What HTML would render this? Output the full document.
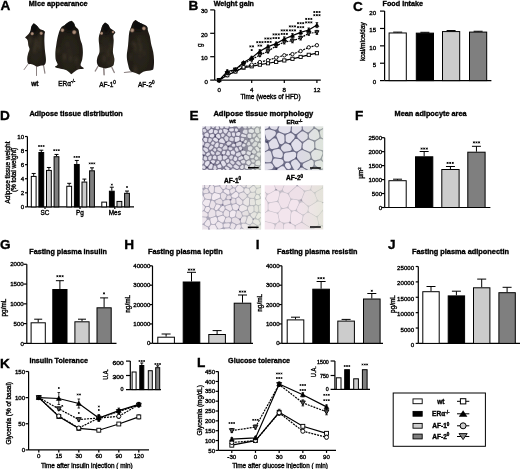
<!DOCTYPE html>
<html><head><meta charset="utf-8"><style>
html,body{margin:0;padding:0;background:#fff;width:520px;height:469px;overflow:hidden}
svg{display:block;font-family:"Liberation Sans",sans-serif;filter:blur(0.3px)}
</style></head><body>
<svg width="520" height="469" viewBox="0 0 520 469">
<defs>
<radialGradient id="mg" cx="50%" cy="60%" r="60%"><stop offset="0" stop-color="#2b261d"/><stop offset="0.7" stop-color="#221e17"/><stop offset="1" stop-color="#16130f"/></radialGradient>
<radialGradient id="eg"><stop offset="0" stop-color="#bca08c"/><stop offset="0.5" stop-color="#8e7260"/><stop offset="1" stop-color="#2a2119" stop-opacity="0"/></radialGradient>
<filter id="hb"><feGaussianBlur stdDeviation="0.3"/></filter>
<filter id="mb" x="-20%" y="-20%" width="140%" height="140%"><feGaussianBlur stdDeviation="0.35"/></filter>
<filter id="mb2" x="-50%" y="-50%" width="200%" height="200%"><feGaussianBlur stdDeviation="1.5"/></filter>
</defs>
<rect width="520" height="469" fill="#fff"/>
<g font-family="Liberation Sans, sans-serif">
<style>text{stroke:#000;stroke-width:0.35px}</style>
<text x="0.60" y="9.70" font-size="13.6" text-anchor="start" font-weight="bold" fill="#000">A</text>
<text x="28.80" y="5.60" font-size="7.3" text-anchor="start" font-weight="bold" fill="#000" textLength="58.7" lengthAdjust="spacingAndGlyphs">Mice appearance</text>
<clipPath id="mc1"><path d="M33.80 23.20C33.80 23.20 35.68 24.55 36.70 25.50C37.72 26.45 38.83 28.12 39.90 28.90C40.97 29.68 42.27 29.72 43.10 30.20C43.93 30.68 44.67 31.00 44.90 31.80C45.13 32.60 44.58 33.30 44.50 35.00C44.42 36.70 44.33 39.50 44.40 42.00C44.47 44.50 44.70 47.73 44.90 50.00C45.10 52.27 45.43 53.77 45.60 55.60C45.77 57.43 46.07 59.47 45.90 61.00C45.73 62.53 45.53 64.00 44.60 64.80C43.67 65.60 41.60 65.50 40.30 65.80C39.00 66.10 38.08 66.80 36.80 66.60C35.52 66.40 34.02 65.07 32.60 64.60C31.18 64.13 29.20 64.73 28.30 63.80C27.40 62.87 27.25 60.63 27.20 59.00C27.15 57.37 27.62 55.63 28.00 54.00C28.38 52.37 29.43 50.62 29.50 49.20C29.57 47.78 28.72 47.00 28.40 45.50C28.08 44.00 28.13 41.52 27.60 40.20C27.07 38.88 25.42 38.27 25.20 37.60C24.98 36.93 25.67 36.90 26.30 36.20C26.93 35.50 28.30 34.30 29.00 33.40C29.70 32.50 30.08 31.98 30.50 30.80C30.92 29.62 30.95 27.57 31.50 26.30C32.05 25.03 33.80 23.20 33.80 23.20Z"/></clipPath>
<line x1="27.8" y1="64.5" x2="24.1" y2="69.6" stroke="#8c8282" stroke-width="1.0" stroke-linecap="round" filter="url(#mb)"/>
<line x1="36.2" y1="66.5" x2="36.5" y2="75.2" stroke="#8c8282" stroke-width="1.5" stroke-linecap="round" filter="url(#mb)"/>
<line x1="43.5" y1="65.0" x2="44.9" y2="73.1" stroke="#8c8282" stroke-width="1.2" stroke-linecap="round" filter="url(#mb)"/>
<g filter="url(#mb)"><path d="M33.80 23.20C33.80 23.20 35.68 24.55 36.70 25.50C37.72 26.45 38.83 28.12 39.90 28.90C40.97 29.68 42.27 29.72 43.10 30.20C43.93 30.68 44.67 31.00 44.90 31.80C45.13 32.60 44.58 33.30 44.50 35.00C44.42 36.70 44.33 39.50 44.40 42.00C44.47 44.50 44.70 47.73 44.90 50.00C45.10 52.27 45.43 53.77 45.60 55.60C45.77 57.43 46.07 59.47 45.90 61.00C45.73 62.53 45.53 64.00 44.60 64.80C43.67 65.60 41.60 65.50 40.30 65.80C39.00 66.10 38.08 66.80 36.80 66.60C35.52 66.40 34.02 65.07 32.60 64.60C31.18 64.13 29.20 64.73 28.30 63.80C27.40 62.87 27.25 60.63 27.20 59.00C27.15 57.37 27.62 55.63 28.00 54.00C28.38 52.37 29.43 50.62 29.50 49.20C29.57 47.78 28.72 47.00 28.40 45.50C28.08 44.00 28.13 41.52 27.60 40.20C27.07 38.88 25.42 38.27 25.20 37.60C24.98 36.93 25.67 36.90 26.30 36.20C26.93 35.50 28.30 34.30 29.00 33.40C29.70 32.50 30.08 31.98 30.50 30.80C30.92 29.62 30.95 27.57 31.50 26.30C32.05 25.03 33.80 23.20 33.80 23.20Z" fill="url(#mg)"/>
<g clip-path="url(#mc1)"><ellipse cx="34.5" cy="28.5" rx="4.5" ry="6.5" fill="#0e0b09" opacity="0.8" filter="url(#mb2)"/>
<ellipse cx="40.1" cy="38.9" rx="1.4" ry="4.4" fill="#4e4536" opacity="0.45" filter="url(#mb2)"/>
<ellipse cx="35.5" cy="44.1" rx="1.0" ry="4.4" fill="#4e4536" opacity="0.45" filter="url(#mb2)"/>
<ellipse cx="30.0" cy="40.6" rx="1.5" ry="4.9" fill="#4e4536" opacity="0.45" filter="url(#mb2)"/>
<ellipse cx="27.3" cy="51.3" rx="1.6" ry="4.0" fill="#4e4536" opacity="0.45" filter="url(#mb2)"/>
<ellipse cx="39.3" cy="45.7" rx="1.7" ry="4.3" fill="#4e4536" opacity="0.45" filter="url(#mb2)"/>
<ellipse cx="36.3" cy="42.0" rx="1.2" ry="4.2" fill="#4e4536" opacity="0.45" filter="url(#mb2)"/>
<ellipse cx="34.6" cy="49.3" rx="1.4" ry="3.8" fill="#4e4536" opacity="0.45" filter="url(#mb2)"/>
<circle cx="32.2" cy="33.7" r="2.4000000000000004" fill="url(#eg)"/>
<circle cx="41.2" cy="33.3" r="2.4000000000000004" fill="url(#eg)"/>
</g></g>
<clipPath id="mc2"><path d="M71.70 20.80C71.70 20.80 73.57 22.42 74.20 23.40C74.83 24.38 74.82 25.70 75.50 26.70C76.18 27.70 77.68 28.27 78.30 29.40C78.92 30.53 78.83 31.73 79.20 33.50C79.57 35.27 80.00 38.08 80.50 40.00C81.00 41.92 81.80 42.95 82.20 45.00C82.60 47.05 82.90 49.87 82.90 52.30C82.90 54.73 82.58 57.43 82.20 59.60C81.82 61.77 80.33 63.83 80.60 65.30C80.87 66.77 84.15 67.75 83.80 68.40C83.45 69.05 79.98 68.70 78.50 69.20C77.02 69.70 76.12 70.57 74.90 71.40C73.68 72.23 71.20 74.20 71.20 74.20C71.20 74.20 68.28 71.12 66.50 70.20C64.72 69.28 62.42 69.23 60.50 68.70C58.58 68.17 55.48 67.70 55.00 67.00C54.52 66.30 57.48 65.73 57.60 64.50C57.72 63.27 56.07 61.63 55.70 59.60C55.33 57.57 55.32 54.65 55.40 52.30C55.48 49.95 55.88 47.75 56.20 45.50C56.52 43.25 56.88 40.85 57.30 38.80C57.72 36.75 58.08 35.05 58.70 33.20C59.32 31.35 60.03 29.02 61.00 27.70C61.97 26.38 63.35 26.17 64.50 25.30C65.65 24.43 66.70 23.25 67.90 22.50C69.10 21.75 71.70 20.80 71.70 20.80Z"/></clipPath>
<g filter="url(#mb)"><path d="M71.70 20.80C71.70 20.80 73.57 22.42 74.20 23.40C74.83 24.38 74.82 25.70 75.50 26.70C76.18 27.70 77.68 28.27 78.30 29.40C78.92 30.53 78.83 31.73 79.20 33.50C79.57 35.27 80.00 38.08 80.50 40.00C81.00 41.92 81.80 42.95 82.20 45.00C82.60 47.05 82.90 49.87 82.90 52.30C82.90 54.73 82.58 57.43 82.20 59.60C81.82 61.77 80.33 63.83 80.60 65.30C80.87 66.77 84.15 67.75 83.80 68.40C83.45 69.05 79.98 68.70 78.50 69.20C77.02 69.70 76.12 70.57 74.90 71.40C73.68 72.23 71.20 74.20 71.20 74.20C71.20 74.20 68.28 71.12 66.50 70.20C64.72 69.28 62.42 69.23 60.50 68.70C58.58 68.17 55.48 67.70 55.00 67.00C54.52 66.30 57.48 65.73 57.60 64.50C57.72 63.27 56.07 61.63 55.70 59.60C55.33 57.57 55.32 54.65 55.40 52.30C55.48 49.95 55.88 47.75 56.20 45.50C56.52 43.25 56.88 40.85 57.30 38.80C57.72 36.75 58.08 35.05 58.70 33.20C59.32 31.35 60.03 29.02 61.00 27.70C61.97 26.38 63.35 26.17 64.50 25.30C65.65 24.43 66.70 23.25 67.90 22.50C69.10 21.75 71.70 20.80 71.70 20.80Z" fill="url(#mg)"/>
<g clip-path="url(#mc2)"><ellipse cx="69.5" cy="26.5" rx="6.0" ry="6.0" fill="#0e0b09" opacity="0.8" filter="url(#mb2)"/>
<ellipse cx="64.3" cy="56.3" rx="1.0" ry="2.7" fill="#4e4536" opacity="0.45" filter="url(#mb2)"/>
<ellipse cx="76.5" cy="60.3" rx="1.4" ry="3.9" fill="#4e4536" opacity="0.45" filter="url(#mb2)"/>
<ellipse cx="58.0" cy="50.8" rx="1.7" ry="2.7" fill="#4e4536" opacity="0.45" filter="url(#mb2)"/>
<ellipse cx="78.4" cy="67.3" rx="0.9" ry="4.1" fill="#4e4536" opacity="0.45" filter="url(#mb2)"/>
<ellipse cx="70.7" cy="58.4" rx="1.3" ry="3.2" fill="#4e4536" opacity="0.45" filter="url(#mb2)"/>
<ellipse cx="64.4" cy="57.3" rx="1.2" ry="4.5" fill="#4e4536" opacity="0.45" filter="url(#mb2)"/>
<ellipse cx="67.4" cy="44.1" rx="1.0" ry="2.6" fill="#4e4536" opacity="0.45" filter="url(#mb2)"/>
<circle cx="62.4" cy="30.2" r="2.7" fill="url(#eg)"/>
<circle cx="74.2" cy="32.2" r="3.0" fill="url(#eg)"/>
</g></g>
<clipPath id="mc3"><path d="M105.10 22.40C105.10 22.40 107.40 23.68 108.30 24.70C109.20 25.72 109.63 27.55 110.50 28.50C111.37 29.45 112.70 29.73 113.50 30.40C114.30 31.07 115.32 31.68 115.30 32.50C115.28 33.32 113.67 33.98 113.40 35.30C113.13 36.62 113.72 38.62 113.70 40.40C113.68 42.18 113.43 44.07 113.30 46.00C113.17 47.93 112.73 49.92 112.90 52.00C113.07 54.08 114.12 56.67 114.30 58.50C114.48 60.33 114.22 61.78 114.00 63.00C113.78 64.22 113.75 65.03 113.00 65.80C112.25 66.57 110.75 67.15 109.50 67.60C108.25 68.05 106.83 68.50 105.50 68.50C104.17 68.50 102.67 67.97 101.50 67.60C100.33 67.23 99.27 67.15 98.50 66.30C97.73 65.45 97.10 63.93 96.90 62.50C96.70 61.07 96.87 59.45 97.30 57.70C97.73 55.95 99.18 54.12 99.50 52.00C99.82 49.88 99.33 47.00 99.20 45.00C99.07 43.00 98.72 41.58 98.70 40.00C98.68 38.42 98.77 37.03 99.10 35.50C99.43 33.97 100.15 32.47 100.70 30.80C101.25 29.13 101.67 26.90 102.40 25.50C103.13 24.10 105.10 22.40 105.10 22.40Z"/></clipPath>
<line x1="97.9" y1="66.5" x2="95.2" y2="71.1" stroke="#8c8282" stroke-width="1.2" stroke-linecap="round" filter="url(#mb)"/>
<line x1="103.8" y1="68.0" x2="104.1" y2="74.7" stroke="#8c8282" stroke-width="1.5" stroke-linecap="round" filter="url(#mb)"/>
<line x1="111.9" y1="67.5" x2="114.3" y2="72.5" stroke="#8c8282" stroke-width="1.3" stroke-linecap="round" filter="url(#mb)"/>
<g filter="url(#mb)"><path d="M105.10 22.40C105.10 22.40 107.40 23.68 108.30 24.70C109.20 25.72 109.63 27.55 110.50 28.50C111.37 29.45 112.70 29.73 113.50 30.40C114.30 31.07 115.32 31.68 115.30 32.50C115.28 33.32 113.67 33.98 113.40 35.30C113.13 36.62 113.72 38.62 113.70 40.40C113.68 42.18 113.43 44.07 113.30 46.00C113.17 47.93 112.73 49.92 112.90 52.00C113.07 54.08 114.12 56.67 114.30 58.50C114.48 60.33 114.22 61.78 114.00 63.00C113.78 64.22 113.75 65.03 113.00 65.80C112.25 66.57 110.75 67.15 109.50 67.60C108.25 68.05 106.83 68.50 105.50 68.50C104.17 68.50 102.67 67.97 101.50 67.60C100.33 67.23 99.27 67.15 98.50 66.30C97.73 65.45 97.10 63.93 96.90 62.50C96.70 61.07 96.87 59.45 97.30 57.70C97.73 55.95 99.18 54.12 99.50 52.00C99.82 49.88 99.33 47.00 99.20 45.00C99.07 43.00 98.72 41.58 98.70 40.00C98.68 38.42 98.77 37.03 99.10 35.50C99.43 33.97 100.15 32.47 100.70 30.80C101.25 29.13 101.67 26.90 102.40 25.50C103.13 24.10 105.10 22.40 105.10 22.40Z" fill="url(#mg)"/>
<g clip-path="url(#mc3)"><ellipse cx="106.0" cy="28.0" rx="4.5" ry="6.5" fill="#0e0b09" opacity="0.8" filter="url(#mb2)"/>
<ellipse cx="112.7" cy="57.4" rx="1.8" ry="3.1" fill="#4e4536" opacity="0.45" filter="url(#mb2)"/>
<ellipse cx="104.1" cy="58.5" rx="1.8" ry="3.3" fill="#4e4536" opacity="0.45" filter="url(#mb2)"/>
<ellipse cx="100.9" cy="48.9" rx="1.1" ry="3.4" fill="#4e4536" opacity="0.45" filter="url(#mb2)"/>
<ellipse cx="109.1" cy="62.8" rx="1.3" ry="3.1" fill="#4e4536" opacity="0.45" filter="url(#mb2)"/>
<ellipse cx="108.6" cy="53.7" rx="1.3" ry="4.7" fill="#4e4536" opacity="0.45" filter="url(#mb2)"/>
<ellipse cx="111.0" cy="46.8" rx="1.4" ry="4.2" fill="#4e4536" opacity="0.45" filter="url(#mb2)"/>
<ellipse cx="112.9" cy="62.6" rx="1.7" ry="4.1" fill="#4e4536" opacity="0.45" filter="url(#mb2)"/>
<circle cx="101.6" cy="33.3" r="2.25" fill="url(#eg)"/>
<circle cx="113.0" cy="32.0" r="1.9500000000000002" fill="url(#eg)"/>
</g></g>
<clipPath id="mc4"><path d="M135.50 20.00C135.50 20.00 138.65 22.13 140.30 23.00C141.95 23.87 144.18 24.45 145.40 25.20C146.62 25.95 147.18 26.60 147.60 27.50C148.02 28.40 147.52 29.10 147.90 30.60C148.28 32.10 149.37 34.30 149.90 36.50C150.43 38.70 150.55 41.20 151.10 43.80C151.65 46.40 152.72 49.37 153.20 52.10C153.68 54.83 153.93 57.65 154.00 60.20C154.07 62.75 153.93 65.77 153.60 67.40C153.27 69.03 153.57 69.30 152.00 70.00C150.43 70.70 146.30 70.82 144.20 71.60C142.10 72.38 139.40 74.70 139.40 74.70C139.40 74.70 137.70 73.85 136.20 73.20C134.70 72.55 131.77 72.30 130.40 70.80C129.03 69.30 128.60 66.65 128.00 64.20C127.40 61.75 126.80 59.13 126.80 56.10C126.80 53.07 127.72 48.67 128.00 46.00C128.28 43.33 128.30 42.30 128.50 40.10C128.70 37.90 128.83 34.80 129.20 32.80C129.57 30.80 130.08 29.82 130.70 28.10C131.32 26.38 132.10 23.85 132.90 22.50C133.70 21.15 135.50 20.00 135.50 20.00Z"/></clipPath>
<line x1="124.4" y1="72.5" x2="132.0" y2="71.7" stroke="#8c8282" stroke-width="1.2" stroke-linecap="round" filter="url(#mb)"/>
<line x1="152.3" y1="70.6" x2="158.8" y2="70.6" stroke="#8c8282" stroke-width="1.2" stroke-linecap="round" filter="url(#mb)"/>
<g filter="url(#mb)"><path d="M135.50 20.00C135.50 20.00 138.65 22.13 140.30 23.00C141.95 23.87 144.18 24.45 145.40 25.20C146.62 25.95 147.18 26.60 147.60 27.50C148.02 28.40 147.52 29.10 147.90 30.60C148.28 32.10 149.37 34.30 149.90 36.50C150.43 38.70 150.55 41.20 151.10 43.80C151.65 46.40 152.72 49.37 153.20 52.10C153.68 54.83 153.93 57.65 154.00 60.20C154.07 62.75 153.93 65.77 153.60 67.40C153.27 69.03 153.57 69.30 152.00 70.00C150.43 70.70 146.30 70.82 144.20 71.60C142.10 72.38 139.40 74.70 139.40 74.70C139.40 74.70 137.70 73.85 136.20 73.20C134.70 72.55 131.77 72.30 130.40 70.80C129.03 69.30 128.60 66.65 128.00 64.20C127.40 61.75 126.80 59.13 126.80 56.10C126.80 53.07 127.72 48.67 128.00 46.00C128.28 43.33 128.30 42.30 128.50 40.10C128.70 37.90 128.83 34.80 129.20 32.80C129.57 30.80 130.08 29.82 130.70 28.10C131.32 26.38 132.10 23.85 132.90 22.50C133.70 21.15 135.50 20.00 135.50 20.00Z" fill="url(#mg)"/>
<g clip-path="url(#mc4)"><ellipse cx="138.5" cy="25.5" rx="6.0" ry="6.0" fill="#0e0b09" opacity="0.8" filter="url(#mb2)"/>
<ellipse cx="135.4" cy="70.3" rx="1.6" ry="5.0" fill="#4e4536" opacity="0.45" filter="url(#mb2)"/>
<ellipse cx="133.6" cy="43.6" rx="1.7" ry="2.7" fill="#4e4536" opacity="0.45" filter="url(#mb2)"/>
<ellipse cx="130.5" cy="56.8" rx="0.9" ry="3.5" fill="#4e4536" opacity="0.45" filter="url(#mb2)"/>
<ellipse cx="144.3" cy="53.1" rx="0.8" ry="3.0" fill="#4e4536" opacity="0.45" filter="url(#mb2)"/>
<ellipse cx="139.2" cy="41.2" rx="1.1" ry="4.9" fill="#4e4536" opacity="0.45" filter="url(#mb2)"/>
<ellipse cx="135.4" cy="47.9" rx="1.2" ry="4.6" fill="#4e4536" opacity="0.45" filter="url(#mb2)"/>
<ellipse cx="140.6" cy="47.9" rx="1.1" ry="4.9" fill="#4e4536" opacity="0.45" filter="url(#mb2)"/>
<circle cx="132.2" cy="30.3" r="3.0" fill="url(#eg)"/>
<circle cx="143.9" cy="28.4" r="2.7" fill="url(#eg)"/>
</g></g>
<text x="34.90" y="83.50" font-size="6.5" text-anchor="middle" font-weight="bold" dominant-baseline="central" fill="#000">wt</text>
<text x="66.8" y="83.6" font-size="6.5" text-anchor="middle" dominant-baseline="central">ER&#945;<tspan font-size="4.5" dy="-2.2">-/-</tspan></text>
<text x="107.5" y="84.6" font-size="6.5" text-anchor="middle" dominant-baseline="central">AF-1<tspan font-size="4.5" dy="-2.2">0</tspan></text>
<text x="146.3" y="84.6" font-size="6.5" text-anchor="middle" dominant-baseline="central">AF-2<tspan font-size="4.5" dy="-2.2">0</tspan></text>
<text x="188.60" y="10.10" font-size="13.6" text-anchor="start" font-weight="bold" fill="#000">B</text>
<text x="213.70" y="5.80" font-size="7.3" text-anchor="start" font-weight="bold" fill="#000" textLength="40.3" lengthAdjust="spacingAndGlyphs">Weight gain</text>
<line x1="214.70" y1="9.90" x2="214.70" y2="80.10" stroke="#000" stroke-width="1.2"/>
<line x1="210.20" y1="80.10" x2="214.70" y2="80.10" stroke="#000" stroke-width="1.2"/>
<text x="207.80" y="81.10" font-size="6.15" text-anchor="end" dominant-baseline="central" fill="#000">0</text>
<line x1="210.20" y1="56.70" x2="214.70" y2="56.70" stroke="#000" stroke-width="1.2"/>
<text x="207.80" y="57.70" font-size="6.15" text-anchor="end" dominant-baseline="central" fill="#000">10</text>
<line x1="210.20" y1="33.30" x2="214.70" y2="33.30" stroke="#000" stroke-width="1.2"/>
<text x="207.80" y="34.30" font-size="6.15" text-anchor="end" dominant-baseline="central" fill="#000">20</text>
<line x1="210.20" y1="9.90" x2="214.70" y2="9.90" stroke="#000" stroke-width="1.2"/>
<text x="207.80" y="10.90" font-size="6.15" text-anchor="end" dominant-baseline="central" fill="#000">30</text>
<line x1="214.70" y1="80.10" x2="320.80" y2="80.10" stroke="#000" stroke-width="1.2"/>
<line x1="219.10" y1="80.10" x2="219.10" y2="83.10" stroke="#000" stroke-width="1.2"/>
<text x="219.10" y="89.60" font-size="6.15" text-anchor="middle" dominant-baseline="central" fill="#000">0</text>
<line x1="251.70" y1="80.10" x2="251.70" y2="83.10" stroke="#000" stroke-width="1.2"/>
<text x="251.70" y="89.60" font-size="6.15" text-anchor="middle" dominant-baseline="central" fill="#000">4</text>
<line x1="284.30" y1="80.10" x2="284.30" y2="83.10" stroke="#000" stroke-width="1.2"/>
<text x="284.30" y="89.60" font-size="6.15" text-anchor="middle" dominant-baseline="central" fill="#000">8</text>
<line x1="316.90" y1="80.10" x2="316.90" y2="83.10" stroke="#000" stroke-width="1.2"/>
<text x="316.90" y="89.60" font-size="6.15" text-anchor="middle" dominant-baseline="central" fill="#000">12</text>
<text x="270.50" y="96.20" font-size="6.4" text-anchor="middle" dominant-baseline="central" fill="#000">Time (weeks of HFD)</text>
<text x="199.40" y="45.30" font-size="6.4" text-anchor="middle" dominant-baseline="central" transform="rotate(-90 199.40 45.30)" fill="#000">g</text>
<polyline points="219.10,80.10 227.25,75.19 235.40,71.44 243.55,67.70 251.70,66.29 259.85,64.66 268.00,63.25 276.15,61.85 284.30,60.44 292.45,58.81 300.60,56.93 308.75,54.83 316.90,53.19" fill="none" stroke="#000" stroke-width="1.2"/>
<polyline points="219.10,80.10 227.25,75.19 235.40,71.44 243.55,67.00 251.70,64.66 259.85,62.08 268.00,60.21 276.15,57.64 284.30,55.30 292.45,54.13 300.60,51.08 308.75,47.34 316.90,45.23" fill="none" stroke="#000" stroke-width="1.2" stroke-dasharray="2,1"/>
<polyline points="219.10,80.10 227.25,71.44 235.40,69.57 243.55,62.55 251.70,57.87 259.85,51.32 268.00,46.64 276.15,43.60 284.30,38.92 292.45,35.64 300.60,32.36 308.75,30.02 316.90,25.11" fill="none" stroke="#000" stroke-width="1.2"/>
<polyline points="219.10,80.10 227.25,73.08 235.40,69.57 243.55,63.72 251.70,59.51 259.85,55.06 268.00,51.32 276.15,45.94 284.30,41.96 292.45,40.79 300.60,37.98 308.75,33.30 316.90,32.36" fill="none" stroke="#000" stroke-width="1.2" stroke-dasharray="2,1"/>
<rect x="217.50" y="78.50" width="3.20" height="3.20" fill="#fff" stroke="#000" stroke-width="0.9"/>
<rect x="225.65" y="73.59" width="3.20" height="3.20" fill="#fff" stroke="#000" stroke-width="0.9"/>
<rect x="233.80" y="69.84" width="3.20" height="3.20" fill="#fff" stroke="#000" stroke-width="0.9"/>
<rect x="241.95" y="66.10" width="3.20" height="3.20" fill="#fff" stroke="#000" stroke-width="0.9"/>
<rect x="250.10" y="64.69" width="3.20" height="3.20" fill="#fff" stroke="#000" stroke-width="0.9"/>
<rect x="258.25" y="63.06" width="3.20" height="3.20" fill="#fff" stroke="#000" stroke-width="0.9"/>
<rect x="266.40" y="61.65" width="3.20" height="3.20" fill="#fff" stroke="#000" stroke-width="0.9"/>
<rect x="274.55" y="60.25" width="3.20" height="3.20" fill="#fff" stroke="#000" stroke-width="0.9"/>
<rect x="282.70" y="58.84" width="3.20" height="3.20" fill="#fff" stroke="#000" stroke-width="0.9"/>
<rect x="290.85" y="57.21" width="3.20" height="3.20" fill="#fff" stroke="#000" stroke-width="0.9"/>
<rect x="299.00" y="55.33" width="3.20" height="3.20" fill="#fff" stroke="#000" stroke-width="0.9"/>
<rect x="307.15" y="53.23" width="3.20" height="3.20" fill="#fff" stroke="#000" stroke-width="0.9"/>
<rect x="315.30" y="51.59" width="3.20" height="3.20" fill="#fff" stroke="#000" stroke-width="0.9"/>
<circle cx="219.10" cy="80.10" r="1.70" fill="#fff" stroke="#000" stroke-width="0.9"/>
<circle cx="227.25" cy="75.19" r="1.70" fill="#fff" stroke="#000" stroke-width="0.9"/>
<circle cx="235.40" cy="71.44" r="1.70" fill="#fff" stroke="#000" stroke-width="0.9"/>
<circle cx="243.55" cy="67.00" r="1.70" fill="#fff" stroke="#000" stroke-width="0.9"/>
<circle cx="251.70" cy="64.66" r="1.70" fill="#fff" stroke="#000" stroke-width="0.9"/>
<circle cx="259.85" cy="62.08" r="1.70" fill="#fff" stroke="#000" stroke-width="0.9"/>
<circle cx="268.00" cy="60.21" r="1.70" fill="#fff" stroke="#000" stroke-width="0.9"/>
<circle cx="276.15" cy="57.64" r="1.70" fill="#fff" stroke="#000" stroke-width="0.9"/>
<circle cx="284.30" cy="55.30" r="1.70" fill="#fff" stroke="#000" stroke-width="0.9"/>
<circle cx="292.45" cy="54.13" r="1.70" fill="#fff" stroke="#000" stroke-width="0.9"/>
<circle cx="300.60" cy="51.08" r="1.70" fill="#fff" stroke="#000" stroke-width="0.9"/>
<circle cx="308.75" cy="47.34" r="1.70" fill="#fff" stroke="#000" stroke-width="0.9"/>
<circle cx="316.90" cy="45.23" r="1.70" fill="#fff" stroke="#000" stroke-width="0.9"/>
<path d="M219.10 82.20L221.20 78.50L217.00 78.50Z" fill="#555" stroke="#000" stroke-width="0.9"/>
<line x1="227.25" y1="71.58" x2="227.25" y2="74.58" stroke="#000" stroke-width="0.8"/>
<line x1="225.95" y1="71.58" x2="228.55" y2="71.58" stroke="#000" stroke-width="0.8"/>
<line x1="225.95" y1="74.58" x2="228.55" y2="74.58" stroke="#000" stroke-width="0.8"/>
<path d="M227.25 75.18L229.35 71.48L225.15 71.48Z" fill="#555" stroke="#000" stroke-width="0.9"/>
<line x1="235.40" y1="68.57" x2="235.40" y2="70.57" stroke="#000" stroke-width="0.8"/>
<line x1="234.10" y1="68.57" x2="236.70" y2="68.57" stroke="#000" stroke-width="0.8"/>
<line x1="234.10" y1="70.57" x2="236.70" y2="70.57" stroke="#000" stroke-width="0.8"/>
<path d="M235.40 71.67L237.50 67.97L233.30 67.97Z" fill="#555" stroke="#000" stroke-width="0.9"/>
<line x1="243.55" y1="62.72" x2="243.55" y2="64.72" stroke="#000" stroke-width="0.8"/>
<line x1="242.25" y1="62.72" x2="244.85" y2="62.72" stroke="#000" stroke-width="0.8"/>
<line x1="242.25" y1="64.72" x2="244.85" y2="64.72" stroke="#000" stroke-width="0.8"/>
<path d="M243.55 65.82L245.65 62.12L241.45 62.12Z" fill="#555" stroke="#000" stroke-width="0.9"/>
<line x1="251.70" y1="58.01" x2="251.70" y2="61.01" stroke="#000" stroke-width="0.8"/>
<line x1="250.40" y1="58.01" x2="253.00" y2="58.01" stroke="#000" stroke-width="0.8"/>
<line x1="250.40" y1="61.01" x2="253.00" y2="61.01" stroke="#000" stroke-width="0.8"/>
<path d="M251.70 61.61L253.80 57.91L249.60 57.91Z" fill="#555" stroke="#000" stroke-width="0.9"/>
<line x1="259.85" y1="53.56" x2="259.85" y2="56.56" stroke="#000" stroke-width="0.8"/>
<line x1="258.55" y1="53.56" x2="261.15" y2="53.56" stroke="#000" stroke-width="0.8"/>
<line x1="258.55" y1="56.56" x2="261.15" y2="56.56" stroke="#000" stroke-width="0.8"/>
<path d="M259.85 57.16L261.95 53.46L257.75 53.46Z" fill="#555" stroke="#000" stroke-width="0.9"/>
<line x1="268.00" y1="49.82" x2="268.00" y2="52.82" stroke="#000" stroke-width="0.8"/>
<line x1="266.70" y1="49.82" x2="269.30" y2="49.82" stroke="#000" stroke-width="0.8"/>
<line x1="266.70" y1="52.82" x2="269.30" y2="52.82" stroke="#000" stroke-width="0.8"/>
<path d="M268.00 53.42L270.10 49.72L265.90 49.72Z" fill="#555" stroke="#000" stroke-width="0.9"/>
<line x1="276.15" y1="44.44" x2="276.15" y2="47.44" stroke="#000" stroke-width="0.8"/>
<line x1="274.85" y1="44.44" x2="277.45" y2="44.44" stroke="#000" stroke-width="0.8"/>
<line x1="274.85" y1="47.44" x2="277.45" y2="47.44" stroke="#000" stroke-width="0.8"/>
<path d="M276.15 48.04L278.25 44.34L274.05 44.34Z" fill="#555" stroke="#000" stroke-width="0.9"/>
<line x1="284.30" y1="39.96" x2="284.30" y2="43.96" stroke="#000" stroke-width="0.8"/>
<line x1="283.00" y1="39.96" x2="285.60" y2="39.96" stroke="#000" stroke-width="0.8"/>
<line x1="283.00" y1="43.96" x2="285.60" y2="43.96" stroke="#000" stroke-width="0.8"/>
<path d="M284.30 44.06L286.40 40.36L282.20 40.36Z" fill="#555" stroke="#000" stroke-width="0.9"/>
<line x1="292.45" y1="38.79" x2="292.45" y2="42.79" stroke="#000" stroke-width="0.8"/>
<line x1="291.15" y1="38.79" x2="293.75" y2="38.79" stroke="#000" stroke-width="0.8"/>
<line x1="291.15" y1="42.79" x2="293.75" y2="42.79" stroke="#000" stroke-width="0.8"/>
<path d="M292.45 42.89L294.55 39.19L290.35 39.19Z" fill="#555" stroke="#000" stroke-width="0.9"/>
<line x1="300.60" y1="35.98" x2="300.60" y2="39.98" stroke="#000" stroke-width="0.8"/>
<line x1="299.30" y1="35.98" x2="301.90" y2="35.98" stroke="#000" stroke-width="0.8"/>
<line x1="299.30" y1="39.98" x2="301.90" y2="39.98" stroke="#000" stroke-width="0.8"/>
<path d="M300.60 40.08L302.70 36.38L298.50 36.38Z" fill="#555" stroke="#000" stroke-width="0.9"/>
<line x1="308.75" y1="31.30" x2="308.75" y2="35.30" stroke="#000" stroke-width="0.8"/>
<line x1="307.45" y1="31.30" x2="310.05" y2="31.30" stroke="#000" stroke-width="0.8"/>
<line x1="307.45" y1="35.30" x2="310.05" y2="35.30" stroke="#000" stroke-width="0.8"/>
<path d="M308.75 35.40L310.85 31.70L306.65 31.70Z" fill="#555" stroke="#000" stroke-width="0.9"/>
<line x1="316.90" y1="30.36" x2="316.90" y2="34.36" stroke="#000" stroke-width="0.8"/>
<line x1="315.60" y1="30.36" x2="318.20" y2="30.36" stroke="#000" stroke-width="0.8"/>
<line x1="315.60" y1="34.36" x2="318.20" y2="34.36" stroke="#000" stroke-width="0.8"/>
<path d="M316.90 34.46L319.00 30.76L314.80 30.76Z" fill="#555" stroke="#000" stroke-width="0.9"/>
<path d="M219.10 78.00L221.20 81.70L217.00 81.70Z" fill="#000" stroke="#000" stroke-width="0.54"/>
<line x1="227.25" y1="69.94" x2="227.25" y2="72.94" stroke="#000" stroke-width="0.8"/>
<line x1="225.95" y1="69.94" x2="228.55" y2="69.94" stroke="#000" stroke-width="0.8"/>
<line x1="225.95" y1="72.94" x2="228.55" y2="72.94" stroke="#000" stroke-width="0.8"/>
<path d="M227.25 69.34L229.35 73.04L225.15 73.04Z" fill="#000" stroke="#000" stroke-width="0.54"/>
<line x1="235.40" y1="68.57" x2="235.40" y2="70.57" stroke="#000" stroke-width="0.8"/>
<line x1="234.10" y1="68.57" x2="236.70" y2="68.57" stroke="#000" stroke-width="0.8"/>
<line x1="234.10" y1="70.57" x2="236.70" y2="70.57" stroke="#000" stroke-width="0.8"/>
<path d="M235.40 67.47L237.50 71.17L233.30 71.17Z" fill="#000" stroke="#000" stroke-width="0.54"/>
<line x1="243.55" y1="61.55" x2="243.55" y2="63.55" stroke="#000" stroke-width="0.8"/>
<line x1="242.25" y1="61.55" x2="244.85" y2="61.55" stroke="#000" stroke-width="0.8"/>
<line x1="242.25" y1="63.55" x2="244.85" y2="63.55" stroke="#000" stroke-width="0.8"/>
<path d="M243.55 60.45L245.65 64.15L241.45 64.15Z" fill="#000" stroke="#000" stroke-width="0.54"/>
<line x1="251.70" y1="56.37" x2="251.70" y2="59.37" stroke="#000" stroke-width="0.8"/>
<line x1="250.40" y1="56.37" x2="253.00" y2="56.37" stroke="#000" stroke-width="0.8"/>
<line x1="250.40" y1="59.37" x2="253.00" y2="59.37" stroke="#000" stroke-width="0.8"/>
<path d="M251.70 55.77L253.80 59.47L249.60 59.47Z" fill="#000" stroke="#000" stroke-width="0.54"/>
<line x1="259.85" y1="49.82" x2="259.85" y2="52.82" stroke="#000" stroke-width="0.8"/>
<line x1="258.55" y1="49.82" x2="261.15" y2="49.82" stroke="#000" stroke-width="0.8"/>
<line x1="258.55" y1="52.82" x2="261.15" y2="52.82" stroke="#000" stroke-width="0.8"/>
<path d="M259.85 49.22L261.95 52.92L257.75 52.92Z" fill="#000" stroke="#000" stroke-width="0.54"/>
<line x1="268.00" y1="45.14" x2="268.00" y2="48.14" stroke="#000" stroke-width="0.8"/>
<line x1="266.70" y1="45.14" x2="269.30" y2="45.14" stroke="#000" stroke-width="0.8"/>
<line x1="266.70" y1="48.14" x2="269.30" y2="48.14" stroke="#000" stroke-width="0.8"/>
<path d="M268.00 44.54L270.10 48.24L265.90 48.24Z" fill="#000" stroke="#000" stroke-width="0.54"/>
<line x1="276.15" y1="42.10" x2="276.15" y2="45.10" stroke="#000" stroke-width="0.8"/>
<line x1="274.85" y1="42.10" x2="277.45" y2="42.10" stroke="#000" stroke-width="0.8"/>
<line x1="274.85" y1="45.10" x2="277.45" y2="45.10" stroke="#000" stroke-width="0.8"/>
<path d="M276.15 41.50L278.25 45.20L274.05 45.20Z" fill="#000" stroke="#000" stroke-width="0.54"/>
<line x1="284.30" y1="36.92" x2="284.30" y2="40.92" stroke="#000" stroke-width="0.8"/>
<line x1="283.00" y1="36.92" x2="285.60" y2="36.92" stroke="#000" stroke-width="0.8"/>
<line x1="283.00" y1="40.92" x2="285.60" y2="40.92" stroke="#000" stroke-width="0.8"/>
<path d="M284.30 36.82L286.40 40.52L282.20 40.52Z" fill="#000" stroke="#000" stroke-width="0.54"/>
<line x1="292.45" y1="33.64" x2="292.45" y2="37.64" stroke="#000" stroke-width="0.8"/>
<line x1="291.15" y1="33.64" x2="293.75" y2="33.64" stroke="#000" stroke-width="0.8"/>
<line x1="291.15" y1="37.64" x2="293.75" y2="37.64" stroke="#000" stroke-width="0.8"/>
<path d="M292.45 33.54L294.55 37.24L290.35 37.24Z" fill="#000" stroke="#000" stroke-width="0.54"/>
<line x1="300.60" y1="30.36" x2="300.60" y2="34.36" stroke="#000" stroke-width="0.8"/>
<line x1="299.30" y1="30.36" x2="301.90" y2="30.36" stroke="#000" stroke-width="0.8"/>
<line x1="299.30" y1="34.36" x2="301.90" y2="34.36" stroke="#000" stroke-width="0.8"/>
<path d="M300.60 30.26L302.70 33.96L298.50 33.96Z" fill="#000" stroke="#000" stroke-width="0.54"/>
<line x1="308.75" y1="28.02" x2="308.75" y2="32.02" stroke="#000" stroke-width="0.8"/>
<line x1="307.45" y1="28.02" x2="310.05" y2="28.02" stroke="#000" stroke-width="0.8"/>
<line x1="307.45" y1="32.02" x2="310.05" y2="32.02" stroke="#000" stroke-width="0.8"/>
<path d="M308.75 27.92L310.85 31.62L306.65 31.62Z" fill="#000" stroke="#000" stroke-width="0.54"/>
<line x1="316.90" y1="22.61" x2="316.90" y2="27.61" stroke="#000" stroke-width="0.8"/>
<line x1="315.60" y1="22.61" x2="318.20" y2="22.61" stroke="#000" stroke-width="0.8"/>
<line x1="315.60" y1="27.61" x2="318.20" y2="27.61" stroke="#000" stroke-width="0.8"/>
<path d="M316.90 23.01L319.00 26.71L314.80 26.71Z" fill="#000" stroke="#000" stroke-width="0.54"/>
<path d="M249.47 46.40h1.87M249.84 45.46l1.12 1.87M250.97 45.46l-1.12 1.87" stroke="#000" stroke-width="0.84" fill="none"/>
<path d="M252.06 46.40h1.87M252.43 45.46l1.12 1.87M253.56 45.46l-1.12 1.87" stroke="#000" stroke-width="0.84" fill="none"/>
<path d="M250.76 50.10h1.87M251.14 49.16l1.12 1.87M252.26 49.16l-1.12 1.87" stroke="#000" stroke-width="0.84" fill="none"/>
<path d="M256.32 42.20h1.87M256.70 41.26l1.12 1.87M257.82 41.26l-1.12 1.87" stroke="#000" stroke-width="0.84" fill="none"/>
<path d="M258.91 42.20h1.87M259.29 41.26l1.12 1.87M260.41 41.26l-1.12 1.87" stroke="#000" stroke-width="0.84" fill="none"/>
<path d="M261.51 42.20h1.87M261.88 41.26l1.12 1.87M263.00 41.26l-1.12 1.87" stroke="#000" stroke-width="0.84" fill="none"/>
<path d="M257.62 45.60h1.87M257.99 44.66l1.12 1.87M259.12 44.66l-1.12 1.87" stroke="#000" stroke-width="0.84" fill="none"/>
<path d="M260.21 45.60h1.87M260.58 44.66l1.12 1.87M261.71 44.66l-1.12 1.87" stroke="#000" stroke-width="0.84" fill="none"/>
<path d="M264.47 38.50h1.87M264.85 37.56l1.12 1.87M265.97 37.56l-1.12 1.87" stroke="#000" stroke-width="0.84" fill="none"/>
<path d="M267.06 38.50h1.87M267.44 37.56l1.12 1.87M268.56 37.56l-1.12 1.87" stroke="#000" stroke-width="0.84" fill="none"/>
<path d="M269.66 38.50h1.87M270.03 37.56l1.12 1.87M271.15 37.56l-1.12 1.87" stroke="#000" stroke-width="0.84" fill="none"/>
<path d="M264.47 41.90h1.87M264.85 40.96l1.12 1.87M265.97 40.96l-1.12 1.87" stroke="#000" stroke-width="0.84" fill="none"/>
<path d="M267.06 41.90h1.87M267.44 40.96l1.12 1.87M268.56 40.96l-1.12 1.87" stroke="#000" stroke-width="0.84" fill="none"/>
<path d="M269.66 41.90h1.87M270.03 40.96l1.12 1.87M271.15 40.96l-1.12 1.87" stroke="#000" stroke-width="0.84" fill="none"/>
<path d="M272.62 34.40h1.87M273.00 33.46l1.12 1.87M274.12 33.46l-1.12 1.87" stroke="#000" stroke-width="0.84" fill="none"/>
<path d="M275.21 34.40h1.87M275.59 33.46l1.12 1.87M276.71 33.46l-1.12 1.87" stroke="#000" stroke-width="0.84" fill="none"/>
<path d="M277.81 34.40h1.87M278.18 33.46l1.12 1.87M279.30 33.46l-1.12 1.87" stroke="#000" stroke-width="0.84" fill="none"/>
<path d="M272.62 38.10h1.87M273.00 37.16l1.12 1.87M274.12 37.16l-1.12 1.87" stroke="#000" stroke-width="0.84" fill="none"/>
<path d="M275.21 38.10h1.87M275.59 37.16l1.12 1.87M276.71 37.16l-1.12 1.87" stroke="#000" stroke-width="0.84" fill="none"/>
<path d="M277.81 38.10h1.87M278.18 37.16l1.12 1.87M279.30 37.16l-1.12 1.87" stroke="#000" stroke-width="0.84" fill="none"/>
<path d="M280.77 30.40h1.87M281.15 29.46l1.12 1.87M282.27 29.46l-1.12 1.87" stroke="#000" stroke-width="0.84" fill="none"/>
<path d="M283.36 30.40h1.87M283.74 29.46l1.12 1.87M284.86 29.46l-1.12 1.87" stroke="#000" stroke-width="0.84" fill="none"/>
<path d="M285.96 30.40h1.87M286.33 29.46l1.12 1.87M287.45 29.46l-1.12 1.87" stroke="#000" stroke-width="0.84" fill="none"/>
<path d="M280.77 33.90h1.87M281.15 32.96l1.12 1.87M282.27 32.96l-1.12 1.87" stroke="#000" stroke-width="0.84" fill="none"/>
<path d="M283.36 33.90h1.87M283.74 32.96l1.12 1.87M284.86 32.96l-1.12 1.87" stroke="#000" stroke-width="0.84" fill="none"/>
<path d="M285.96 33.90h1.87M286.33 32.96l1.12 1.87M287.45 32.96l-1.12 1.87" stroke="#000" stroke-width="0.84" fill="none"/>
<path d="M288.92 26.40h1.87M289.30 25.46l1.12 1.87M290.42 25.46l-1.12 1.87" stroke="#000" stroke-width="0.84" fill="none"/>
<path d="M291.51 26.40h1.87M291.89 25.46l1.12 1.87M293.01 25.46l-1.12 1.87" stroke="#000" stroke-width="0.84" fill="none"/>
<path d="M294.11 26.40h1.87M294.48 25.46l1.12 1.87M295.60 25.46l-1.12 1.87" stroke="#000" stroke-width="0.84" fill="none"/>
<path d="M288.92 30.40h1.87M289.30 29.46l1.12 1.87M290.42 29.46l-1.12 1.87" stroke="#000" stroke-width="0.84" fill="none"/>
<path d="M291.51 30.40h1.87M291.89 29.46l1.12 1.87M293.01 29.46l-1.12 1.87" stroke="#000" stroke-width="0.84" fill="none"/>
<path d="M294.11 30.40h1.87M294.48 29.46l1.12 1.87M295.60 29.46l-1.12 1.87" stroke="#000" stroke-width="0.84" fill="none"/>
<path d="M297.07 23.20h1.87M297.45 22.26l1.12 1.87M298.57 22.26l-1.12 1.87" stroke="#000" stroke-width="0.84" fill="none"/>
<path d="M299.66 23.20h1.87M300.04 22.26l1.12 1.87M301.16 22.26l-1.12 1.87" stroke="#000" stroke-width="0.84" fill="none"/>
<path d="M302.26 23.20h1.87M302.63 22.26l1.12 1.87M303.75 22.26l-1.12 1.87" stroke="#000" stroke-width="0.84" fill="none"/>
<path d="M297.07 27.20h1.87M297.45 26.26l1.12 1.87M298.57 26.26l-1.12 1.87" stroke="#000" stroke-width="0.84" fill="none"/>
<path d="M299.66 27.20h1.87M300.04 26.26l1.12 1.87M301.16 26.26l-1.12 1.87" stroke="#000" stroke-width="0.84" fill="none"/>
<path d="M302.26 27.20h1.87M302.63 26.26l1.12 1.87M303.75 26.26l-1.12 1.87" stroke="#000" stroke-width="0.84" fill="none"/>
<path d="M305.22 18.90h1.87M305.60 17.96l1.12 1.87M306.72 17.96l-1.12 1.87" stroke="#000" stroke-width="0.84" fill="none"/>
<path d="M307.81 18.90h1.87M308.19 17.96l1.12 1.87M309.31 17.96l-1.12 1.87" stroke="#000" stroke-width="0.84" fill="none"/>
<path d="M310.41 18.90h1.87M310.78 17.96l1.12 1.87M311.90 17.96l-1.12 1.87" stroke="#000" stroke-width="0.84" fill="none"/>
<path d="M305.22 22.40h1.87M305.60 21.46l1.12 1.87M306.72 21.46l-1.12 1.87" stroke="#000" stroke-width="0.84" fill="none"/>
<path d="M307.81 22.40h1.87M308.19 21.46l1.12 1.87M309.31 21.46l-1.12 1.87" stroke="#000" stroke-width="0.84" fill="none"/>
<path d="M310.41 22.40h1.87M310.78 21.46l1.12 1.87M311.90 21.46l-1.12 1.87" stroke="#000" stroke-width="0.84" fill="none"/>
<path d="M313.37 12.00h1.87M313.75 11.06l1.12 1.87M314.87 11.06l-1.12 1.87" stroke="#000" stroke-width="0.84" fill="none"/>
<path d="M315.96 12.00h1.87M316.34 11.06l1.12 1.87M317.46 11.06l-1.12 1.87" stroke="#000" stroke-width="0.84" fill="none"/>
<path d="M318.56 12.00h1.87M318.93 11.06l1.12 1.87M320.05 11.06l-1.12 1.87" stroke="#000" stroke-width="0.84" fill="none"/>
<path d="M313.37 15.20h1.87M313.75 14.26l1.12 1.87M314.87 14.26l-1.12 1.87" stroke="#000" stroke-width="0.84" fill="none"/>
<path d="M315.96 15.20h1.87M316.34 14.26l1.12 1.87M317.46 14.26l-1.12 1.87" stroke="#000" stroke-width="0.84" fill="none"/>
<path d="M318.56 15.20h1.87M318.93 14.26l1.12 1.87M320.05 14.26l-1.12 1.87" stroke="#000" stroke-width="0.84" fill="none"/>
<text x="352.90" y="10.60" font-size="13.6" text-anchor="start" font-weight="bold" fill="#000">C</text>
<text x="382.60" y="6.00" font-size="7.3" text-anchor="start" font-weight="bold" fill="#000" textLength="40.3" lengthAdjust="spacingAndGlyphs">Food intake</text>
<line x1="384.60" y1="11.10" x2="384.60" y2="80.60" stroke="#000" stroke-width="1.2"/>
<line x1="380.00" y1="80.60" x2="384.60" y2="80.60" stroke="#000" stroke-width="1.2"/>
<text x="376.20" y="81.80" font-size="6.15" text-anchor="end" dominant-baseline="central" fill="#000">0</text>
<line x1="380.00" y1="63.22" x2="384.60" y2="63.22" stroke="#000" stroke-width="1.2"/>
<text x="376.20" y="64.42" font-size="6.15" text-anchor="end" dominant-baseline="central" fill="#000">5</text>
<line x1="380.00" y1="45.85" x2="384.60" y2="45.85" stroke="#000" stroke-width="1.2"/>
<text x="376.20" y="47.05" font-size="6.15" text-anchor="end" dominant-baseline="central" fill="#000">10</text>
<line x1="380.00" y1="28.47" x2="384.60" y2="28.47" stroke="#000" stroke-width="1.2"/>
<text x="376.20" y="29.67" font-size="6.15" text-anchor="end" dominant-baseline="central" fill="#000">15</text>
<line x1="380.00" y1="11.10" x2="384.60" y2="11.10" stroke="#000" stroke-width="1.2"/>
<text x="376.20" y="12.30" font-size="6.15" text-anchor="end" dominant-baseline="central" fill="#000">20</text>
<line x1="384.60" y1="80.60" x2="491.40" y2="80.60" stroke="#000" stroke-width="1.2"/>
<text x="362.70" y="41.70" font-size="6.4" text-anchor="middle" dominant-baseline="central" transform="rotate(-90 362.70 41.70)" fill="#000">kcal/mice/day</text>
<line x1="397.70" y1="32.47" x2="397.70" y2="32.12" stroke="#000" stroke-width="1.0"/>
<line x1="393.20" y1="32.12" x2="402.20" y2="32.12" stroke="#000" stroke-width="1.0"/>
<rect x="389.10" y="32.97" width="17.20" height="47.63" fill="#ffffff" stroke="#000" stroke-width="1.0"/>
<line x1="424.90" y1="32.64" x2="424.90" y2="32.30" stroke="#000" stroke-width="1.0"/>
<line x1="420.40" y1="32.30" x2="429.40" y2="32.30" stroke="#000" stroke-width="1.0"/>
<rect x="416.30" y="33.14" width="17.20" height="47.46" fill="#000000" stroke="#000" stroke-width="1.0"/>
<line x1="451.10" y1="31.08" x2="451.10" y2="30.56" stroke="#000" stroke-width="1.0"/>
<line x1="446.60" y1="30.56" x2="455.60" y2="30.56" stroke="#000" stroke-width="1.0"/>
<rect x="442.50" y="31.58" width="17.20" height="49.02" fill="#cccccc" stroke="#000" stroke-width="1.0"/>
<line x1="478.10" y1="31.60" x2="478.10" y2="31.25" stroke="#000" stroke-width="1.0"/>
<line x1="473.60" y1="31.25" x2="482.60" y2="31.25" stroke="#000" stroke-width="1.0"/>
<rect x="469.50" y="32.10" width="17.20" height="48.50" fill="#7f7f7f" stroke="#000" stroke-width="1.0"/>
<text x="0.00" y="120.20" font-size="13.6" text-anchor="start" font-weight="bold" fill="#000">D</text>
<text x="29.40" y="115.60" font-size="7.3" text-anchor="start" font-weight="bold" fill="#000" textLength="93.4" lengthAdjust="spacingAndGlyphs">Adipose tissue distribution</text>
<line x1="27.40" y1="136.40" x2="27.40" y2="206.90" stroke="#000" stroke-width="1.2"/>
<line x1="25.00" y1="206.90" x2="27.40" y2="206.90" stroke="#000" stroke-width="1.2"/>
<text x="24.10" y="206.50" font-size="6.15" text-anchor="end" dominant-baseline="central" fill="#000">0</text>
<line x1="25.00" y1="192.82" x2="27.40" y2="192.82" stroke="#000" stroke-width="1.2"/>
<text x="24.10" y="192.42" font-size="6.15" text-anchor="end" dominant-baseline="central" fill="#000">2</text>
<line x1="25.00" y1="178.74" x2="27.40" y2="178.74" stroke="#000" stroke-width="1.2"/>
<text x="24.10" y="178.34" font-size="6.15" text-anchor="end" dominant-baseline="central" fill="#000">4</text>
<line x1="25.00" y1="164.66" x2="27.40" y2="164.66" stroke="#000" stroke-width="1.2"/>
<text x="24.10" y="164.26" font-size="6.15" text-anchor="end" dominant-baseline="central" fill="#000">6</text>
<line x1="25.00" y1="150.58" x2="27.40" y2="150.58" stroke="#000" stroke-width="1.2"/>
<text x="24.10" y="150.18" font-size="6.15" text-anchor="end" dominant-baseline="central" fill="#000">8</text>
<line x1="25.00" y1="136.50" x2="27.40" y2="136.50" stroke="#000" stroke-width="1.2"/>
<text x="24.10" y="136.10" font-size="6.15" text-anchor="end" dominant-baseline="central" fill="#000">10</text>
<line x1="27.60" y1="206.90" x2="134.00" y2="206.90" stroke="#000" stroke-width="1.2"/>
<text x="7.30" y="172.50" font-size="6.4" text-anchor="middle" dominant-baseline="central" transform="rotate(-90 7.30 172.50)" fill="#000">Adipose tissue weight</text>
<text x="13.20" y="170.00" font-size="6.4" text-anchor="middle" dominant-baseline="central" transform="rotate(-90 13.20 170.00)" fill="#000">(% total weight)</text>
<line x1="33.70" y1="175.92" x2="33.70" y2="173.46" stroke="#000" stroke-width="1.0"/>
<line x1="31.70" y1="173.46" x2="35.70" y2="173.46" stroke="#000" stroke-width="1.0"/>
<rect x="31.30" y="176.42" width="4.80" height="30.48" fill="#ffffff" stroke="#000" stroke-width="1.0"/>
<line x1="41.30" y1="151.99" x2="41.30" y2="150.23" stroke="#000" stroke-width="1.0"/>
<line x1="39.30" y1="150.23" x2="43.30" y2="150.23" stroke="#000" stroke-width="1.0"/>
<rect x="38.90" y="152.49" width="4.80" height="54.41" fill="#000000" stroke="#000" stroke-width="1.0"/>
<line x1="48.90" y1="169.94" x2="48.90" y2="167.48" stroke="#000" stroke-width="1.0"/>
<line x1="46.90" y1="167.48" x2="50.90" y2="167.48" stroke="#000" stroke-width="1.0"/>
<rect x="46.50" y="170.44" width="4.80" height="36.46" fill="#cccccc" stroke="#000" stroke-width="1.0"/>
<line x1="56.50" y1="156.21" x2="56.50" y2="154.45" stroke="#000" stroke-width="1.0"/>
<line x1="54.50" y1="154.45" x2="58.50" y2="154.45" stroke="#000" stroke-width="1.0"/>
<rect x="54.10" y="156.71" width="4.80" height="50.19" fill="#7f7f7f" stroke="#000" stroke-width="1.0"/>
<path d="M38.16 146.00h1.66M38.50 145.17l1.00 1.66M39.50 145.17l-1.00 1.66" stroke="#000" stroke-width="0.75" fill="none"/>
<path d="M40.47 146.00h1.66M40.80 145.17l1.00 1.66M41.80 145.17l-1.00 1.66" stroke="#000" stroke-width="0.75" fill="none"/>
<path d="M42.77 146.00h1.66M43.10 145.17l1.00 1.66M44.10 145.17l-1.00 1.66" stroke="#000" stroke-width="0.75" fill="none"/>
<path d="M53.36 150.20h1.66M53.70 149.37l1.00 1.66M54.70 149.37l-1.00 1.66" stroke="#000" stroke-width="0.75" fill="none"/>
<path d="M55.67 150.20h1.66M56.00 149.37l1.00 1.66M57.00 149.37l-1.00 1.66" stroke="#000" stroke-width="0.75" fill="none"/>
<path d="M57.97 150.20h1.66M58.30 149.37l1.00 1.66M59.30 149.37l-1.00 1.66" stroke="#000" stroke-width="0.75" fill="none"/>
<line x1="69.20" y1="185.78" x2="69.20" y2="183.32" stroke="#000" stroke-width="1.0"/>
<line x1="67.20" y1="183.32" x2="71.20" y2="183.32" stroke="#000" stroke-width="1.0"/>
<rect x="66.80" y="186.28" width="4.80" height="20.62" fill="#ffffff" stroke="#000" stroke-width="1.0"/>
<line x1="76.80" y1="163.96" x2="76.80" y2="160.44" stroke="#000" stroke-width="1.0"/>
<line x1="74.80" y1="160.44" x2="78.80" y2="160.44" stroke="#000" stroke-width="1.0"/>
<rect x="74.40" y="164.46" width="4.80" height="42.44" fill="#000000" stroke="#000" stroke-width="1.0"/>
<line x1="84.40" y1="181.56" x2="84.40" y2="179.09" stroke="#000" stroke-width="1.0"/>
<line x1="82.40" y1="179.09" x2="86.40" y2="179.09" stroke="#000" stroke-width="1.0"/>
<rect x="82.00" y="182.06" width="4.80" height="24.84" fill="#cccccc" stroke="#000" stroke-width="1.0"/>
<line x1="92.00" y1="170.29" x2="92.00" y2="167.83" stroke="#000" stroke-width="1.0"/>
<line x1="90.00" y1="167.83" x2="94.00" y2="167.83" stroke="#000" stroke-width="1.0"/>
<rect x="89.60" y="170.79" width="4.80" height="36.11" fill="#7f7f7f" stroke="#000" stroke-width="1.0"/>
<path d="M73.66 156.90h1.66M74.00 156.07l1.00 1.66M75.00 156.07l-1.00 1.66" stroke="#000" stroke-width="0.75" fill="none"/>
<path d="M75.97 156.90h1.66M76.30 156.07l1.00 1.66M77.30 156.07l-1.00 1.66" stroke="#000" stroke-width="0.75" fill="none"/>
<path d="M78.27 156.90h1.66M78.60 156.07l1.00 1.66M79.60 156.07l-1.00 1.66" stroke="#000" stroke-width="0.75" fill="none"/>
<path d="M88.86 163.40h1.66M89.20 162.57l1.00 1.66M90.20 162.57l-1.00 1.66" stroke="#000" stroke-width="0.75" fill="none"/>
<path d="M91.17 163.40h1.66M91.50 162.57l1.00 1.66M92.50 162.57l-1.00 1.66" stroke="#000" stroke-width="0.75" fill="none"/>
<path d="M93.47 163.40h1.66M93.80 162.57l1.00 1.66M94.80 162.57l-1.00 1.66" stroke="#000" stroke-width="0.75" fill="none"/>
<rect x="101.80" y="202.12" width="4.80" height="4.78" fill="#ffffff" stroke="#000" stroke-width="1.0"/>
<line x1="111.80" y1="190.71" x2="111.80" y2="187.19" stroke="#000" stroke-width="1.0"/>
<line x1="109.80" y1="187.19" x2="113.80" y2="187.19" stroke="#000" stroke-width="1.0"/>
<rect x="109.40" y="191.21" width="4.80" height="15.69" fill="#000000" stroke="#000" stroke-width="1.0"/>
<rect x="117.00" y="201.42" width="4.80" height="5.48" fill="#cccccc" stroke="#000" stroke-width="1.0"/>
<line x1="127.00" y1="192.82" x2="127.00" y2="191.06" stroke="#000" stroke-width="1.0"/>
<line x1="125.00" y1="191.06" x2="129.00" y2="191.06" stroke="#000" stroke-width="1.0"/>
<rect x="124.60" y="193.32" width="4.80" height="13.58" fill="#7f7f7f" stroke="#000" stroke-width="1.0"/>
<path d="M110.97 184.60h1.66M111.30 183.77l1.00 1.66M112.30 183.77l-1.00 1.66" stroke="#000" stroke-width="0.75" fill="none"/>
<path d="M126.17 187.00h1.66M126.50 186.17l1.00 1.66M127.50 186.17l-1.00 1.66" stroke="#000" stroke-width="0.75" fill="none"/>
<line x1="45.00" y1="206.90" x2="45.00" y2="209.10" stroke="#000" stroke-width="1.2"/>
<text x="45.00" y="212.80" font-size="6.4" text-anchor="middle" dominant-baseline="central" fill="#000">SC</text>
<line x1="80.00" y1="206.90" x2="80.00" y2="209.10" stroke="#000" stroke-width="1.2"/>
<text x="80.00" y="212.80" font-size="6.4" text-anchor="middle" dominant-baseline="central" fill="#000">Pg</text>
<line x1="114.80" y1="206.90" x2="114.80" y2="209.10" stroke="#000" stroke-width="1.2"/>
<text x="114.80" y="212.80" font-size="6.4" text-anchor="middle" dominant-baseline="central" fill="#000">Mes</text>
<text x="189.40" y="120.40" font-size="13.6" text-anchor="start" font-weight="bold" fill="#000">E</text>
<text x="213.40" y="115.60" font-size="7.3" text-anchor="start" font-weight="bold" fill="#000" textLength="99.9" lengthAdjust="spacingAndGlyphs">Adipose tissue morphology</text>
<text x="232.50" y="121.30" font-size="6.0" text-anchor="middle" font-weight="bold" dominant-baseline="central" fill="#000">wt</text>
<text x="294.5" y="121.6" font-size="6.0" text-anchor="middle" font-weight="bold" dominant-baseline="central">ER&#945;<tspan font-size="4.2" dy="-2">-/-</tspan></text>
<text x="232.5" y="180.6" font-size="6.6" text-anchor="middle" font-weight="bold" dominant-baseline="central">AF-1<tspan font-size="4.6" dy="-2.2">0</tspan></text>
<text x="294.5" y="177.9" font-size="6.6" text-anchor="middle" font-weight="bold" dominant-baseline="central">AF-2<tspan font-size="4.6" dy="-2.2">0</tspan></text>
<defs><linearGradient id="tg1" x1="0" x2="1" y1="0" y2="0"><stop offset="0.6" stop-color="#d8e8c8" stop-opacity="0"/><stop offset="1" stop-color="#d8e8c8" stop-opacity="0.45"/></linearGradient></defs>
<clipPath id="clip11"><rect x="202.2" y="126.2" width="59.0" height="43.8"/></clipPath>
<g clip-path="url(#clip11)"><g filter="url(#hb)">
<rect x="202.2" y="126.2" width="59.0" height="43.8" fill="#7e7a92"/>
<path d="M205.9 117.8L205.7 117.4L205.4 117.1L205.1 116.9L204.7 116.8L204.2 117.0L203.9 117.2L203.7 117.6L201.9 121.9L201.8 122.3L201.9 122.8L202.1 123.1L202.5 123.4L205.2 124.5L205.7 124.6L206.2 124.5L206.6 124.2L206.8 123.7L206.8 123.2L205.9 117.8Z" fill="#e3e0ec"/>
<path d="M218.4 121.9L218.4 122.3L218.5 122.7L218.9 123.0L219.2 123.2L222.7 124.0L223.2 124.0L223.6 123.8L223.9 123.5L224.1 123.1L224.1 122.7L223.9 122.2L221.1 117.5L220.8 117.2L220.3 117.0L219.9 117.0L219.4 117.2L219.1 117.5L219.0 118.0L218.4 121.9Z" fill="#dbd8e4"/>
<path d="M229.9 121.8L229.8 122.2L229.8 122.6L230.0 123.0L230.3 123.3L230.7 123.4L231.5 123.5L231.9 123.5L232.3 123.3L232.6 123.0L232.8 122.5L232.7 122.1L232.4 121.1L232.2 120.7L231.8 120.4L231.4 120.3L231.0 120.3L230.6 120.6L230.3 120.9L229.9 121.8Z" fill="#e4e1ed"/>
<path d="M252.6 119.5L252.3 119.2L251.9 118.9L251.5 118.9L251.0 119.0L250.7 119.3L250.5 119.6L249.9 121.3L249.8 121.7L249.9 122.1L250.1 122.5L251.1 123.6L251.6 123.9L252.1 123.9L253.0 123.8L253.4 123.6L253.7 123.4L253.9 123.0L254.0 122.6L253.9 122.1L252.6 119.5Z" fill="#dbd8e4"/>
<path d="M201.8 124.3L201.3 124.2L200.8 124.3L200.4 124.6L200.2 125.0L200.2 125.5L200.5 127.5L200.6 127.9L200.9 128.2L201.2 128.5L201.6 128.5L202.0 128.4L204.1 127.6L204.5 127.3L204.8 126.9L204.8 126.7L204.9 126.2L204.8 125.9L204.5 125.5L204.2 125.3L201.8 124.3Z" fill="#dcd9e5"/>
<path d="M210.3 126.4L210.0 125.9L209.5 125.6L208.1 125.2L207.6 125.1L207.2 125.2L206.7 125.5L206.4 125.8L206.2 126.2L205.9 127.2L205.9 127.7L206.1 128.2L207.0 129.4L207.4 129.7L207.8 129.9L208.3 129.8L208.7 129.6L210.2 128.2L210.4 127.9L210.5 127.5L210.5 127.0L210.3 126.4Z" fill="#dddae6"/>
<path d="M212.2 124.6L211.9 124.7L211.6 125.0L211.6 125.0L211.4 125.3L211.3 125.7L211.4 126.1L211.7 127.1L211.9 127.5L212.3 127.7L212.7 128.0L213.1 128.1L213.5 128.1L213.9 127.9L214.2 127.6L215.3 125.9L215.4 125.5L215.4 125.1L215.3 124.6L214.9 124.3L214.5 124.2L214.1 124.2L212.2 124.6Z" fill="#d9d6e2"/>
<path d="M218.5 126.5L218.3 126.1L218.0 125.8L217.6 125.7L217.2 125.7L216.8 125.9L216.5 126.2L215.8 127.3L215.6 127.7L215.6 128.1L215.7 128.5L216.0 128.8L216.4 129.0L217.6 129.3L218.1 129.3L218.6 129.1L218.9 128.8L219.0 128.3L219.0 127.8L218.5 126.5Z" fill="#e0dde9"/>
<path d="M221.9 128.5L222.2 128.5L222.6 128.4L222.9 128.1L223.2 127.9L223.4 127.5L223.5 127.1L223.5 126.2L223.3 125.7L223.0 125.3L222.6 125.1L221.0 124.8L220.5 124.8L220.1 125.0L219.7 125.3L219.6 125.8L219.7 126.3L220.2 127.7L220.4 128.1L220.7 128.4L221.2 128.5L221.9 128.5Z" fill="#e3e0ec"/>
<path d="M228.6 124.6L228.5 124.1L228.3 123.7L227.9 123.5L227.5 123.4L226.0 123.5L225.7 123.6L225.3 123.8L225.1 124.1L224.7 124.7L224.6 125.3L224.6 126.8L224.8 127.3L225.1 127.7L225.5 127.9L227.3 128.4L227.7 128.4L228.1 128.3L228.4 128.0L228.6 127.6L228.7 127.2L228.6 124.6Z" fill="#dddae6"/>
<path d="M231.1 124.6L230.6 124.7L230.2 124.9L229.9 125.3L229.8 125.8L229.8 126.2L229.9 126.7L230.2 127.1L230.6 127.3L231.1 127.3L232.6 127.1L233.0 127.0L233.3 126.7L233.5 126.3L233.5 125.8L233.4 125.4L233.0 125.0L232.6 124.9L231.1 124.6Z" fill="#e4e1ed"/>
<path d="M237.4 125.5L237.2 125.8L237.0 126.3L237.1 126.7L237.3 127.1L238.1 128.1L238.4 128.4L238.9 128.5L239.4 128.4L239.8 128.2L241.1 127.0L241.3 126.7L241.4 126.3L241.4 125.9L241.3 125.4L241.0 125.0L240.6 124.6L240.1 124.5L238.9 124.6L238.5 124.7L238.2 124.9L237.4 125.5Z" fill="#dcd9e5"/>
<path d="M243.7 123.8L243.2 123.8L242.8 124.0L242.5 124.3L242.4 124.7L242.4 125.2L242.7 126.3L242.8 126.7L243.8 128.0L244.2 128.3L244.7 128.5L245.6 128.5L246.0 128.4L246.3 128.3L246.6 128.0L246.7 127.6L246.7 127.2L246.4 125.0L246.2 124.5L245.9 124.2L245.4 124.0L243.7 123.8Z" fill="#dbd8e4"/>
<path d="M247.9 127.3L248.1 127.8L248.5 128.1L248.9 128.2L249.4 128.2L249.8 128.1L250.2 127.8L250.4 127.5L250.5 127.1L250.7 125.3L250.6 124.9L250.4 124.5L249.6 123.6L249.2 123.3L248.9 123.2L248.4 123.2L248.1 123.4L248.0 123.5L247.7 123.8L247.5 124.2L247.5 124.6L247.9 127.3Z" fill="#d8d5e1"/>
<path d="M256.1 125.6L255.9 125.2L255.6 124.9L255.2 124.7L254.8 124.7L252.7 125.0L252.3 125.2L251.9 125.5L251.8 126.0L251.7 126.9L251.8 127.4L252.1 127.8L252.5 128.1L253.5 128.4L253.9 128.4L254.3 128.3L254.7 128.1L255.8 126.8L256.1 126.4L256.1 125.8L256.1 125.6Z" fill="#e3e0ec"/>
<path d="M258.7 126.8L259.1 126.9L259.5 126.8L259.6 126.8L260.2 126.5L261.7 124.9L261.9 124.6L262.0 124.2L261.9 123.7L261.7 123.4L261.4 123.1L261.0 123.0L259.5 122.9L259.0 123.0L258.6 123.3L257.5 124.5L257.3 124.9L257.2 125.5L257.3 125.6L257.5 126.1L257.9 126.4L258.7 126.8Z" fill="#dcd9e5"/>
<path d="M265.3 125.8L265.2 125.4L265.0 125.0L264.9 124.9L264.6 124.7L264.1 124.6L263.7 124.7L263.3 124.9L262.2 126.0L262.0 126.4L261.9 126.8L261.9 127.2L262.1 127.6L262.5 127.8L263.7 128.6L264.2 128.7L264.6 128.6L265.1 128.4L265.3 128.0L265.4 127.5L265.3 125.8Z" fill="#e2dfeb"/>
<path d="M201.2 130.2L200.9 129.8L200.5 129.6L200.0 129.6L199.5 129.8L198.2 130.9L197.9 131.2L197.7 131.6L197.7 132.0L197.9 132.4L198.1 132.7L199.2 133.6L199.6 133.8L200.1 133.8L201.3 133.6L201.7 133.4L202.0 133.2L202.2 132.8L202.3 132.3L202.2 131.9L201.2 130.2Z" fill="#d8d5e1"/>
<path d="M205.4 129.2L205.1 128.9L204.6 128.8L204.1 128.9L203.4 129.1L203.0 129.4L202.8 129.8L202.7 130.3L202.8 130.7L203.4 131.8L203.7 132.2L204.1 132.4L204.5 132.4L204.9 132.3L205.8 131.9L206.2 131.6L206.4 131.1L206.4 130.6L206.2 130.2L205.4 129.2Z" fill="#dad7e3"/>
<path d="M209.0 130.8L208.8 131.2L208.7 131.6L208.7 132.0L208.9 132.4L209.3 132.8L209.6 133.1L210.0 133.3L210.4 133.2L212.0 132.9L212.4 132.7L212.7 132.3L212.9 131.8L212.9 130.1L212.9 129.7L212.6 129.3L212.3 129.1L212.2 129.0L211.7 128.9L211.3 128.9L210.9 129.2L209.0 130.8Z" fill="#e4e1ed"/>
<path d="M215.4 130.0L215.0 129.9L214.7 130.0L214.3 130.3L214.1 130.6L214.0 131.0L214.0 132.5L214.1 132.9L214.3 133.3L214.5 133.6L214.9 133.8L215.3 133.9L215.7 133.9L216.0 133.7L217.3 132.8L217.6 132.5L217.8 132.0L217.8 131.5L217.8 131.1L217.6 130.8L217.3 130.5L216.9 130.3L215.4 130.0Z" fill="#e1deea"/>
<path d="M221.8 132.4L222.1 132.1L222.2 131.7L222.2 131.3L222.1 130.5L221.9 130.1L221.5 129.8L221.0 129.6L220.6 129.6L220.2 129.6L219.8 129.8L219.5 130.1L219.2 130.5L219.0 130.9L218.9 132.0L219.0 132.3L219.1 132.7L219.3 133.0L219.5 133.1L220.0 133.3L220.5 133.3L220.9 133.1L221.8 132.4Z" fill="#e0dde9"/>
<path d="M223.5 131.6L223.8 132.2L224.8 133.2L225.1 133.4L225.5 133.6L225.9 133.5L226.3 133.3L226.6 133.0L227.7 131.2L227.9 130.8L227.9 130.4L227.8 130.0L227.5 129.7L227.1 129.5L224.7 128.9L224.2 128.8L223.8 129.0L223.7 129.0L223.4 129.3L223.2 129.7L223.2 130.2L223.5 131.6Z" fill="#e1deea"/>
<path d="M230.1 128.6L229.7 128.8L229.3 129.1L229.1 129.5L229.1 130.0L229.1 130.0L229.3 130.4L229.6 130.7L230.7 131.4L231.1 131.6L231.5 131.6L232.9 131.3L233.4 131.1L233.7 130.7L233.8 130.2L233.9 129.5L233.8 129.0L233.5 128.6L233.1 128.3L232.6 128.3L230.1 128.6Z" fill="#e3e0ec"/>
<path d="M237.1 128.7L236.7 128.4L236.3 128.2L235.8 128.3L235.4 128.5L235.1 128.9L235.0 129.3L235.0 130.5L235.1 131.0L235.3 131.3L235.7 131.6L236.1 131.7L236.6 131.6L237.3 131.3L237.6 131.1L237.9 130.7L238.0 130.3L238.0 129.9L237.8 129.5L237.1 128.7Z" fill="#e3e0ec"/>
<path d="M242.9 131.3L242.7 131.7L242.7 132.2L242.9 132.6L243.1 132.9L243.5 133.1L245.9 133.9L246.4 133.9L246.8 133.8L247.2 133.4L247.3 133.2L247.5 132.8L247.5 132.4L247.4 130.7L247.3 130.3L247.1 130.0L246.7 129.8L246.3 129.7L244.8 129.6L244.4 129.7L244.0 129.8L243.8 130.1L242.9 131.3Z" fill="#dcd9e5"/>
<path d="M251.7 133.0L252.4 132.9L253.3 132.5L253.7 132.2L254.0 131.8L254.0 131.3L253.9 130.4L253.8 130.0L253.5 129.6L253.1 129.4L251.4 128.9L251.0 128.9L250.7 129.0L249.3 129.5L248.9 129.7L248.6 130.1L248.6 130.6L248.6 131.6L248.8 132.1L249.1 132.4L249.6 132.6L251.7 133.0Z" fill="#e4e1ed"/>
<path d="M258.7 128.5L258.4 128.0L258.0 127.7L257.7 127.6L257.3 127.5L256.8 127.6L256.4 127.9L255.3 129.0L255.1 129.5L255.0 130.0L255.2 131.7L255.4 132.2L255.7 132.5L256.4 133.1L256.7 133.3L257.1 133.3L257.5 133.3L258.6 132.9L259.0 132.7L259.3 132.3L259.4 131.9L259.4 131.5L258.7 128.5Z" fill="#dddae6"/>
<path d="M261.9 128.9L261.5 128.7L261.0 128.7L260.6 128.9L260.4 129.3L260.2 129.7L260.2 130.1L260.6 131.7L260.8 132.1L261.1 132.4L261.4 132.6L262.1 132.7L262.4 132.7L262.8 132.6L263.3 132.4L263.7 132.2L263.9 131.8L264.1 131.2L264.2 130.8L264.1 130.4L263.9 130.1L263.6 129.8L261.9 128.9Z" fill="#dddae6"/>
<path d="M201.4 138.4L201.8 138.5L202.2 138.3L202.6 138.0L203.3 137.2L203.5 136.7L203.5 136.2L203.3 135.5L203.2 135.1L202.9 134.8L202.5 134.7L202.0 134.6L200.9 134.8L200.4 135.0L200.1 135.4L199.9 135.9L199.8 137.1L199.9 137.6L200.2 138.0L200.7 138.2L201.4 138.4Z" fill="#e4e1ed"/>
<path d="M205.0 133.6L204.6 133.9L204.4 134.3L204.4 134.8L204.5 135.7L204.7 136.1L205.0 136.4L205.4 136.6L207.3 137.1L207.8 137.1L208.2 136.9L208.6 136.5L208.7 136.1L208.8 134.7L208.8 134.2L208.6 133.9L208.0 133.1L207.6 132.8L207.1 132.6L206.6 132.8L205.0 133.6Z" fill="#e2dfeb"/>
<path d="M213.6 134.3L213.3 134.1L213.0 133.9L212.6 134.0L210.8 134.3L210.4 134.5L210.1 134.9L209.9 135.3L209.9 136.0L209.9 136.4L210.2 136.9L210.6 137.1L211.7 137.6L212.1 137.7L212.5 137.6L212.8 137.5L214.0 136.6L214.4 136.3L214.5 135.8L214.5 135.3L214.2 134.9L213.6 134.3Z" fill="#e2dfeb"/>
<path d="M216.4 134.9L216.1 135.2L215.9 135.6L215.9 136.0L216.0 136.4L216.3 136.7L218.2 138.2L218.6 138.4L219.1 138.4L219.5 138.2L219.9 138.0L220.2 137.6L220.4 137.2L220.3 136.7L219.8 135.1L219.5 134.5L218.9 134.1L218.5 133.9L218.0 133.9L217.5 134.1L216.4 134.9Z" fill="#e0dde9"/>
<path d="M221.5 136.4L221.7 136.8L222.1 137.0L222.5 137.1L223.0 137.0L223.4 136.8L224.2 135.9L224.5 135.5L224.5 135.1L224.5 134.6L224.2 134.3L223.7 133.7L223.3 133.5L222.9 133.4L222.5 133.4L222.2 133.6L221.5 134.1L221.2 134.5L221.1 134.9L221.1 135.4L221.5 136.4Z" fill="#dcd9e5"/>
<path d="M229.8 132.3L229.4 132.1L229.0 132.1L228.5 132.3L228.2 132.6L227.4 133.9L227.2 134.3L227.2 134.7L227.4 135.2L227.7 135.5L228.9 136.3L229.4 136.5L229.9 136.4L230.1 136.3L230.5 136.1L230.8 135.8L230.9 135.4L230.9 135.0L230.5 133.1L230.3 132.7L230.0 132.4L229.8 132.3Z" fill="#dbd8e4"/>
<path d="M232.7 132.5L232.3 132.7L232.0 133.0L231.8 133.4L231.9 133.9L232.2 135.4L232.3 135.7L232.5 136.0L232.9 136.2L233.4 136.4L233.8 136.5L234.3 136.4L234.6 136.2L234.9 135.8L235.0 135.3L234.9 133.5L234.8 133.0L234.5 132.6L234.1 132.4L233.6 132.4L232.7 132.5Z" fill="#e0dde9"/>
<path d="M239.5 132.2L239.2 132.0L238.8 132.0L238.4 132.1L236.8 132.8L236.4 133.0L236.2 133.4L236.1 133.8L236.1 134.7L236.2 135.1L236.4 135.4L236.8 135.7L237.2 135.8L238.7 135.9L239.1 135.8L239.5 135.6L239.8 135.2L240.3 133.9L240.4 133.4L240.3 132.9L240.0 132.5L239.5 132.2Z" fill="#e2dfeb"/>
<path d="M241.1 135.1L241.0 135.5L241.1 135.9L241.3 136.3L241.6 136.5L242.0 136.7L244.9 137.1L245.3 137.1L245.7 137.0L246.0 136.7L246.2 136.3L246.2 135.9L246.0 135.5L245.8 135.1L245.4 134.9L242.7 134.0L242.3 134.0L241.8 134.1L241.5 134.3L241.3 134.7L241.1 135.1Z" fill="#e1deea"/>
<path d="M248.7 138.1L249.2 138.3L249.7 138.3L250.5 138.1L251.0 137.9L251.3 137.5L251.4 137.0L251.5 135.1L251.4 134.7L251.2 134.3L250.9 134.1L250.5 133.9L249.2 133.7L248.7 133.7L248.3 133.9L248.0 134.2L247.7 134.7L247.6 135.0L247.5 135.4L247.6 136.7L247.7 137.1L248.0 137.5L248.7 138.1Z" fill="#dfdce8"/>
<path d="M252.6 136.3L252.7 136.7L252.9 137.1L253.3 137.4L253.8 137.5L254.3 137.3L254.6 137.0L255.8 135.6L256.0 135.2L256.1 134.7L255.9 134.3L255.7 134.0L255.2 133.6L254.8 133.4L254.4 133.3L254.0 133.4L253.4 133.7L253.0 133.9L252.8 134.3L252.7 134.7L252.6 136.3Z" fill="#d9d6e2"/>
<path d="M258.3 134.2L258.0 134.4L257.7 134.8L257.6 135.2L257.6 135.6L257.8 136.0L259.2 137.7L259.5 138.0L260.0 138.1L260.4 138.0L260.8 137.8L261.3 137.4L261.6 137.0L261.7 136.6L261.8 134.8L261.8 134.4L261.6 134.1L261.3 133.8L261.0 133.6L260.7 133.6L260.0 133.6L258.3 134.2Z" fill="#d8d5e1"/>
<path d="M264.8 133.8L264.4 133.6L263.9 133.6L263.4 133.8L263.1 134.2L263.0 134.7L262.9 136.4L262.9 136.8L263.1 137.1L263.4 137.4L263.9 137.7L264.3 137.9L264.7 137.8L265.1 137.7L265.4 137.4L266.2 136.3L266.3 135.9L266.4 135.5L266.3 135.2L266.2 135.0L265.8 134.6L264.8 133.8Z" fill="#e3e0ec"/>
<path d="M200.6 141.0L200.8 140.6L200.8 140.2L200.7 139.8L200.4 139.4L200.0 139.3L199.5 139.1L199.2 139.1L198.8 139.2L196.1 140.3L195.7 140.5L195.4 140.9L195.4 141.4L195.5 141.9L195.8 142.2L196.3 142.4L198.5 142.9L198.9 142.9L199.4 142.8L199.7 142.4L200.6 141.0Z" fill="#d9d6e2"/>
<path d="M203.5 138.7L203.3 139.1L203.3 139.6L203.5 140.1L204.7 141.7L205.1 142.0L205.5 142.1L206.0 142.1L206.4 141.9L206.7 141.7L207.0 141.4L207.1 141.0L207.3 139.3L207.3 138.9L207.1 138.5L206.8 138.2L206.5 138.0L205.2 137.7L204.7 137.7L204.3 137.8L204.0 138.1L203.5 138.7Z" fill="#e1deea"/>
<path d="M209.1 142.2L209.5 142.4L209.9 142.3L210.2 142.2L210.5 141.9L211.7 140.4L211.8 140.0L211.9 139.6L211.9 139.6L211.8 139.2L211.5 138.8L211.2 138.6L210.1 138.2L209.7 138.1L209.3 138.1L208.9 138.4L208.6 138.7L208.5 139.1L208.3 141.0L208.3 141.4L208.5 141.9L208.9 142.1L209.1 142.2Z" fill="#dad7e3"/>
<path d="M213.6 138.4L213.2 138.7L213.1 139.1L213.1 139.5L213.2 139.9L213.6 140.3L215.4 141.6L215.9 141.7L216.5 141.7L217.3 141.4L217.6 141.2L217.9 140.9L218.0 140.6L218.0 140.3L218.0 139.9L217.9 139.5L217.6 139.2L215.8 137.8L215.4 137.6L214.9 137.6L214.5 137.7L213.6 138.4Z" fill="#e4e1ed"/>
<path d="M223.6 143.2L224.1 143.2L224.5 143.0L224.8 142.7L224.9 142.3L224.9 141.9L224.8 141.5L223.2 138.9L222.9 138.6L222.6 138.4L222.3 138.4L221.8 138.3L221.5 138.4L221.2 138.5L219.7 139.4L219.4 139.8L219.2 140.2L219.1 141.0L219.1 141.5L219.3 141.9L219.4 142.1L219.7 142.4L220.2 142.6L223.6 143.2Z" fill="#e1deea"/>
<path d="M226.8 136.2L226.4 136.1L226.0 136.0L225.6 136.2L225.3 136.4L224.5 137.2L224.3 137.7L224.2 138.2L224.4 138.6L225.6 140.6L225.9 140.9L226.3 141.1L226.8 141.1L227.2 141.0L227.6 140.7L227.9 140.4L228.1 140.0L228.5 138.2L228.5 137.8L228.3 137.4L228.0 137.1L226.8 136.2Z" fill="#d9d6e2"/>
<path d="M232.3 141.2L232.7 141.2L233.1 141.1L233.4 140.8L233.6 140.5L233.7 140.0L233.7 138.5L233.6 138.1L233.3 137.7L232.9 137.5L232.1 137.2L231.8 137.1L231.4 137.1L230.4 137.5L230.0 137.6L229.8 137.9L229.6 138.3L229.4 139.3L229.4 139.8L229.6 140.2L229.9 140.5L230.3 140.7L232.3 141.2Z" fill="#d9d6e2"/>
<path d="M234.9 140.8L235.0 141.3L235.2 141.6L235.6 141.9L236.0 141.9L236.5 141.8L238.9 140.8L239.3 140.6L239.5 140.2L239.6 139.7L239.5 138.1L239.4 137.7L239.2 137.4L238.9 137.1L238.5 137.0L236.2 136.9L235.7 136.9L235.4 137.1L235.2 137.3L234.9 137.7L234.8 138.2L234.9 140.8Z" fill="#e4e1ed"/>
<path d="M243.9 139.9L244.1 139.4L244.1 139.0L244.0 138.5L243.6 138.2L243.2 138.0L242.0 137.8L241.6 137.8L241.3 138.0L241.0 138.3L240.8 138.6L240.7 139.0L240.8 140.0L240.9 140.5L241.3 140.9L241.7 141.1L242.1 141.2L242.5 141.2L242.9 141.1L243.2 140.8L243.9 139.9Z" fill="#dad7e3"/>
<path d="M244.4 141.2L244.2 141.6L244.1 142.1L244.3 142.5L244.7 142.9L244.9 142.9L245.3 143.1L245.8 143.0L246.1 142.8L246.4 142.5L246.8 141.7L247.0 141.3L246.9 140.9L246.8 140.5L246.4 140.2L246.1 140.0L245.6 140.0L245.2 140.2L244.9 140.4L244.4 141.2Z" fill="#dedbe7"/>
<path d="M251.1 139.2L250.7 139.4L250.4 139.7L250.2 140.2L250.3 140.7L250.8 141.9L251.0 142.3L251.4 142.6L251.9 142.6L252.4 142.5L252.7 142.2L253.6 141.2L253.8 140.8L253.9 140.4L253.7 140.0L253.7 139.8L253.4 139.5L252.9 139.3L252.2 139.1L251.7 139.0L251.1 139.2Z" fill="#dcd9e5"/>
<path d="M257.4 141.4L257.8 141.5L258.2 141.4L258.6 141.2L258.9 140.9L259.1 140.5L259.1 140.1L259.1 139.6L258.9 139.1L257.5 137.5L257.2 137.2L256.9 137.1L256.5 137.1L256.1 137.2L255.8 137.4L255.0 138.4L254.8 138.8L254.7 139.2L254.9 139.6L255.0 139.9L255.2 140.2L255.5 140.4L257.4 141.4Z" fill="#e2dfeb"/>
<path d="M260.3 140.3L260.3 140.8L260.5 141.2L260.8 141.6L261.3 141.7L261.8 141.6L263.5 141.0L263.8 140.8L264.1 140.4L264.2 140.0L264.2 139.6L264.0 139.2L263.7 138.9L263.0 138.5L262.6 138.3L262.1 138.4L261.7 138.6L260.7 139.4L260.4 139.7L260.3 140.1L260.3 140.3Z" fill="#d9d6e2"/>
<path d="M201.9 145.1L202.2 145.3L202.7 145.4L203.1 145.3L203.4 145.0L203.7 144.7L204.1 143.7L204.2 143.3L204.1 142.9L204.0 142.6L203.4 141.8L203.0 141.5L202.6 141.3L202.2 141.3L201.8 141.5L201.5 141.8L200.8 142.8L200.7 143.2L200.6 143.6L200.8 144.0L201.0 144.3L201.9 145.1Z" fill="#dbd8e4"/>
<path d="M209.5 145.2L209.7 144.8L209.7 144.3L209.5 143.8L209.1 143.5L207.9 143.0L207.5 142.8L207.0 142.9L205.9 143.3L205.5 143.6L205.2 144.0L204.7 145.1L204.6 145.6L204.7 146.0L205.0 146.4L205.4 146.6L207.0 147.3L207.5 147.4L208.0 147.2L208.3 146.9L209.5 145.2Z" fill="#d8d5e1"/>
<path d="M211.4 142.7L211.2 143.1L211.2 143.5L211.3 143.9L211.5 144.2L211.9 144.5L212.6 144.8L213.0 144.8L213.4 144.8L213.7 144.6L214.0 144.3L214.5 143.6L214.6 143.2L214.6 142.8L214.4 142.4L214.1 142.1L213.5 141.6L213.1 141.5L212.7 141.5L212.3 141.6L212.0 141.9L211.4 142.7Z" fill="#e0dde9"/>
<path d="M218.7 143.9L218.6 143.4L218.4 143.0L218.1 142.7L217.6 142.6L217.2 142.7L216.6 142.9L216.3 143.1L216.0 143.3L214.7 145.3L214.6 145.7L214.5 146.1L214.6 146.4L214.7 146.5L214.9 146.8L215.2 147.0L216.1 147.5L216.4 147.6L216.8 147.6L217.2 147.4L217.9 147.0L218.3 146.6L218.4 146.1L218.7 143.9Z" fill="#e0dde9"/>
<path d="M221.1 143.9L220.6 143.9L220.2 144.1L219.9 144.5L219.7 144.9L219.6 145.8L219.7 146.3L219.9 146.7L220.3 147.0L220.8 147.2L221.3 147.3L221.7 147.2L222.1 146.9L222.9 146.0L223.1 145.6L223.1 145.1L222.9 144.6L222.6 144.3L222.2 144.1L221.1 143.9Z" fill="#dddae6"/>
<path d="M226.9 142.5L226.6 142.9L226.4 143.3L226.4 143.8L226.7 144.2L227.4 145.1L227.7 145.4L228.1 145.5L228.6 145.5L228.9 145.3L230.9 144.0L231.2 143.7L231.4 143.3L231.4 142.8L231.2 142.4L230.9 142.1L230.5 141.9L229.1 141.6L228.6 141.6L228.2 141.7L226.9 142.5Z" fill="#d9d6e2"/>
<path d="M234.9 144.5L234.8 144.1L234.4 143.8L234.0 143.7L233.6 143.7L233.2 143.8L232.2 144.5L231.9 144.8L231.7 145.2L231.7 145.7L231.9 146.1L232.2 146.4L232.6 146.6L233.8 146.8L234.3 146.8L234.7 146.6L235.0 146.3L235.2 145.9L235.2 145.4L234.9 144.5Z" fill="#e0dde9"/>
<path d="M240.3 145.5L240.8 145.2L241.1 144.8L241.6 143.5L241.7 143.1L241.6 142.7L241.4 142.4L241.1 142.1L240.7 141.9L240.2 141.7L239.7 141.8L236.7 143.0L236.4 143.2L236.2 143.5L236.0 143.9L236.1 144.3L236.3 145.2L236.5 145.7L236.9 146.0L237.0 146.0L237.4 146.1L237.8 146.1L240.3 145.5Z" fill="#d9d6e2"/>
<path d="M242.4 146.3L242.8 146.7L243.2 146.8L243.7 146.7L244.8 146.4L245.1 146.1L245.4 145.8L245.5 145.4L245.5 144.9L245.3 144.6L244.9 144.3L244.1 143.8L243.6 143.7L243.2 143.8L242.8 144.0L242.5 144.4L242.2 145.1L242.1 145.5L242.2 145.9L242.3 146.2L242.4 146.3Z" fill="#e2dfeb"/>
<path d="M247.3 145.0L247.6 145.3L248.0 145.5L248.5 145.5L249.4 145.2L249.9 145.0L250.2 144.7L250.3 144.2L250.2 143.7L249.8 142.6L249.6 142.2L249.2 142.0L248.8 141.8L248.4 141.9L248.0 142.1L247.7 142.5L247.1 143.7L247.0 144.0L247.0 144.5L247.2 144.8L247.3 145.0Z" fill="#d9d6e2"/>
<path d="M252.5 144.3L252.3 144.7L252.2 145.1L252.4 145.5L252.7 145.9L253.2 146.4L253.6 146.6L254.1 146.6L254.5 146.5L256.0 145.7L256.3 145.5L256.6 145.1L257.2 143.7L257.3 143.3L257.2 142.9L257.0 142.5L256.6 142.2L255.7 141.8L255.2 141.7L254.8 141.8L254.4 142.1L252.5 144.3Z" fill="#d8d5e1"/>
<path d="M260.0 142.9L259.6 142.8L259.1 142.9L258.8 143.1L258.5 143.5L257.9 145.0L257.8 145.4L257.9 145.9L258.2 146.3L259.3 147.2L259.7 147.4L260.2 147.4L260.7 147.2L261.4 146.7L261.7 146.4L261.9 146.0L261.9 145.6L261.7 145.2L260.6 143.4L260.1 142.9L260.0 142.9Z" fill="#dddae6"/>
<path d="M263.0 142.4L262.6 142.6L262.4 142.9L262.2 143.3L262.2 143.7L262.4 144.1L263.1 145.2L263.5 145.6L263.9 145.8L264.4 145.7L264.8 145.5L265.1 145.2L266.0 143.4L266.2 142.9L266.1 142.5L265.9 142.1L265.5 141.8L265.1 141.7L264.6 141.8L263.0 142.4Z" fill="#d8d5e1"/>
<path d="M198.0 151.9L198.4 152.2L198.9 152.3L199.3 152.3L199.7 152.0L200.0 151.6L200.4 150.5L200.5 150.1L200.4 149.7L200.2 149.3L199.9 149.1L199.5 149.0L198.0 148.8L197.6 148.8L197.2 149.0L196.9 149.3L196.8 149.8L196.8 150.2L197.0 150.6L198.0 151.9Z" fill="#e4e1ed"/>
<path d="M204.8 147.6L204.4 147.6L203.9 147.7L203.6 147.9L203.3 148.2L203.2 148.7L203.3 149.1L203.5 149.5L205.5 151.7L205.8 151.9L206.2 152.1L206.6 152.0L207.0 151.9L207.7 151.4L208.0 151.1L208.2 150.8L208.3 150.3L208.2 150.0L207.8 149.2L207.5 148.8L207.2 148.6L204.8 147.6Z" fill="#dfdce8"/>
<path d="M211.7 145.6L211.2 145.6L210.7 145.7L210.4 146.0L209.1 147.8L208.9 148.2L208.9 148.6L209.0 149.0L209.1 149.2L209.3 149.5L209.7 149.8L210.1 149.9L210.5 149.8L211.2 149.5L211.6 149.3L213.0 147.8L213.2 147.5L213.3 147.0L213.2 146.6L213.0 146.2L212.6 146.0L211.7 145.6Z" fill="#dbd8e4"/>
<path d="M216.1 150.6L216.2 150.3L216.2 149.9L216.2 149.4L216.1 149.0L215.8 148.7L215.5 148.5L215.3 148.3L214.8 148.2L214.3 148.3L213.9 148.6L213.5 149.0L213.2 149.4L213.2 149.9L213.3 150.3L213.6 150.7L214.2 151.2L214.7 151.4L215.2 151.4L215.6 151.3L215.9 150.9L216.1 150.6Z" fill="#dcd9e5"/>
<path d="M217.9 148.3L217.6 148.6L217.4 148.9L217.4 149.4L217.5 149.8L217.7 150.1L218.0 150.3L220.1 151.3L220.5 151.4L220.9 151.3L221.3 151.1L221.6 150.8L221.6 150.7L221.8 150.2L221.7 149.7L221.5 149.1L221.2 148.7L220.8 148.5L219.5 147.9L219.0 147.8L218.5 148.0L217.9 148.3Z" fill="#dad7e3"/>
<path d="M222.8 147.8L222.6 148.2L222.6 148.6L222.7 149.0L222.9 149.4L223.3 149.6L223.7 149.7L226.2 149.6L226.7 149.5L227.0 149.2L227.3 148.9L227.4 148.4L227.3 147.2L227.2 146.8L227.1 146.5L226.4 145.7L226.0 145.4L225.5 145.2L225.0 145.4L224.6 145.7L222.8 147.8Z" fill="#d8d5e1"/>
<path d="M229.9 147.2L229.4 147.2L229.1 147.4L228.8 147.6L228.6 148.0L228.5 148.4L228.5 148.7L228.6 149.2L228.9 149.6L229.6 150.0L229.9 150.2L230.3 150.3L230.7 150.2L231.8 149.7L232.2 149.4L232.4 149.0L232.4 148.5L232.3 148.1L232.0 147.7L231.5 147.5L229.9 147.2Z" fill="#dedbe7"/>
<path d="M237.3 147.8L237.0 147.5L236.6 147.3L236.2 147.3L235.8 147.4L235.4 147.7L235.4 147.7L235.2 148.0L234.9 148.7L234.8 149.3L235.0 149.8L235.7 151.1L236.1 151.5L236.6 151.7L237.1 151.6L237.8 151.4L238.1 151.2L238.4 150.9L238.5 150.5L238.5 150.1L238.4 149.7L237.3 147.8Z" fill="#dddae6"/>
<path d="M239.6 149.5L240.0 149.9L240.4 150.1L240.9 150.1L241.4 149.8L241.6 149.6L241.8 149.3L242.0 148.9L242.0 148.3L242.0 147.9L241.8 147.5L241.5 147.1L241.2 146.8L240.8 146.6L240.3 146.6L239.7 146.8L239.3 147.0L239.0 147.3L238.9 147.7L238.9 148.1L239.0 148.5L239.6 149.5Z" fill="#dddae6"/>
<path d="M251.5 146.4L251.0 146.2L250.5 146.2L248.9 146.5L248.5 146.7L248.2 147.1L248.1 147.5L247.9 149.0L248.0 149.5L248.2 150.0L248.7 150.2L250.1 150.7L250.6 150.8L251.1 150.6L251.4 150.2L252.5 148.5L252.6 148.2L252.6 147.7L252.5 147.4L252.2 147.0L251.5 146.4Z" fill="#e2dfeb"/>
<path d="M255.8 147.1L255.4 147.5L255.2 147.9L255.2 148.4L255.4 148.8L256.9 151.0L257.2 151.3L257.6 151.4L258.1 151.4L258.4 151.4L258.9 151.2L259.2 150.8L259.3 150.3L259.4 149.3L259.2 148.8L258.9 148.4L257.4 147.1L257.0 146.9L256.5 146.8L256.1 147.0L255.8 147.1Z" fill="#e4e1ed"/>
<path d="M261.6 152.1L262.0 152.3L262.4 152.3L262.6 152.3L263.0 152.1L264.5 151.2L264.8 150.9L264.9 150.6L265.0 150.2L264.9 148.2L264.8 147.7L264.5 147.4L264.1 147.1L263.7 147.0L263.2 147.0L262.7 147.2L261.0 148.4L260.6 148.8L260.5 149.3L260.5 150.7L260.5 151.1L260.7 151.5L261.0 151.7L261.6 152.1Z" fill="#e2dfeb"/>
<path d="M203.3 150.9L202.9 150.6L202.4 150.5L202.0 150.6L201.6 150.9L201.3 151.3L200.9 152.4L200.9 152.8L200.9 153.2L201.2 153.6L201.5 153.8L203.4 154.6L203.8 154.7L204.2 154.7L204.3 154.6L204.7 154.4L205.0 154.0L205.0 153.9L205.1 153.5L205.1 153.1L204.8 152.7L203.3 150.9Z" fill="#dad7e3"/>
<path d="M209.6 152.9L209.3 152.6L208.9 152.4L208.4 152.4L208.0 152.6L206.8 153.4L206.3 153.9L206.2 154.1L206.1 154.6L206.2 155.0L206.5 155.4L206.7 155.7L207.2 155.9L207.7 156.0L208.2 155.8L209.5 154.9L209.8 154.6L210.0 154.2L210.0 153.8L209.9 153.4L209.6 152.9Z" fill="#e1deea"/>
<path d="M212.6 151.4L212.2 151.1L211.7 151.1L211.3 151.3L210.9 151.6L210.8 152.0L210.7 152.4L210.9 152.9L211.5 153.8L211.9 154.2L212.5 154.6L212.9 154.7L213.4 154.7L213.7 154.6L214.1 154.4L214.4 154.1L214.5 153.7L214.5 153.3L214.4 152.9L214.1 152.6L212.6 151.4Z" fill="#e1deea"/>
<path d="M215.9 153.7L215.9 154.2L216.1 154.6L216.5 154.9L216.9 155.0L217.4 155.0L219.3 154.4L219.7 154.2L220.0 153.8L220.1 153.4L220.1 152.9L219.8 152.5L219.4 152.3L218.0 151.6L217.6 151.5L217.2 151.6L216.9 151.8L216.6 152.1L216.1 152.9L216.0 153.3L215.9 153.7Z" fill="#d8d5e1"/>
<path d="M222.0 153.4L222.1 153.8L222.4 154.1L222.8 154.3L223.3 154.4L224.1 154.3L224.5 154.2L224.8 153.9L225.0 153.5L225.4 152.3L225.5 151.9L225.4 151.4L225.1 151.1L224.7 150.9L224.3 150.8L223.5 150.8L223.1 150.9L222.8 151.1L222.5 151.4L222.1 152.3L222.0 152.9L222.0 153.4Z" fill="#e2dfeb"/>
<path d="M226.2 153.6L226.2 153.9L226.2 154.3L226.4 154.7L226.7 154.9L227.8 155.5L228.3 155.6L228.7 155.6L229.2 155.3L229.6 154.9L229.9 154.4L229.9 153.9L229.6 151.9L229.4 151.5L229.1 151.2L228.7 150.9L228.4 150.7L227.9 150.6L227.5 150.7L227.2 151.0L227.0 151.4L226.2 153.6Z" fill="#e0dde9"/>
<path d="M233.5 154.7L233.9 154.7L234.3 154.6L234.6 154.4L234.8 154.0L235.1 153.1L235.2 152.7L235.0 152.2L234.3 151.0L234.1 150.6L233.7 150.4L233.3 150.4L232.9 150.5L231.5 151.1L231.1 151.4L230.8 151.8L230.8 152.3L231.0 153.4L231.2 153.8L231.5 154.2L231.9 154.3L233.5 154.7Z" fill="#e2dfeb"/>
<path d="M240.3 152.9L240.1 152.5L239.7 152.3L239.3 152.2L238.9 152.2L236.9 152.9L236.5 153.2L236.2 153.6L235.9 154.4L235.8 154.8L236.0 155.3L236.3 155.7L237.2 156.4L237.6 156.6L238.0 156.6L238.5 156.5L240.3 155.4L240.6 155.1L240.8 154.7L240.8 154.4L240.7 154.0L240.3 152.9Z" fill="#dddae6"/>
<path d="M241.7 151.1L241.4 151.4L241.3 151.9L241.3 152.4L242.0 154.0L242.2 154.3L242.6 154.6L243.1 154.7L243.5 154.6L244.8 153.9L245.2 153.6L245.4 153.2L245.6 152.3L245.6 151.9L245.5 151.5L245.2 151.1L244.8 150.9L243.2 150.4L242.8 150.4L242.5 150.5L242.1 150.7L241.7 151.1Z" fill="#e1deea"/>
<path d="M248.3 151.3L247.9 151.3L247.4 151.4L247.1 151.7L246.9 152.1L246.6 153.0L246.6 153.5L246.8 153.9L247.2 154.3L248.6 155.1L249.1 155.2L249.6 155.1L250.0 154.8L250.7 154.1L250.9 153.7L251.0 153.4L250.9 153.0L250.9 152.7L250.7 152.4L250.5 152.1L250.1 151.9L248.3 151.3Z" fill="#dfdce8"/>
<path d="M254.4 153.8L254.8 153.8L255.2 153.6L255.5 153.3L255.9 152.9L256.1 152.4L256.1 152.0L255.9 151.5L254.8 150.0L254.4 149.7L254.0 149.5L253.6 149.5L253.2 149.7L252.9 150.0L252.1 151.3L251.9 151.8L251.9 152.3L252.0 152.6L252.2 153.0L252.5 153.3L252.9 153.4L254.4 153.8Z" fill="#d8d5e1"/>
<path d="M256.7 153.7L256.5 154.1L256.5 154.5L256.6 154.9L256.9 155.2L258.4 156.6L258.8 156.8L259.2 156.9L259.6 156.8L260.0 156.5L260.2 156.1L260.9 154.0L260.9 153.5L260.8 153.1L260.4 152.7L260.1 152.5L259.7 152.4L259.3 152.4L257.9 152.6L257.5 152.8L257.2 153.1L256.7 153.7Z" fill="#dedbe7"/>
<path d="M267.0 155.7L267.4 155.5L267.8 155.2L267.9 154.7L267.8 154.2L267.3 152.9L267.1 152.6L266.7 152.3L266.2 152.1L265.7 152.0L265.1 152.1L264.7 152.4L264.4 152.7L264.2 153.1L264.2 153.5L264.3 154.0L265.1 155.3L265.4 155.7L265.8 155.9L266.3 155.9L267.0 155.7Z" fill="#d8d5e1"/>
<path d="M200.4 154.6L199.9 154.5L199.5 154.6L199.1 154.9L197.7 156.5L197.4 156.9L197.4 157.4L197.6 157.9L197.9 158.2L199.5 159.1L199.9 159.3L200.3 159.3L201.6 159.0L202.0 158.8L202.3 158.5L202.4 158.2L202.8 156.7L202.9 156.3L202.8 155.9L202.5 155.6L202.2 155.4L200.4 154.6Z" fill="#d9d6e2"/>
<path d="M205.9 156.4L205.4 156.2L205.0 156.1L204.5 156.2L204.2 156.5L204.0 156.9L203.6 158.4L203.5 158.8L203.7 159.2L204.0 159.6L204.9 160.2L205.3 160.4L205.9 160.4L206.4 160.3L206.8 160.1L207.1 159.7L207.2 159.3L207.2 158.9L206.9 157.6L206.6 157.1L205.9 156.4Z" fill="#dddae6"/>
<path d="M211.7 157.3L211.7 156.8L211.6 156.4L211.3 156.0L210.9 155.8L210.4 155.8L210.0 156.0L208.7 156.8L208.3 157.2L208.2 157.6L208.2 158.1L208.5 159.4L208.8 159.9L209.2 160.2L209.2 160.2L209.7 160.3L210.2 160.2L210.5 159.9L210.9 159.5L211.2 159.1L211.7 157.3Z" fill="#d9d6e2"/>
<path d="M215.5 155.7L215.0 155.5L214.5 155.6L213.9 155.7L213.6 155.9L213.3 156.2L213.1 156.5L212.8 157.7L212.7 158.1L212.8 158.5L213.1 158.8L213.4 159.1L213.8 159.2L215.3 159.3L215.7 159.2L216.1 159.0L216.4 158.7L216.5 158.3L216.5 157.9L216.2 156.6L216.1 156.2L215.8 155.9L215.5 155.7Z" fill="#e0dde9"/>
<path d="M221.8 156.4L221.7 156.0L221.4 155.6L221.1 155.4L220.7 155.2L220.3 155.3L218.3 155.9L218.0 156.1L217.7 156.4L217.5 156.8L217.6 157.2L217.9 158.9L218.1 159.4L218.5 159.7L219.9 160.4L220.2 160.5L220.7 160.4L221.0 160.3L221.3 160.1L221.7 159.7L221.8 159.1L221.8 156.4Z" fill="#dedbe7"/>
<path d="M223.9 155.5L223.5 155.6L223.2 155.8L223.0 156.2L222.9 156.6L222.9 158.6L223.0 159.0L223.2 159.3L223.5 159.6L223.9 159.7L223.9 159.7L224.3 159.7L224.7 159.6L226.9 158.3L227.2 157.9L227.4 157.5L227.4 157.0L227.2 156.6L226.8 156.3L225.4 155.5L225.1 155.4L224.7 155.4L223.9 155.5Z" fill="#dedbe7"/>
<path d="M229.5 156.6L229.3 156.9L229.2 157.3L229.1 157.4L229.2 157.8L229.4 158.2L229.9 158.9L230.3 159.2L230.8 159.4L231.3 159.4L231.8 159.3L232.2 159.0L232.5 158.6L232.9 157.0L233.0 156.6L232.9 156.1L232.5 155.8L232.1 155.6L231.4 155.4L231.1 155.4L230.7 155.5L230.4 155.7L229.5 156.6Z" fill="#d9d6e2"/>
<path d="M235.9 156.8L235.5 156.6L235.0 156.6L234.6 156.7L234.3 157.0L234.0 157.4L233.5 159.0L233.5 159.5L233.6 159.9L233.9 160.3L234.7 160.9L235.1 161.1L235.5 161.1L235.8 161.0L236.2 160.8L236.8 160.3L237.0 159.9L237.1 159.4L237.2 158.4L237.1 157.9L236.7 157.5L235.9 156.8Z" fill="#e0dde9"/>
<path d="M238.3 159.0L238.4 159.4L238.6 159.8L239.0 160.0L239.5 160.1L239.9 160.0L242.4 158.9L242.7 158.7L243.0 158.4L243.1 157.9L243.0 157.5L242.8 156.8L242.6 156.5L242.3 156.2L241.9 156.1L241.5 156.1L241.1 156.2L238.8 157.6L238.6 157.9L238.4 158.2L238.3 158.6L238.3 159.0Z" fill="#dfdce8"/>
<path d="M248.5 159.1L248.9 158.9L249.1 158.5L249.1 158.0L249.1 157.2L249.0 156.8L248.8 156.5L248.5 156.3L246.3 155.1L245.7 154.9L245.2 155.0L244.5 155.3L244.2 155.6L244.0 155.9L243.9 156.3L244.0 156.7L244.5 158.3L244.7 158.7L245.6 159.7L246.0 160.0L246.5 160.1L247.0 160.0L248.5 159.1Z" fill="#dfdce8"/>
<path d="M254.2 156.2L254.2 155.7L254.1 155.3L253.8 154.9L253.4 154.7L252.6 154.5L252.2 154.5L251.8 154.7L251.5 154.9L250.5 156.1L250.2 156.5L250.2 156.9L250.2 157.2L250.3 157.6L250.6 157.9L250.9 158.1L251.3 158.2L252.6 158.2L253.1 158.1L253.5 157.9L253.7 157.5L254.2 156.2Z" fill="#e2dfeb"/>
<path d="M256.9 156.8L256.5 156.6L256.0 156.5L255.6 156.6L255.3 156.9L255.0 157.3L254.8 158.0L254.7 158.4L254.8 158.8L255.0 159.2L255.4 159.6L255.8 159.8L256.2 159.9L256.6 159.8L257.4 159.6L257.8 159.3L258.1 159.0L258.2 158.5L258.1 158.0L257.8 157.6L256.9 156.8Z" fill="#e1deea"/>
<path d="M261.1 157.0L261.1 157.5L261.2 157.9L261.5 158.2L261.9 158.5L262.3 158.5L263.2 158.4L263.5 158.3L263.9 158.1L264.1 157.8L264.3 157.2L264.4 156.7L264.3 156.2L263.7 155.2L263.4 154.9L263.0 154.7L262.6 154.7L262.2 154.8L261.8 155.1L261.6 155.4L261.1 157.0Z" fill="#e1deea"/>
<path d="M201.4 160.2L201.1 160.4L200.7 160.7L200.6 161.1L200.6 161.5L200.7 162.3L200.8 162.8L201.1 163.1L202.0 163.7L202.4 163.9L202.8 163.9L203.2 163.8L203.5 163.6L203.7 163.2L204.2 162.2L204.2 161.7L204.1 161.2L203.8 160.9L203.0 160.3L202.6 160.1L202.1 160.1L201.4 160.2Z" fill="#dad7e3"/>
<path d="M206.1 166.0L206.6 166.2L207.0 166.3L207.5 166.1L207.9 165.8L209.7 163.1L209.9 162.7L209.8 162.2L209.6 161.7L209.2 161.4L208.5 161.1L208.1 161.0L207.8 161.1L206.1 161.5L205.7 161.8L205.4 162.2L204.8 163.7L204.7 164.1L204.8 164.6L205.1 165.0L206.1 166.0Z" fill="#e4e1ed"/>
<path d="M211.3 160.8L211.0 161.2L211.0 161.6L211.0 162.0L211.2 162.3L211.5 162.6L212.7 163.3L213.1 163.4L213.5 163.4L213.9 163.3L214.2 163.0L214.8 162.2L215.0 161.7L215.0 161.2L214.8 160.8L214.4 160.5L214.0 160.3L212.4 160.2L211.9 160.3L211.5 160.6L211.3 160.8Z" fill="#e3e0ec"/>
<path d="M216.2 162.3L216.0 162.7L215.9 163.1L216.1 163.6L216.4 163.9L216.8 164.1L217.3 164.1L217.7 163.9L218.9 163.1L219.3 162.7L219.4 162.3L219.4 161.8L219.2 161.4L218.8 161.1L218.4 160.9L218.0 160.8L217.6 160.8L217.3 161.0L217.0 161.2L216.2 162.3Z" fill="#d9d6e2"/>
<path d="M222.5 165.8L222.8 166.1L223.2 166.4L223.7 166.4L224.1 166.2L225.3 165.5L225.6 165.2L225.8 164.9L225.9 164.5L225.9 164.0L225.8 163.6L224.3 161.3L224.0 161.0L223.6 160.8L223.0 160.7L222.5 160.7L222.1 160.9L221.5 161.3L221.2 161.7L221.0 162.2L221.0 162.4L221.1 163.0L222.5 165.8Z" fill="#e3e0ec"/>
<path d="M226.2 160.0L225.9 160.3L225.7 160.7L225.7 161.1L225.8 161.6L226.4 162.4L226.6 162.7L227.0 162.9L227.4 162.9L227.8 162.8L228.4 162.5L228.7 162.3L229.0 162.0L229.1 161.7L229.2 160.5L229.2 160.1L229.0 159.7L228.9 159.6L228.6 159.3L228.3 159.1L227.8 159.1L227.4 159.3L226.2 160.0Z" fill="#dedbe7"/>
<path d="M234.3 163.6L234.6 163.2L234.6 162.7L234.5 162.3L234.2 161.9L232.7 160.8L232.4 160.6L232.0 160.6L231.4 160.5L231.0 160.6L230.7 160.8L230.4 161.1L230.3 161.5L230.2 161.8L230.2 162.2L230.4 162.6L230.6 162.9L232.2 164.2L232.6 164.5L233.0 164.5L233.4 164.4L233.8 164.2L234.3 163.6Z" fill="#dad7e3"/>
<path d="M236.5 162.0L236.3 162.4L236.2 162.8L236.2 163.2L236.4 163.6L236.7 163.8L238.9 165.2L239.3 165.3L239.8 165.3L240.2 165.0L240.4 164.9L240.7 164.5L240.8 164.1L240.7 163.7L240.5 163.3L239.1 161.6L238.7 161.3L238.5 161.2L238.1 161.1L237.6 161.2L237.2 161.4L236.5 162.0Z" fill="#dcd9e5"/>
<path d="M243.9 163.6L244.5 163.4L244.5 163.4L244.8 163.1L245.0 162.7L245.3 161.9L245.3 161.5L245.2 161.1L245.0 160.8L244.5 160.2L244.1 159.9L243.6 159.8L243.1 159.9L241.6 160.5L241.3 160.8L241.0 161.1L240.9 161.5L241.0 162.0L241.2 162.3L242.0 163.2L242.4 163.5L242.9 163.6L243.9 163.6Z" fill="#dfdce8"/>
<path d="M246.3 162.5L246.2 163.0L246.4 163.4L246.7 163.8L248.0 164.8L248.4 164.9L248.8 165.0L249.2 164.8L249.6 164.6L250.5 163.5L250.7 163.1L250.8 162.6L250.6 162.1L249.9 160.9L249.6 160.6L249.2 160.4L248.7 160.4L248.3 160.5L247.0 161.3L246.6 161.6L246.4 162.0L246.3 162.5Z" fill="#e4e1ed"/>
<path d="M252.3 159.4L251.8 159.5L251.4 159.8L251.2 160.2L251.2 160.7L251.3 161.1L251.9 162.0L252.2 162.3L252.6 162.5L253.3 162.6L253.7 162.6L254.1 162.5L254.4 162.3L254.6 162.0L254.8 161.6L254.9 161.1L254.8 160.7L254.5 160.3L254.0 159.7L253.6 159.5L253.1 159.4L252.3 159.4Z" fill="#d8d5e1"/>
<path d="M258.7 165.3L259.1 165.3L259.5 165.2L259.8 164.9L260.2 164.5L260.5 164.0L260.5 163.5L259.9 161.3L259.7 160.8L259.4 160.5L258.9 160.4L258.5 160.4L256.7 161.0L256.3 161.3L256.0 161.7L255.4 163.1L255.3 163.5L255.4 163.9L255.5 164.2L255.7 164.5L256.0 164.7L256.4 164.9L258.7 165.3Z" fill="#e4e1ed"/>
<path d="M261.5 162.9L261.7 163.3L262.0 163.6L262.5 163.8L265.2 164.1L265.6 164.1L265.9 164.0L266.1 163.9L266.4 163.6L266.6 163.2L266.6 162.8L266.6 162.0L266.5 161.6L266.2 161.2L264.4 159.8L264.0 159.6L263.5 159.5L262.1 159.7L261.6 159.8L261.2 160.2L261.1 160.6L261.1 161.1L261.5 162.9Z" fill="#dbd8e4"/>
<path d="M200.8 164.3L200.4 164.1L200.0 164.1L199.5 164.2L196.9 165.9L196.6 166.2L196.4 166.6L196.4 167.0L196.5 167.4L196.8 167.8L197.2 168.0L197.6 168.1L198.0 168.2L198.4 168.1L199.9 167.5L200.2 167.3L200.5 167.0L201.2 165.8L201.3 165.4L201.3 165.0L201.2 164.6L200.9 164.3L200.8 164.3Z" fill="#d9d6e2"/>
<path d="M204.2 165.7L203.9 165.5L203.5 165.4L203.1 165.5L202.7 165.7L202.4 166.0L202.0 166.7L201.9 167.1L201.9 167.5L202.1 167.9L202.4 168.2L203.4 168.8L203.9 169.0L204.3 169.0L204.8 168.7L205.2 168.3L205.4 168.0L205.5 167.5L205.5 167.0L205.2 166.7L204.2 165.7Z" fill="#dfdce8"/>
<path d="M212.7 165.6L212.7 165.1L212.6 164.7L212.2 164.4L211.7 164.1L211.3 163.9L210.9 163.9L210.5 164.1L210.2 164.4L208.6 166.7L208.5 167.0L208.4 167.4L208.5 167.8L208.8 168.1L209.1 168.4L209.5 168.7L209.9 168.8L211.1 168.8L211.6 168.7L212.0 168.3L212.2 167.9L212.7 165.6Z" fill="#e3e0ec"/>
<path d="M215.3 165.7L214.8 165.6L214.3 165.8L213.9 166.1L213.7 166.5L213.3 168.4L213.2 168.9L213.4 169.2L213.6 169.6L214.2 170.1L214.6 170.3L215.1 170.3L215.5 170.2L215.9 169.9L216.5 169.0L216.7 168.7L216.7 168.3L216.6 167.9L216.1 166.4L215.8 166.1L215.4 165.8L215.3 165.7Z" fill="#dad7e3"/>
<path d="M217.8 165.3L217.4 165.6L217.3 166.1L217.4 166.6L217.6 167.2L217.9 167.6L218.3 167.9L218.8 167.9L220.5 167.8L220.9 167.7L221.3 167.4L221.5 167.0L221.5 166.6L221.4 166.1L220.8 164.8L220.5 164.4L220.0 164.2L219.5 164.2L219.1 164.4L217.8 165.3Z" fill="#e4e1ed"/>
<path d="M228.6 170.0L229.0 169.8L229.3 169.5L229.4 169.1L229.4 168.6L229.2 168.2L228.9 167.9L226.8 166.7L226.4 166.6L225.9 166.6L225.6 166.7L225.5 166.8L225.2 167.0L225.0 167.4L225.0 167.8L225.1 168.2L225.3 168.6L226.8 169.9L227.1 170.2L227.5 170.3L227.9 170.2L228.6 170.0Z" fill="#e2dfeb"/>
<path d="M228.0 164.0L227.6 164.2L227.4 164.6L227.3 165.0L227.3 165.4L227.5 165.7L227.9 166.0L230.4 167.6L230.9 167.7L231.3 167.7L231.7 167.5L231.9 167.4L232.2 167.1L232.3 166.7L232.3 166.6L232.3 166.2L232.2 165.9L231.9 165.5L230.0 163.8L229.6 163.6L229.2 163.6L228.8 163.6L228.0 164.0Z" fill="#dddae6"/>
<path d="M233.8 165.8L233.6 166.1L233.5 166.5L233.6 166.9L233.8 167.3L234.1 167.6L236.3 168.8L236.6 169.0L237.0 169.0L237.4 168.9L238.4 168.3L238.7 168.0L238.9 167.5L238.9 167.4L238.9 166.9L238.7 166.5L238.4 166.2L236.1 164.8L235.6 164.6L235.0 164.7L234.6 165.0L233.8 165.8Z" fill="#dedbe7"/>
<path d="M241.2 168.9L241.6 169.1L242.1 169.1L242.6 168.9L243.2 168.3L243.5 168.0L243.6 167.5L243.7 166.1L243.6 165.7L243.4 165.3L243.0 165.0L242.6 164.9L242.2 165.0L241.8 165.2L240.5 166.3L240.3 166.7L240.2 167.0L240.1 167.4L240.1 167.9L240.3 168.2L240.6 168.5L241.2 168.9Z" fill="#e1deea"/>
<path d="M244.8 167.3L244.8 167.7L245.0 168.1L245.3 168.3L246.3 168.9L246.8 169.1L247.2 169.0L248.1 168.8L248.5 168.5L248.8 168.1L248.9 167.7L248.8 167.2L248.6 166.8L248.2 166.3L246.7 165.2L246.2 165.0L245.7 165.0L245.3 165.2L245.0 165.6L244.9 166.0L244.8 167.3Z" fill="#e4e1ed"/>
<path d="M250.1 165.7L249.9 166.1L249.8 166.5L249.9 166.9L250.2 167.5L250.5 167.9L250.8 168.1L251.2 168.2L251.7 168.2L252.7 167.8L253.0 167.6L253.2 167.4L254.3 165.7L254.5 165.2L254.4 164.6L254.4 164.6L254.2 164.2L253.9 164.0L253.6 163.9L252.7 163.7L252.3 163.7L251.9 163.8L251.6 164.0L250.1 165.7Z" fill="#e2dfeb"/>
<path d="M256.4 169.8L256.9 170.1L257.5 170.0L258.5 169.7L258.9 169.6L259.2 169.3L259.3 168.9L259.3 168.5L259.2 167.4L259.0 166.9L258.7 166.6L258.3 166.4L256.3 166.0L255.9 166.0L255.5 166.2L255.2 166.5L254.7 167.1L254.6 167.5L254.6 167.9L254.7 168.3L255.0 168.7L256.4 169.8Z" fill="#d8d5e1"/>
<path d="M260.5 168.8L260.7 169.2L260.9 169.5L261.3 169.7L261.7 169.8L263.5 169.7L263.9 169.6L264.3 169.4L264.5 169.1L264.6 168.7L264.9 166.4L264.9 165.9L264.7 165.5L264.4 165.3L263.9 165.1L262.1 164.9L261.7 164.9L261.3 165.0L261.1 165.3L260.5 165.9L260.3 166.3L260.3 166.8L260.5 168.8Z" fill="#e2dfeb"/>
<path d="M201.1 168.8L200.7 168.6L200.3 168.6L199.9 168.8L199.6 169.1L199.4 169.5L199.4 169.9L199.5 170.3L201.0 172.8L201.2 173.1L201.6 173.3L201.9 173.4L202.0 173.4L202.4 173.3L202.7 173.1L203.0 172.8L203.1 172.5L203.4 171.1L203.4 170.6L203.2 170.2L202.9 169.9L201.1 168.8Z" fill="#e2dfeb"/>
<path d="M207.9 168.9L207.5 168.7L207.1 168.6L206.7 168.6L206.3 168.9L205.0 170.0L204.8 170.3L204.7 170.7L204.3 172.4L204.3 172.8L204.5 173.2L204.8 173.5L205.3 173.7L206.5 173.9L207.1 173.9L207.3 173.8L207.7 173.6L207.9 173.2L208.1 172.9L208.5 170.1L208.4 169.6L208.2 169.2L207.9 168.9Z" fill="#d8d5e1"/>
<path d="M212.6 170.2L212.2 170.0L211.8 169.9L210.7 169.9L210.3 170.0L209.9 170.2L209.7 170.5L209.5 170.9L209.3 172.7L209.3 173.2L209.5 173.6L209.9 173.9L211.0 174.4L211.5 174.5L212.0 174.3L212.3 174.0L213.5 172.4L213.7 172.0L213.7 171.6L213.6 171.2L213.4 170.9L212.6 170.2Z" fill="#dcd9e5"/>
<path d="M218.3 169.1L217.9 169.3L217.5 169.6L216.9 170.4L216.7 170.8L216.7 171.3L216.8 171.7L217.1 172.0L217.6 172.4L217.9 172.6L218.3 172.7L218.7 172.6L220.7 171.8L221.0 171.6L221.3 171.2L221.4 170.8L221.4 170.2L221.3 169.7L221.1 169.3L220.7 169.0L220.2 169.0L218.3 169.1Z" fill="#e2dfeb"/>
<path d="M224.5 169.4L224.1 169.1L223.7 169.1L223.3 169.1L222.9 169.4L222.7 169.7L222.6 170.1L222.5 171.3L222.6 171.7L222.8 172.1L223.6 173.0L224.0 173.3L224.4 173.4L224.8 173.4L225.2 173.1L225.5 172.8L226.0 171.9L226.1 171.4L226.0 170.9L225.8 170.5L224.5 169.4Z" fill="#d9d6e2"/>
<path d="M231.8 172.2L232.0 172.5L232.3 172.9L232.6 173.2L233.0 173.4L233.5 173.4L235.4 172.9L235.9 172.7L236.2 172.3L236.3 171.8L236.3 170.8L236.2 170.4L236.0 170.1L235.7 169.8L233.5 168.5L233.0 168.4L232.6 168.4L232.2 168.6L231.9 168.8L231.5 169.3L231.4 169.7L231.3 170.1L231.3 170.5L231.8 172.2Z" fill="#dfdce8"/>
<path d="M237.4 171.8L237.5 172.3L237.8 172.7L238.3 172.9L238.8 172.9L240.6 172.6L241.0 172.4L241.4 172.1L241.5 171.7L241.5 171.2L241.5 170.9L241.3 170.5L241.0 170.2L239.9 169.5L239.6 169.3L239.1 169.3L238.7 169.4L238.0 169.8L237.7 170.1L237.5 170.5L237.4 170.9L237.4 171.8Z" fill="#d8d5e1"/>
<path d="M242.8 171.6L242.9 172.0L243.2 172.3L243.6 172.5L244.0 172.6L244.4 172.5L244.5 172.4L244.8 172.2L245.0 171.9L245.5 171.0L245.6 170.6L245.5 170.1L245.3 169.8L245.0 169.5L244.9 169.4L244.4 169.3L244.0 169.3L243.6 169.5L243.1 169.9L242.8 170.2L242.7 170.6L242.7 171.0L242.8 171.6Z" fill="#dcd9e5"/>
<path d="M246.7 171.1L246.5 171.6L246.6 172.1L246.9 172.5L247.4 172.7L248.8 173.2L249.3 173.2L249.7 173.1L250.0 172.8L250.1 172.7L250.3 172.4L250.3 172.0L250.2 170.8L250.1 170.4L249.9 170.0L249.6 169.8L249.2 169.7L248.8 169.8L247.6 170.1L247.1 170.3L246.9 170.7L246.7 171.1Z" fill="#dad7e3"/>
<path d="M253.9 173.1L254.3 173.2L254.7 173.1L255.1 172.9L255.3 172.5L255.7 171.8L255.8 171.3L255.7 170.8L255.4 170.4L253.8 169.2L253.4 169.0L253.1 168.9L252.7 169.0L252.1 169.2L251.7 169.5L251.4 169.9L251.4 170.4L251.4 171.5L251.6 171.9L251.8 172.2L252.2 172.4L253.9 173.1Z" fill="#e3e0ec"/>
<path d="M257.7 171.2L257.2 171.4L257.0 171.8L256.6 172.5L256.5 172.9L256.6 173.3L256.8 173.7L257.2 174.0L258.4 174.5L258.7 174.6L259.1 174.6L259.5 174.5L259.5 174.5L259.8 174.2L259.9 173.9L260.0 173.5L260.0 172.0L260.0 171.6L259.8 171.3L259.4 171.0L259.0 170.9L258.6 170.9L257.7 171.2Z" fill="#e0dde9"/>
<path d="M265.4 171.6L265.1 171.2L264.8 170.9L264.3 170.9L262.3 170.9L261.9 171.0L261.5 171.2L261.3 171.6L261.2 172.0L261.2 173.5L261.2 173.9L261.4 174.2L261.7 174.5L262.3 174.8L262.7 174.9L263.2 174.9L263.6 174.7L265.2 173.2L265.5 172.8L265.6 172.4L265.5 171.9L265.4 171.6Z" fill="#dedbe7"/>
<ellipse cx="248.9" cy="139.0" rx="0.73" ry="0.72" fill="#4c4666"/>
<ellipse cx="202.3" cy="139.3" rx="0.80" ry="0.51" fill="#4c4666"/>
<ellipse cx="251.7" cy="153.8" rx="0.95" ry="0.85" fill="#4c4666"/>
<ellipse cx="239.1" cy="131.2" rx="0.90" ry="0.56" fill="#4c4666"/>
<ellipse cx="259.9" cy="148.5" rx="0.81" ry="0.58" fill="#4c4666"/>
<ellipse cx="240.0" cy="151.3" rx="0.69" ry="0.62" fill="#4c4666"/>
<ellipse cx="206.9" cy="167.5" rx="1.05" ry="0.84" fill="#4c4666"/>
<ellipse cx="243.0" cy="155.5" rx="1.00" ry="0.87" fill="#4c4666"/>
<ellipse cx="213.6" cy="164.5" rx="0.65" ry="0.59" fill="#4c4666"/>
<ellipse cx="226.0" cy="142.4" rx="0.62" ry="0.50" fill="#4c4666"/>
<ellipse cx="235.2" cy="143.0" rx="0.92" ry="0.66" fill="#4c4666"/>
<ellipse cx="215.2" cy="136.6" rx="0.88" ry="0.85" fill="#4c4666"/>
<ellipse cx="228.4" cy="146.4" rx="0.74" ry="0.60" fill="#4c4666"/>
<ellipse cx="259.4" cy="142.0" rx="1.01" ry="0.51" fill="#4c4666"/>
<ellipse cx="210.6" cy="162.7" rx="1.06" ry="0.64" fill="#4c4666"/>
<ellipse cx="220.4" cy="162.8" rx="0.62" ry="0.59" fill="#4c4666"/>
<ellipse cx="215.2" cy="135.1" rx="0.64" ry="0.84" fill="#4c4666"/>
<ellipse cx="203.5" cy="146.5" rx="0.63" ry="0.52" fill="#4c4666"/>
<ellipse cx="222.3" cy="155.1" rx="0.91" ry="0.58" fill="#4c4666"/>
<ellipse cx="203.8" cy="155.4" rx="0.77" ry="0.81" fill="#4c4666"/>
<ellipse cx="242.7" cy="142.4" rx="0.81" ry="0.79" fill="#4c4666"/>
<ellipse cx="228.4" cy="129.3" rx="0.74" ry="0.55" fill="#4c4666"/>
<ellipse cx="242.5" cy="149.6" rx="0.63" ry="0.84" fill="#4c4666"/>
<ellipse cx="240.2" cy="140.9" rx="0.66" ry="0.53" fill="#4c4666"/>
<ellipse cx="218.8" cy="139.4" rx="0.68" ry="0.71" fill="#4c4666"/>
<ellipse cx="204.2" cy="136.9" rx="0.94" ry="0.70" fill="#4c4666"/>
<rect x="202.2" y="126.2" width="59" height="43.8" fill="url(#tg1)"/>
</g></g>
<clipPath id="clip12"><rect x="264.7" y="126.2" width="58.6" height="44.0"/></clipPath>
<g clip-path="url(#clip12)"><g filter="url(#hb)">
<rect x="264.7" y="126.2" width="58.6" height="44.0" fill="#6c6c86"/>
<path d="M273.9 117.2L273.8 118.3L274.3 119.4L277.1 123.2L277.9 123.9L278.9 124.2L279.9 124.0L280.8 123.4L285.2 119.0L285.7 118.2L285.9 117.3L285.7 116.4L281.9 106.5L281.4 105.6L280.6 105.1L279.6 104.9L278.7 105.1L277.9 105.7L277.4 106.6L273.9 117.2Z" fill="#e0dee9"/>
<path d="M326.1 112.7L325.4 112.0L324.5 111.6L323.5 111.7L322.7 112.1L322.0 112.8L321.7 113.7L321.5 115.5L321.6 116.4L322.0 117.2L326.4 123.1L327.0 123.7L327.7 124.0L328.5 124.1L329.5 124.0L330.4 123.7L331.2 123.1L331.6 122.2L331.7 121.2L331.3 120.2L326.1 112.7Z" fill="#dddbe6"/>
<path d="M262.2 126.9L262.5 127.8L263.2 128.6L264.1 129.0L265.1 129.0L266.9 128.6L267.8 128.2L268.5 127.5L268.8 126.5L269.2 122.9L269.2 122.1L268.8 121.3L268.3 120.7L267.5 120.3L265.0 119.5L264.1 119.5L263.2 119.7L262.5 120.2L262.1 121.0L261.9 121.3L261.8 122.4L262.2 126.9Z" fill="#e5e3ee"/>
<path d="M274.7 121.9L274.0 121.3L273.1 120.9L272.2 121.0L271.3 121.4L270.7 122.1L270.4 123.1L270.0 126.3L270.0 127.1L270.4 127.9L271.0 128.5L271.7 128.9L274.6 129.7L275.5 129.7L276.3 129.5L277.0 128.9L277.5 128.1L277.7 127.6L277.8 126.5L277.3 125.4L274.7 121.9Z" fill="#dfdde8"/>
<path d="M278.5 128.7L278.4 129.6L278.6 130.5L279.1 131.3L279.9 131.8L284.1 133.4L284.9 133.6L285.8 133.4L289.0 132.2L289.8 131.8L290.3 131.0L290.6 130.2L291.2 123.1L291.2 122.3L290.8 121.5L290.2 120.9L288.7 119.9L287.9 119.5L287.1 119.5L286.3 119.7L285.6 120.2L279.6 126.3L279.1 127.2L278.5 128.7Z" fill="#e2e0eb"/>
<path d="M294.1 133.6L295.0 134.0L296.0 134.0L297.0 133.6L300.8 130.6L301.5 129.7L301.7 128.5L301.4 123.3L301.1 122.4L300.5 121.6L299.6 121.2L298.6 121.1L294.4 121.7L293.4 122.1L292.6 122.9L292.3 123.9L291.7 130.4L291.8 131.3L292.1 132.0L292.7 132.6L294.1 133.6Z" fill="#e0dee9"/>
<path d="M306.5 131.9L307.5 132.3L308.6 132.2L309.5 131.6L312.7 128.4L313.2 127.6L313.4 126.8L313.2 125.9L312.8 125.1L312.1 124.5L306.8 121.8L305.6 121.5L304.9 121.5L304.0 121.8L303.2 122.3L302.7 123.2L302.6 124.1L302.9 128.5L303.2 129.6L304.0 130.4L306.5 131.9Z" fill="#dbd9e4"/>
<path d="M322.6 119.9L321.9 119.3L321.1 119.0L320.3 119.0L319.5 119.3L318.8 119.8L315.2 124.0L314.7 125.0L314.7 126.1L314.7 126.3L315.1 127.1L315.6 127.7L317.6 129.1L318.4 129.5L319.3 129.6L320.2 129.4L324.3 127.3L325.3 126.4L325.4 126.2L325.7 125.3L325.7 124.4L325.3 123.5L322.6 119.9Z" fill="#e6e4ef"/>
<path d="M328.6 125.2L327.7 125.5L327.0 126.1L326.5 126.9L326.4 127.8L326.6 128.7L328.3 131.9L328.8 132.6L329.6 133.1L330.5 133.2L331.4 133.0L334.1 131.8L334.8 131.2L335.3 130.4L335.5 129.5L335.4 127.3L335.2 126.3L334.6 125.5L333.8 125.0L332.8 124.9L328.6 125.2Z" fill="#dddbe6"/>
<path d="M263.2 132.4L262.7 131.6L262.0 131.0L261.0 130.8L260.1 131.0L256.0 132.5L255.2 133.0L254.6 133.9L254.5 134.9L254.7 135.9L257.0 140.1L257.5 140.7L258.3 141.2L259.1 141.3L262.9 141.3L263.8 141.1L264.6 140.6L265.1 139.9L265.3 139.0L265.2 138.1L263.2 132.4Z" fill="#e7e5f0"/>
<path d="M266.5 138.4L267.0 139.2L267.8 139.8L268.7 140.1L269.6 139.9L270.4 139.5L274.7 135.8L275.4 134.8L275.7 133.9L275.9 132.9L275.6 132.0L275.0 131.2L274.1 130.7L269.7 129.5L268.5 129.5L266.4 129.9L265.5 130.3L264.8 131.1L264.5 132.1L264.7 133.1L266.5 138.4Z" fill="#dfdde8"/>
<path d="M283.7 143.0L284.3 142.2L284.5 141.1L284.4 136.4L284.2 135.5L283.7 134.7L282.9 134.2L279.9 133.0L279.0 132.8L278.0 133.0L277.3 133.6L276.8 134.4L276.6 134.8L276.4 135.7L276.6 136.6L279.2 142.7L279.7 143.4L280.4 144.0L281.3 144.2L282.2 144.0L283.0 143.6L283.7 143.0Z" fill="#e1dfea"/>
<path d="M285.7 140.3L285.9 141.3L286.5 142.1L287.4 142.6L288.4 142.9L289.3 143.0L290.2 142.7L290.9 142.1L294.2 138.3L294.6 137.5L294.7 136.5L294.4 135.5L293.7 134.8L292.0 133.5L291.3 133.2L290.5 133.0L289.7 133.2L287.1 134.2L286.3 134.7L285.7 135.5L285.6 136.5L285.7 140.3Z" fill="#e1dfea"/>
<path d="M298.0 134.2L297.4 135.0L297.1 136.0L297.3 137.0L297.9 137.9L301.0 140.8L302.0 141.4L303.1 141.4L304.1 141.0L306.7 139.1L307.3 138.6L307.6 137.9L307.7 137.1L307.7 135.3L307.4 134.2L306.5 133.3L303.9 131.7L302.9 131.3L302.0 131.4L301.1 131.8L298.0 134.2Z" fill="#dddbe6"/>
<path d="M308.9 136.7L309.1 137.6L309.6 138.4L310.4 138.9L313.6 140.1L314.6 140.3L315.6 139.9L318.2 138.5L319.0 137.8L319.4 136.8L319.4 135.8L318.5 131.9L318.1 131.1L317.5 130.5L316.1 129.5L315.4 129.1L314.5 129.0L313.7 129.2L313.0 129.7L309.5 133.2L309.0 134.0L308.8 135.0L308.9 136.7Z" fill="#e2e0eb"/>
<path d="M323.6 138.5L324.6 138.7L325.7 138.3L326.5 137.6L327.6 135.9L328.0 135.1L328.0 134.2L327.8 133.4L326.2 130.3L325.6 129.6L324.8 129.1L323.8 129.0L322.9 129.3L321.1 130.2L320.3 130.8L319.9 131.8L319.9 132.9L320.7 136.2L321.2 137.2L322.1 137.9L323.6 138.5Z" fill="#dddbe6"/>
<path d="M327.7 137.8L327.3 138.7L327.3 139.6L327.6 140.4L328.2 141.1L329.0 141.5L329.9 141.6L336.2 141.0L337.1 140.8L337.9 140.1L338.9 138.8L339.4 137.8L339.3 136.8L338.9 135.8L337.1 133.6L336.3 133.0L335.2 132.7L334.2 133.0L330.1 134.9L329.1 135.7L327.7 137.8Z" fill="#e0dee9"/>
<path d="M267.7 144.3L267.2 143.3L266.4 142.7L265.4 142.5L259.7 142.5L258.6 142.7L257.8 143.4L257.3 144.3L256.4 147.8L256.4 148.8L256.7 149.7L257.4 150.4L258.3 150.8L262.9 151.6L263.7 151.6L264.4 151.4L267.3 149.9L268.1 149.2L268.5 148.2L268.5 147.1L267.7 144.3Z" fill="#dcdae5"/>
<path d="M269.7 147.2L270.1 148.1L270.8 148.7L271.6 149.0L272.5 149.0L277.1 148.0L278.0 147.6L278.7 146.8L279.0 145.8L278.8 144.7L276.7 139.7L276.2 139.0L275.5 138.5L274.6 138.3L273.7 138.4L272.9 138.8L269.6 141.7L269.1 142.4L268.8 143.2L268.9 144.1L269.7 147.2Z" fill="#e0dee9"/>
<path d="M281.8 146.1L281.2 146.8L281.0 147.8L281.1 148.7L281.5 149.5L282.8 151.0L283.4 151.5L284.2 151.8L285.0 151.8L289.6 151.1L290.5 150.8L291.2 150.2L291.6 149.3L291.6 148.4L291.4 147.5L290.2 145.3L289.6 144.6L288.7 144.2L286.5 143.5L285.8 143.4L285.0 143.6L284.3 144.0L281.8 146.1Z" fill="#dedce7"/>
<path d="M291.9 142.8L291.4 143.6L291.3 144.6L291.6 145.5L293.9 149.9L294.4 150.5L295.0 150.9L295.6 151.2L296.4 151.4L297.2 151.3L298.0 151.0L300.3 149.4L301.0 148.7L301.3 147.7L301.7 144.4L301.6 143.2L300.9 142.3L298.0 139.5L297.1 139.0L296.2 138.9L295.2 139.1L294.5 139.7L291.9 142.8Z" fill="#e2e0eb"/>
<path d="M309.7 139.8L308.9 139.6L308.1 139.7L307.4 140.1L303.9 142.6L303.2 143.4L302.9 144.3L302.6 147.0L302.7 148.0L303.2 148.9L304.0 149.5L308.7 151.6L309.5 151.8L310.4 151.7L311.2 151.2L313.4 149.4L314.0 148.5L314.3 147.5L314.1 143.2L313.9 142.2L313.4 141.5L312.6 141.0L309.7 139.8Z" fill="#e6e4ef"/>
<path d="M323.0 150.2L324.1 150.2L325.0 149.8L325.7 149.0L326.0 148.0L326.4 143.3L326.3 142.6L326.0 141.9L325.6 141.1L325.1 140.5L324.4 140.1L321.6 138.9L320.5 138.8L319.5 139.1L316.5 140.8L315.9 141.3L315.4 142.1L315.3 142.9L315.4 146.6L315.6 147.6L316.3 148.4L317.3 148.9L323.0 150.2Z" fill="#e2e0eb"/>
<path d="M327.1 148.1L327.2 149.0L327.6 149.8L328.3 150.4L329.2 150.9L330.3 151.3L331.4 151.0L336.3 148.8L337.1 148.2L337.6 147.3L337.6 146.3L337.4 144.4L337.1 143.5L336.5 142.8L335.7 142.4L334.8 142.3L329.6 142.8L328.8 143.0L328.1 143.5L327.6 144.2L327.4 145.0L327.1 148.1Z" fill="#dcdae5"/>
<path d="M263.1 155.0L263.0 154.1L262.6 153.3L261.9 152.8L261.1 152.5L255.9 151.5L255.2 151.5L254.5 151.7L250.7 153.5L249.9 154.1L249.4 154.9L249.3 155.8L249.5 156.8L250.1 157.5L251.0 158.0L259.8 160.7L260.6 160.8L261.5 160.6L262.2 160.1L262.7 159.4L262.9 158.5L263.1 155.0Z" fill="#dddbe6"/>
<path d="M264.0 159.7L264.2 160.7L264.7 161.5L265.5 162.1L266.5 162.2L269.4 162.2L270.5 161.9L271.3 161.3L271.7 160.4L272.3 158.1L272.3 156.9L271.1 152.5L270.8 151.7L270.1 151.1L269.4 150.8L268.5 150.7L267.7 151.0L265.6 152.1L264.9 152.6L264.5 153.3L264.3 154.1L264.0 159.7Z" fill="#dcdae5"/>
<path d="M279.9 157.9L280.9 157.9L281.8 157.4L282.4 156.6L282.7 155.7L282.8 153.8L282.7 152.9L282.2 152.1L280.3 149.8L279.6 149.3L278.8 149.0L277.9 149.0L274.2 149.8L273.3 150.2L272.7 150.9L272.3 151.8L272.4 152.8L273.1 155.4L273.5 156.3L274.2 156.9L275.1 157.2L279.9 157.9Z" fill="#e0dee9"/>
<path d="M283.7 158.4L283.9 159.4L284.1 160.1L284.7 161.0L285.6 161.5L286.7 161.6L288.7 161.4L289.7 161.1L294.7 158.3L295.5 157.5L295.9 156.4L296.1 154.5L296.0 153.5L295.5 152.6L294.7 152.0L294.5 151.9L293.8 151.7L293.0 151.7L285.9 152.8L284.9 153.2L284.2 154.0L283.9 155.1L283.7 158.4Z" fill="#e3e1ec"/>
<path d="M299.8 161.6L300.6 162.3L301.7 162.6L302.8 162.4L309.1 159.4L310.0 158.7L310.5 157.7L310.5 156.6L309.9 154.5L309.5 153.5L308.6 152.8L303.0 150.3L302.2 150.1L301.4 150.2L300.7 150.5L298.3 152.1L297.6 152.9L297.3 153.9L297.0 156.9L297.1 157.8L297.5 158.6L299.8 161.6Z" fill="#dbd9e4"/>
<path d="M313.4 159.7L314.0 160.1L314.8 160.3L315.6 160.2L319.2 159.2L320.2 158.7L320.8 157.8L322.4 154.1L322.5 153.1L322.3 152.1L321.6 151.3L320.7 150.8L316.2 149.8L315.1 149.8L314.1 150.3L311.9 152.1L311.4 152.8L311.1 153.7L311.1 154.5L311.9 157.8L312.2 158.5L312.7 159.0L313.4 159.7Z" fill="#e3e1ec"/>
<path d="M323.0 160.5L323.8 160.9L324.6 161.1L325.5 160.9L326.2 160.4L329.9 157.0L330.5 156.2L330.7 155.2L330.5 154.3L330.1 153.3L329.7 152.7L329.1 152.2L327.7 151.4L326.8 151.1L325.7 151.2L324.8 151.7L324.2 152.5L322.2 157.6L322.0 158.6L322.2 159.6L322.8 160.4L323.0 160.5Z" fill="#e1dfea"/>
<path d="M271.5 169.2L272.4 168.8L273.0 168.1L273.4 167.2L273.4 166.3L273.0 165.4L272.2 164.3L271.3 163.6L270.2 163.3L265.7 163.4L264.7 163.6L263.9 164.2L263.4 165.1L262.8 167.2L262.6 168.0L262.8 168.8L262.8 168.8L263.4 169.7L264.4 170.2L265.5 170.3L271.5 169.2Z" fill="#e0dee9"/>
<path d="M275.1 166.4L275.8 167.0L276.6 167.3L277.5 167.3L278.4 167.0L282.3 164.5L283.1 163.6L283.3 163.4L283.6 162.4L283.4 161.3L283.2 160.8L282.8 160.1L282.1 159.6L281.3 159.3L275.7 158.4L274.8 158.5L274.0 158.8L273.3 159.4L273.0 160.2L272.6 161.5L272.6 162.5L273.0 163.5L275.1 166.4Z" fill="#e1dfea"/>
<path d="M287.1 162.7L286.2 163.0L285.4 163.7L285.0 164.6L285.0 165.6L285.4 166.6L286.6 168.2L287.2 168.8L288.1 169.1L289.0 169.2L289.8 168.8L290.5 168.2L290.9 167.4L290.9 166.5L290.7 165.7L289.8 164.0L289.2 163.3L288.4 162.8L287.4 162.7L287.1 162.7Z" fill="#e6e4ef"/>
<path d="M293.7 169.0L294.3 169.7L295.1 170.2L296.1 170.3L297.0 170.0L297.8 169.3L299.8 166.7L300.2 166.0L300.3 165.1L300.3 164.9L300.1 164.2L299.8 163.5L297.4 160.4L296.8 159.9L296.0 159.5L295.1 159.5L294.3 159.8L292.2 161.0L291.5 161.6L291.1 162.4L291.0 163.3L291.2 164.2L293.7 169.0Z" fill="#dfdde8"/>
<path d="M304.1 163.0L303.2 163.7L302.8 164.6L302.7 165.6L303.1 166.6L303.8 167.3L307.7 169.6L308.5 169.9L309.4 169.9L310.2 169.5L310.9 168.9L313.2 165.7L313.5 165.0L313.6 164.3L313.6 162.5L313.4 161.6L312.8 160.7L312.7 160.6L311.9 160.1L310.9 160.0L310.0 160.2L304.1 163.0Z" fill="#e2e0eb"/>
<path d="M316.5 161.2L315.6 161.6L315.0 162.5L314.8 163.5L314.8 163.7L315.0 164.8L315.8 165.7L319.6 168.3L320.6 168.7L321.6 168.7L323.5 168.2L324.4 167.7L325.0 166.8L325.2 165.8L325.0 164.8L324.4 163.5L323.8 162.7L321.6 160.9L320.6 160.3L319.4 160.4L316.5 161.2Z" fill="#e3e1ec"/>
<path d="M328.9 168.1L329.8 168.4L330.7 168.3L331.6 167.8L335.6 164.4L336.2 163.7L336.5 162.7L336.3 161.7L335.8 160.9L333.5 158.5L332.7 158.0L331.8 157.8L330.9 157.9L330.1 158.4L326.6 161.6L326.1 162.4L325.9 163.4L326.1 164.4L327.1 166.6L327.6 167.3L328.2 167.7L328.9 168.1Z" fill="#e2e0eb"/>
<path d="M260.8 177.2L261.5 176.7L261.9 176.0L262.2 175.3L262.5 172.0L262.4 170.8L262.1 170.0L261.6 169.2L260.8 168.7L259.9 168.5L244.3 167.8L243.4 167.9L242.6 168.4L242.0 169.2L241.8 170.1L241.9 171.0L242.4 171.8L243.1 172.4L256.0 178.5L257.0 178.7L258.1 178.5L260.8 177.2Z" fill="#dcdae5"/>
<path d="M274.7 174.2L275.2 173.3L275.3 172.3L275.0 171.4L274.4 170.6L273.5 170.2L272.5 170.2L265.5 171.4L264.5 171.8L263.8 172.6L263.5 173.5L263.3 175.0L263.4 176.0L263.9 176.8L264.6 177.4L267.7 179.1L268.7 179.4L269.8 179.2L270.6 178.6L274.7 174.2Z" fill="#e3e1ec"/>
<path d="M284.4 167.2L283.8 166.6L282.9 166.2L282.0 166.2L281.2 166.6L278.2 168.4L277.6 169.0L277.2 169.8L277.1 170.7L277.2 171.5L277.5 172.4L278.0 173.1L281.5 176.1L282.4 176.6L283.4 176.7L284.6 176.5L285.4 176.3L286.0 175.8L286.5 175.1L287.3 173.3L287.5 172.5L287.5 171.6L287.1 170.9L284.4 167.2Z" fill="#e6e4ef"/>
<path d="M288.6 178.1L289.6 178.6L290.7 178.6L291.7 178.1L294.6 175.9L295.2 175.2L295.5 174.3L295.4 173.3L295.0 172.5L294.3 171.9L293.4 171.6L292.5 171.6L290.1 172.2L289.1 172.7L288.5 173.5L287.8 175.0L287.6 176.0L287.8 177.1L288.4 177.9L288.6 178.1Z" fill="#dddbe6"/>
<path d="M302.9 168.1L302.1 167.8L301.2 167.8L300.4 168.1L299.7 168.7L298.2 170.7L297.7 171.6L297.7 172.6L297.9 173.4L298.5 174.5L300.9 177.3L301.5 177.8L302.3 178.1L303.1 178.1L307.5 177.5L308.4 177.2L309.1 176.6L309.5 175.8L309.6 174.8L309.4 173.0L309.0 172.0L308.2 171.3L302.9 168.1Z" fill="#dddbe6"/>
<path d="M310.9 170.9L310.5 171.7L310.5 172.6L310.6 174.1L310.9 174.9L311.4 175.6L312.2 176.0L313.1 176.2L316.0 176.2L317.0 175.9L317.8 175.3L318.3 174.5L319.2 171.6L319.3 170.5L319.0 169.6L318.3 168.8L316.3 167.4L315.4 167.1L314.5 167.0L313.6 167.4L312.9 168.0L310.9 170.9Z" fill="#e2e0eb"/>
<path d="M329.9 171.2L329.7 170.4L329.3 169.8L328.7 169.3L327.8 168.8L327.0 168.6L326.0 168.6L322.1 169.7L321.4 170.1L320.8 170.6L320.5 171.3L319.4 174.8L319.3 175.8L319.6 176.7L320.3 177.5L324.3 180.4L325.3 180.8L326.4 180.7L327.3 180.2L329.5 178.3L330.1 177.4L330.3 176.3L329.9 171.2Z" fill="#dbd9e4"/>
<ellipse cx="296.3" cy="158.0" rx="0.70" ry="0.67" fill="#3c3c5a"/>
<ellipse cx="320.4" cy="169.6" rx="0.83" ry="0.53" fill="#3c3c5a"/>
<ellipse cx="300.9" cy="166.2" rx="0.85" ry="0.66" fill="#3c3c5a"/>
<ellipse cx="290.1" cy="144.0" rx="0.77" ry="0.63" fill="#3c3c5a"/>
<ellipse cx="318.8" cy="130.7" rx="0.93" ry="0.84" fill="#3c3c5a"/>
<ellipse cx="314.9" cy="148.9" rx="0.89" ry="0.59" fill="#3c3c5a"/>
<ellipse cx="267.1" cy="141.9" rx="0.90" ry="0.81" fill="#3c3c5a"/>
<ellipse cx="276.3" cy="168.9" rx="0.99" ry="0.81" fill="#3c3c5a"/>
<rect x="264.7" y="126.2" width="58.6" height="44" fill="url(#tg1)"/>
</g></g>
<clipPath id="clip13"><rect x="202.2" y="185.0" width="59.0" height="44.6"/></clipPath>
<g clip-path="url(#clip13)"><g filter="url(#hb)">
<rect x="202.2" y="185.0" width="59.0" height="44.6" fill="#aaa6b8"/>
<path d="M204.1 182.8L204.9 183.1L209.4 183.6L210.0 183.5L210.5 183.2L210.9 182.8L211.0 182.2L211.0 181.6L209.0 175.5L208.7 174.9L208.2 174.6L207.7 174.4L207.1 174.5L206.6 174.8L206.2 175.3L203.5 180.8L203.3 181.5L203.5 182.1L203.9 182.7L204.1 182.8Z" fill="#f2eaf1"/>
<path d="M228.3 183.1L228.9 182.8L229.2 182.2L229.3 181.6L229.1 181.0L226.3 175.4L225.9 175.0L225.4 174.7L224.8 174.6L224.3 174.8L223.8 175.1L223.5 175.6L223.4 176.2L223.6 180.4L223.8 181.1L224.3 181.6L226.5 183.1L227.2 183.4L227.9 183.3L228.3 183.1Z" fill="#eee6ed"/>
<path d="M237.3 183.7L237.8 184.1L238.3 184.2L238.9 184.2L239.4 183.9L239.8 183.4L241.1 181.0L241.2 180.2L240.4 172.0L240.2 171.4L239.9 171.0L239.4 170.7L238.8 170.6L238.3 170.8L237.8 171.1L237.5 171.6L234.6 179.2L234.5 179.7L234.6 180.2L234.8 180.6L237.3 183.7Z" fill="#f0e8ef"/>
<path d="M200.8 182.9L200.3 183.2L199.9 183.6L199.7 184.2L199.8 184.8L200.0 185.3L201.6 187.4L202.1 187.8L202.6 188.0L203.1 187.9L203.7 187.7L204.1 187.3L204.3 186.8L204.3 186.2L204.0 184.3L203.8 183.7L203.4 183.3L203.0 182.9L202.3 182.7L201.6 182.7L200.8 182.9Z" fill="#e8e0e7"/>
<path d="M206.9 188.3L207.4 188.2L207.8 188.0L208.1 187.6L208.9 186.6L209.1 186.0L209.1 185.4L208.9 184.8L208.4 184.4L207.8 184.2L206.7 184.1L206.1 184.2L205.6 184.4L205.3 184.8L205.1 185.3L205.0 185.8L205.2 187.0L205.4 187.5L205.7 187.9L206.1 188.2L206.7 188.3L206.9 188.3Z" fill="#ece4eb"/>
<path d="M213.9 182.7L213.4 183.2L213.2 183.8L213.3 184.4L213.6 185.0L214.1 185.5L214.6 185.9L215.3 186.0L218.4 185.6L219.0 185.5L219.4 185.1L219.7 184.6L219.7 184.6L219.8 184.0L219.6 183.5L219.3 183.0L217.8 181.6L217.2 181.2L216.6 181.2L216.0 181.4L213.9 182.7Z" fill="#efe7ee"/>
<path d="M224.7 188.6L225.1 188.3L225.3 187.9L226.2 185.2L226.3 184.6L226.1 184.0L225.6 183.5L224.2 182.5L223.6 182.3L223.0 182.3L222.4 182.6L221.2 183.5L220.7 184.2L220.4 185.0L220.3 185.5L220.4 186.0L220.6 186.5L222.3 188.6L222.7 188.9L223.2 189.1L223.8 189.1L224.3 188.9L224.7 188.6Z" fill="#eee6ed"/>
<path d="M231.1 188.4L231.6 188.0L231.8 187.4L231.8 186.7L231.6 186.2L230.2 184.4L229.8 184.0L229.2 183.8L228.5 183.9L228.0 184.1L227.5 184.4L227.2 185.0L226.5 186.8L226.4 187.4L226.6 188.0L227.0 188.5L227.5 188.7L228.9 189.1L229.5 189.2L230.0 189.0L231.1 188.4Z" fill="#e8e0e7"/>
<path d="M231.4 181.9L231.0 182.3L230.7 182.8L230.7 183.5L231.0 184.0L233.1 186.9L233.5 187.3L233.9 187.5L234.1 187.5L234.7 187.6L235.3 187.4L235.7 187.1L236.6 186.0L236.9 185.6L237.0 185.0L236.9 184.5L236.6 184.1L234.5 181.5L234.1 181.2L233.6 181.0L233.1 181.0L232.6 181.2L231.4 181.9Z" fill="#ede5ec"/>
<path d="M240.7 183.4L240.6 184.0L240.7 184.7L241.1 185.2L243.1 187.0L243.6 187.3L244.1 187.3L244.7 187.2L245.2 186.9L245.5 186.4L246.1 184.6L246.2 184.0L246.1 183.4L245.8 183.0L245.3 182.7L243.1 181.7L242.6 181.6L242.0 181.7L241.6 182.0L241.2 182.4L240.7 183.4Z" fill="#e7dfe6"/>
<path d="M248.0 183.0L247.5 183.4L247.3 183.8L246.6 185.7L246.5 186.2L246.6 186.7L246.8 187.2L247.2 187.5L247.7 187.7L248.5 187.8L249.1 187.8L249.7 187.5L252.0 185.7L252.4 185.2L252.6 184.6L252.5 184.0L252.2 183.5L251.7 183.1L250.2 182.5L249.6 182.4L249.0 182.5L248.0 183.0Z" fill="#efe7ee"/>
<path d="M260.5 182.9L260.4 182.2L260.0 181.7L259.4 181.4L258.8 181.4L255.6 181.9L255.1 182.1L254.7 182.5L254.3 183.0L254.0 183.6L253.9 184.3L254.0 184.4L254.3 185.0L256.0 187.2L256.4 187.6L256.9 187.7L257.5 187.8L259.2 187.5L259.7 187.3L260.1 187.0L260.4 186.5L260.5 186.0L260.5 182.9Z" fill="#ede5ec"/>
<path d="M261.7 180.3L261.4 180.8L261.3 181.4L261.3 186.3L261.4 186.9L261.7 187.4L262.2 187.7L263.3 188.2L264.0 188.3L264.6 188.1L265.1 187.7L265.4 187.1L266.5 182.8L266.5 182.3L266.4 181.8L266.1 181.3L264.4 179.7L263.9 179.4L263.3 179.3L262.8 179.5L262.3 179.8L261.7 180.3Z" fill="#eee6ed"/>
<path d="M200.3 192.7L200.9 192.8L201.5 192.6L201.9 192.3L202.2 191.8L202.5 191.0L202.6 190.5L202.5 190.0L202.3 189.6L199.5 185.9L199.1 185.6L198.6 185.4L198.1 185.4L197.6 185.5L197.2 185.9L194.9 188.5L194.6 189.0L194.6 189.6L194.7 190.1L195.0 190.6L195.5 190.9L200.3 192.7Z" fill="#f1e9f0"/>
<path d="M203.2 191.3L203.2 191.9L203.3 192.5L203.7 193.0L204.3 193.3L204.9 193.3L207.4 192.9L207.9 192.7L208.3 192.3L208.6 191.8L208.6 191.2L208.5 190.7L208.0 189.9L207.7 189.5L207.3 189.2L206.8 189.1L205.8 189.0L205.2 189.1L204.8 189.4L203.9 190.1L203.4 190.8L203.2 191.3Z" fill="#e7dfe6"/>
<path d="M208.9 188.0L208.6 188.5L208.6 189.0L208.8 189.5L210.1 192.1L210.3 192.5L210.7 192.7L211.4 193.1L211.9 193.2L212.4 193.2L212.9 193.0L213.2 192.8L213.7 192.3L213.8 191.6L214.0 187.2L213.9 186.7L213.6 186.2L212.9 185.4L212.5 185.1L212.0 184.9L211.5 185.0L211.0 185.2L210.6 185.6L208.9 188.0Z" fill="#ece4eb"/>
<path d="M222.0 191.8L222.5 191.1L222.5 191.0L222.5 190.3L222.2 189.7L220.0 187.0L219.6 186.6L219.2 186.4L218.7 186.4L216.1 186.7L215.6 186.8L215.2 187.2L214.9 187.6L214.8 188.1L214.7 191.0L214.7 191.5L215.0 192.0L215.4 192.3L215.8 192.5L219.5 193.3L220.2 193.3L220.8 192.9L222.0 191.8Z" fill="#ece4eb"/>
<path d="M224.3 189.9L223.9 190.3L223.7 190.8L223.7 191.4L223.9 191.9L224.3 192.3L227.3 194.3L228.0 194.5L228.0 194.5L228.5 194.5L229.0 194.2L229.4 193.8L229.6 193.3L229.6 192.8L229.3 191.0L229.1 190.4L228.7 190.0L228.2 189.8L226.2 189.2L225.5 189.2L224.9 189.4L224.3 189.9Z" fill="#f0e8ef"/>
<path d="M230.3 192.2L230.5 192.8L230.9 193.2L231.5 193.4L232.2 193.4L232.7 193.1L234.7 191.5L235.1 191.0L235.3 190.5L235.3 189.9L235.1 189.4L234.9 188.9L234.5 188.6L234.1 188.4L233.9 188.3L233.3 188.2L232.7 188.4L230.9 189.4L230.4 189.8L230.1 190.4L230.1 191.0L230.3 192.2Z" fill="#eae2e9"/>
<path d="M236.2 190.3L236.4 190.7L236.7 191.1L238.4 192.4L238.8 192.6L239.3 192.7L239.8 192.6L242.5 191.6L242.9 191.3L243.2 190.9L243.4 190.5L243.6 189.5L243.6 189.0L243.4 188.5L243.1 188.1L240.2 185.5L239.8 185.3L239.3 185.2L238.8 185.2L238.6 185.3L237.9 185.8L236.2 187.8L235.8 188.4L235.9 189.1L236.2 190.3Z" fill="#eee6ed"/>
<path d="M246.1 188.2L245.5 188.3L245.0 188.5L244.6 188.9L244.4 189.4L244.2 190.6L244.2 191.1L244.3 191.6L244.6 192.0L246.3 193.7L246.8 194.0L247.3 194.1L247.9 194.0L248.4 193.7L249.3 192.9L249.6 192.5L249.8 191.9L249.8 191.3L249.2 189.6L249.0 189.1L248.6 188.7L248.0 188.5L246.1 188.2Z" fill="#efe7ee"/>
<path d="M255.8 189.2L255.8 188.5L255.5 187.8L254.5 186.6L254.1 186.2L253.5 186.1L253.0 186.1L252.4 186.4L250.5 187.9L250.2 188.3L250.0 188.9L250.0 189.5L250.4 190.8L250.7 191.3L251.0 191.6L251.5 191.8L252.0 191.9L254.0 191.7L254.6 191.5L255.1 191.1L255.3 190.6L255.8 189.2Z" fill="#ece4eb"/>
<path d="M256.2 192.9L256.5 193.4L257.1 193.8L257.9 194.0L258.5 194.1L259.0 193.9L263.2 191.6L263.7 191.3L263.9 190.8L264.0 190.2L263.9 189.7L263.5 189.2L263.1 188.9L261.2 188.2L260.4 188.1L257.7 188.5L257.1 188.7L256.7 189.1L256.5 189.6L255.9 191.4L255.9 191.9L256.0 192.4L256.2 192.9Z" fill="#eae2e9"/>
<path d="M266.7 189.3L266.1 189.4L265.6 189.7L265.2 190.1L265.1 190.7L265.0 191.0L265.1 191.5L266.2 195.3L266.4 195.8L266.8 196.2L267.3 196.4L267.9 196.4L268.4 196.2L268.8 195.9L271.1 193.0L271.4 192.4L271.4 191.8L271.1 191.1L270.1 190.0L269.7 189.6L269.1 189.5L266.7 189.3Z" fill="#e8e0e7"/>
<path d="M203.2 196.2L202.8 195.7L202.3 195.4L201.6 195.3L201.1 195.5L200.6 195.9L199.1 198.1L198.9 198.7L198.9 199.3L199.2 199.9L200.3 201.3L200.6 201.7L201.2 201.9L201.7 201.9L202.2 201.7L202.6 201.4L204.0 199.7L204.2 199.2L204.3 198.7L204.1 198.1L203.2 196.2Z" fill="#eee6ed"/>
<path d="M205.2 194.1L204.7 194.3L204.3 194.6L204.0 195.1L204.0 195.7L204.1 196.2L204.9 197.9L205.2 198.3L205.6 198.6L206.1 198.8L209.4 199.2L210.0 199.2L210.5 198.9L210.9 198.5L211.1 198.0L211.5 195.3L211.5 194.6L211.2 194.1L210.8 193.7L210.4 193.5L209.9 193.3L209.4 193.3L205.2 194.1Z" fill="#ebe3ea"/>
<path d="M220.0 195.4L219.9 194.7L219.4 194.3L218.9 194.0L214.9 193.1L214.3 193.1L213.8 193.4L213.1 193.8L212.7 194.3L212.4 194.8L211.8 198.2L211.8 198.7L212.0 199.2L212.4 199.6L212.8 199.9L213.4 200.1L213.9 200.2L214.5 200.1L219.2 198.0L219.7 197.7L220.0 197.1L220.1 196.5L220.0 195.4Z" fill="#f2eaf1"/>
<path d="M223.7 192.9L223.1 192.6L222.5 192.7L221.9 193.0L221.3 193.6L220.9 194.1L220.8 194.8L220.9 197.3L221.2 198.1L222.2 199.4L222.6 199.7L223.1 200.0L223.7 200.0L224.2 199.8L224.3 199.7L224.9 199.1L226.3 196.2L226.5 195.7L226.5 195.2L226.2 194.7L225.8 194.3L223.7 192.9Z" fill="#e8e0e7"/>
<path d="M230.7 196.4L230.4 195.9L229.9 195.6L229.4 195.4L228.7 195.4L228.1 195.5L227.6 195.7L227.3 196.2L226.7 197.2L226.6 197.8L226.7 198.4L227.0 198.9L227.5 199.2L228.1 199.4L229.4 199.3L230.0 199.2L230.4 199.0L230.8 198.5L230.9 198.3L231.0 197.7L230.9 197.1L230.7 196.4Z" fill="#e6dee5"/>
<path d="M232.0 194.7L231.6 195.2L231.4 195.8L231.5 196.4L231.6 196.6L231.9 197.0L232.2 197.3L232.7 197.5L235.1 197.9L235.6 197.9L236.1 197.7L237.6 196.8L238.1 196.3L238.3 195.7L238.5 194.4L238.4 193.9L238.2 193.4L237.9 193.1L236.9 192.3L236.3 192.0L235.7 192.0L235.1 192.3L232.0 194.7Z" fill="#f0e8ef"/>
<path d="M240.2 193.3L239.7 193.6L239.4 194.1L239.3 194.6L239.1 195.8L239.2 196.4L239.6 197.0L241.9 199.2L242.3 199.5L242.9 199.6L243.5 199.5L243.9 199.2L246.4 196.9L246.7 196.4L246.8 195.9L246.7 195.3L246.4 194.8L244.2 192.7L243.7 192.4L243.1 192.3L242.6 192.4L240.2 193.3Z" fill="#e9e1e8"/>
<path d="M248.6 194.5L248.3 195.0L248.1 195.5L248.1 196.0L248.3 196.5L248.7 196.9L249.5 197.5L250.2 197.7L252.9 198.0L253.5 197.9L254.1 197.6L254.4 197.1L255.4 194.5L255.6 193.9L255.4 193.4L255.1 192.9L254.5 192.6L253.9 192.5L251.1 192.7L250.7 192.9L250.3 193.1L248.6 194.5Z" fill="#e9e1e8"/>
<path d="M255.3 197.0L255.2 197.6L255.3 198.1L255.6 198.6L256.0 198.9L256.5 199.1L257.0 199.1L258.6 198.7L259.1 198.4L259.5 198.0L259.7 197.4L259.7 196.8L259.4 196.3L258.6 195.3L257.8 194.8L257.7 194.8L257.1 194.7L256.6 194.9L256.2 195.2L255.9 195.6L255.3 197.0Z" fill="#f2eaf1"/>
<path d="M261.7 197.8L262.2 198.2L262.9 198.5L263.6 198.6L264.2 198.5L264.9 198.2L265.3 197.9L265.6 197.4L265.7 196.9L265.7 196.4L264.9 193.7L264.6 193.2L264.3 192.8L263.8 192.6L263.2 192.6L262.7 192.8L260.7 193.9L260.3 194.2L260.1 194.6L260.0 195.2L260.0 195.7L260.3 196.1L261.7 197.8Z" fill="#f2eaf1"/>
<path d="M203.1 202.1L202.8 202.6L202.7 203.2L202.9 203.8L203.3 204.2L205.5 205.9L206.0 206.1L206.5 206.2L207.7 206.1L208.3 206.0L208.8 205.6L209.1 205.0L210.0 201.8L210.1 201.2L209.8 200.6L209.4 200.1L208.8 199.9L206.0 199.6L205.5 199.6L205.0 199.8L204.7 200.1L203.1 202.1Z" fill="#f0e8ef"/>
<path d="M212.8 200.7L212.2 200.6L211.6 200.8L211.2 201.2L210.9 201.7L209.8 205.6L209.7 206.3L210.0 207.0L210.6 207.7L211.0 208.1L211.5 208.3L212.4 208.5L212.9 208.5L213.4 208.4L213.8 208.1L214.1 207.6L215.4 204.7L215.5 204.2L215.4 203.6L215.2 203.2L214.0 201.4L213.3 200.9L212.8 200.7Z" fill="#eae2e9"/>
<path d="M221.2 199.3L220.6 198.9L220.0 198.7L219.3 198.8L216.3 200.2L215.8 200.4L215.5 200.9L215.4 201.4L215.4 201.9L215.6 202.4L216.0 203.0L216.5 203.3L217.0 203.6L220.8 204.2L221.4 204.1L222.0 203.8L222.4 203.3L222.5 202.7L222.5 201.6L222.4 201.1L222.2 200.7L221.2 199.3Z" fill="#e6dee5"/>
<path d="M225.5 200.2L224.7 200.4L224.0 200.8L223.6 201.1L223.4 201.6L223.3 202.1L223.3 203.8L223.5 204.5L223.9 205.0L224.0 205.1L224.6 205.4L225.3 205.3L229.3 204.1L229.9 203.7L230.2 203.2L230.3 202.6L230.3 201.6L230.2 201.0L229.8 200.6L229.3 200.3L228.8 200.1L225.5 200.2Z" fill="#e8e0e7"/>
<path d="M231.1 202.3L231.3 202.9L231.7 203.4L232.2 203.7L232.8 203.7L234.4 203.5L234.9 203.3L235.3 202.9L235.6 202.4L235.6 201.9L235.5 199.9L235.3 199.3L234.8 198.8L234.2 198.6L232.9 198.4L232.3 198.4L231.7 198.7L231.3 199.2L231.2 199.5L231.0 200.2L231.1 202.3Z" fill="#e6dee5"/>
<path d="M236.9 198.2L236.5 198.6L236.3 199.0L236.2 199.6L236.5 202.6L236.7 203.3L237.2 203.8L239.0 204.8L239.5 205.0L240.0 205.0L240.5 204.9L241.6 204.2L242.0 203.9L242.3 203.5L242.4 203.0L242.5 201.6L242.4 201.0L242.0 200.5L239.4 198.0L238.9 197.6L238.2 197.5L237.6 197.8L236.9 198.2Z" fill="#ebe3ea"/>
<path d="M246.8 205.7L247.3 205.8L247.9 205.8L248.4 205.5L248.8 205.0L248.9 204.4L249.2 199.1L249.2 198.6L249.0 198.2L248.6 197.8L248.5 197.7L248.0 197.5L247.5 197.4L247.0 197.6L246.6 197.8L243.7 200.6L243.4 201.0L243.3 201.6L243.2 202.8L243.3 203.4L243.5 203.9L244.0 204.3L246.8 205.7Z" fill="#eee6ed"/>
<path d="M254.7 200.4L254.5 199.8L254.4 199.6L253.9 199.1L253.2 198.8L251.6 198.7L251.0 198.7L250.5 199.0L250.1 199.5L250.0 200.1L249.8 203.7L249.9 204.3L250.2 204.8L250.7 205.2L251.4 205.3L253.6 205.1L254.2 204.9L254.3 204.9L254.8 204.5L255.0 204.0L255.1 203.4L254.7 200.4Z" fill="#ebe3ea"/>
<path d="M262.3 201.1L262.4 200.5L262.3 200.0L262.1 199.5L261.6 199.2L261.1 199.0L260.6 199.0L256.8 199.9L256.3 200.2L255.9 200.5L255.7 201.0L255.7 201.6L255.9 203.4L256.0 203.9L256.4 204.3L256.9 204.6L257.8 204.9L258.6 204.9L260.2 204.5L260.7 204.2L261.1 203.6L262.3 201.1Z" fill="#efe7ee"/>
<path d="M264.4 199.3L263.9 199.6L263.6 200.0L262.1 203.4L262.0 204.1L262.1 204.7L262.6 205.2L265.0 207.0L265.6 207.3L266.2 207.3L266.8 207.0L267.2 206.5L269.4 202.3L269.6 201.8L269.5 201.3L269.4 200.7L269.2 200.3L268.9 199.9L267.5 198.7L267.0 198.5L266.5 198.4L265.9 198.5L264.4 199.3Z" fill="#f2eaf1"/>
<path d="M202.4 204.5L201.8 204.2L201.1 204.3L200.5 204.6L199.2 205.7L198.9 206.2L198.7 206.8L198.8 207.4L199.5 209.0L199.9 209.6L200.9 210.4L201.3 210.7L201.9 210.8L202.4 210.7L203.0 210.4L203.5 210.1L203.8 209.7L204.7 207.9L204.9 207.4L204.9 206.9L204.7 206.4L204.3 206.0L202.4 204.5Z" fill="#eee6ed"/>
<path d="M209.8 209.4L210.0 208.9L209.9 208.3L209.6 207.8L209.4 207.5L208.9 207.0L208.2 206.9L206.9 207.0L206.4 207.1L206.0 207.4L205.7 207.8L204.9 209.2L204.8 209.7L204.8 210.3L205.0 210.8L205.4 211.1L206.5 211.9L207.1 212.2L207.7 212.1L208.3 211.9L208.7 211.4L209.8 209.4Z" fill="#efe7ee"/>
<path d="M214.8 208.1L214.6 208.7L214.8 209.3L215.1 209.8L215.6 210.1L216.2 210.2L216.8 210.0L217.1 209.9L217.5 209.6L219.8 207.2L220.1 206.8L220.3 206.2L220.2 205.7L219.9 205.2L219.5 204.9L219.0 204.7L217.6 204.5L216.9 204.5L216.3 204.8L216.0 205.3L214.8 208.1Z" fill="#f0e8ef"/>
<path d="M224.4 206.9L224.1 206.4L223.6 206.0L223.0 205.8L222.4 205.9L221.9 206.3L219.8 208.4L219.5 208.9L219.4 209.4L219.5 210.0L219.8 210.5L220.3 210.8L221.8 211.5L222.4 211.6L222.9 211.5L223.4 211.2L223.7 210.8L224.6 209.2L224.7 208.6L224.7 208.1L224.4 206.9Z" fill="#eee6ed"/>
<path d="M231.3 205.9L231.1 205.4L230.6 205.0L230.0 204.8L229.4 204.9L226.4 205.8L225.9 206.1L225.5 206.5L225.4 207.1L225.4 207.6L225.5 207.9L225.7 208.4L226.1 208.8L229.0 210.6L229.5 210.8L230.0 210.9L230.5 210.7L231.3 210.3L231.8 209.8L232.0 209.3L232.0 208.6L231.3 205.9Z" fill="#ebe3ea"/>
<path d="M233.5 204.4L232.9 204.6L232.5 205.1L232.2 205.6L232.2 206.3L232.9 208.7L233.1 209.2L233.5 209.6L234.0 209.8L235.8 210.3L236.4 210.3L236.9 210.1L237.6 209.8L238.0 209.4L238.2 208.9L238.9 207.1L238.9 206.4L238.7 205.8L238.2 205.3L236.6 204.3L236.1 204.1L235.6 204.1L233.5 204.4Z" fill="#ede5ec"/>
<path d="M247.3 207.8L247.2 207.2L246.9 206.7L246.4 206.4L243.4 204.9L243.0 204.7L242.5 204.7L242.0 204.9L240.5 205.7L240.1 206.1L239.9 206.6L239.2 208.7L239.1 209.2L239.2 209.8L239.6 210.3L240.7 211.2L241.2 211.5L241.7 211.6L242.3 211.5L246.3 209.8L246.8 209.5L247.1 209.0L247.2 208.5L247.3 207.8Z" fill="#efe7ee"/>
<path d="M252.9 211.8L253.4 211.3L253.6 210.6L253.6 207.5L253.5 206.9L253.1 206.4L252.6 206.1L252.0 206.0L249.7 206.2L249.1 206.3L248.9 206.4L248.5 206.8L248.2 207.2L248.1 207.7L248.0 209.3L248.1 209.9L249.1 212.2L249.4 212.7L249.8 213.0L250.3 213.2L250.8 213.1L251.3 212.9L252.9 211.8Z" fill="#ede5ec"/>
<path d="M256.4 205.3L255.8 205.2L255.3 205.4L254.8 205.7L254.5 206.1L254.4 206.7L254.4 210.1L254.5 210.8L254.9 211.3L255.5 211.6L256.5 211.9L257.1 211.9L257.6 211.7L258.0 211.3L258.3 210.8L258.4 210.2L257.9 206.7L257.7 206.2L257.4 205.7L256.9 205.4L256.4 205.3Z" fill="#e8e0e7"/>
<path d="M261.6 205.5L261.0 205.2L260.3 205.3L259.9 205.4L259.4 205.6L259.0 206.0L258.8 206.5L258.8 207.0L259.3 211.1L259.4 211.6L259.7 212.0L260.2 212.3L262.5 213.3L263.1 213.5L263.7 213.3L264.2 213.0L266.0 211.1L266.3 210.6L266.4 210.1L266.4 209.6L266.3 209.4L266.1 209.0L265.8 208.6L261.6 205.5Z" fill="#e9e1e8"/>
<path d="M199.2 216.7L199.8 216.6L200.4 216.3L200.8 215.9L200.9 215.3L201.1 212.4L200.9 211.7L200.5 211.2L200.4 211.0L199.9 210.8L199.3 210.7L198.8 210.8L198.3 211.1L195.7 213.8L195.4 214.3L195.2 214.8L195.3 215.4L195.6 215.9L196.0 216.2L196.6 216.4L199.2 216.7Z" fill="#eae2e9"/>
<path d="M206.2 216.7L206.8 216.6L207.3 216.3L207.6 215.8L207.7 215.2L207.7 214.4L207.5 213.8L207.1 213.3L204.5 211.4L204.0 211.2L203.5 211.2L203.0 211.3L202.8 211.4L202.3 211.7L202.0 212.2L201.8 212.7L201.7 215.0L201.8 215.6L202.1 216.1L202.6 216.4L203.1 216.6L206.2 216.7Z" fill="#ece4eb"/>
<path d="M208.6 216.1L208.7 216.6L209.0 217.0L209.5 217.3L210.0 217.5L210.5 217.4L214.4 216.2L215.0 215.9L215.4 215.4L215.5 214.7L215.4 211.8L215.2 211.2L214.9 210.8L213.9 209.9L213.3 209.5L212.0 209.2L211.4 209.2L210.8 209.5L210.4 210.0L208.6 213.2L208.5 214.0L208.6 216.1Z" fill="#eae2e9"/>
<path d="M218.3 210.8L217.7 210.7L217.1 210.8L216.6 211.2L216.3 211.7L216.2 212.3L216.3 214.6L216.4 215.2L216.7 215.6L217.1 215.9L217.6 216.1L218.2 216.0L221.6 215.1L222.2 214.9L222.5 214.4L222.7 213.8L222.6 213.2L222.3 212.7L221.8 212.3L218.3 210.8Z" fill="#ebe3ea"/>
<path d="M227.8 216.7L228.4 216.4L228.9 215.9L229.1 215.3L229.3 212.7L229.2 212.2L229.0 211.7L228.6 211.3L226.8 210.2L226.2 209.9L225.6 210.0L225.0 210.3L224.6 210.7L223.8 212.4L223.6 212.9L223.5 214.2L223.6 214.7L223.8 215.1L224.1 215.5L225.4 216.5L226.0 216.8L226.6 216.8L227.8 216.7Z" fill="#eae2e9"/>
<path d="M230.8 217.3L231.5 217.6L232.1 217.5L234.2 216.8L234.7 216.6L235.0 216.2L235.2 215.6L235.8 212.5L235.8 212.0L235.5 211.4L235.2 211.0L234.7 210.8L233.4 210.5L232.8 210.5L232.3 210.6L230.8 211.5L230.4 211.8L230.2 212.2L230.1 212.6L229.8 215.7L229.9 216.3L230.1 216.7L230.5 217.1L230.8 217.3Z" fill="#f1e9f0"/>
<path d="M236.0 215.6L236.1 216.2L236.3 216.8L236.8 217.2L238.8 218.3L239.3 218.5L239.8 218.5L240.3 218.3L240.7 217.9L241.7 216.7L241.9 216.0L241.9 215.3L241.1 213.0L240.7 212.3L239.2 210.9L238.6 210.6L238.0 210.6L237.4 210.8L236.9 211.2L236.7 211.8L236.0 215.6Z" fill="#e7dfe6"/>
<path d="M248.0 211.6L247.6 211.1L247.2 210.8L246.6 210.7L246.0 210.8L243.1 212.0L242.6 212.3L242.3 212.8L242.2 213.3L242.3 213.9L242.5 214.6L242.8 215.1L243.4 215.5L244.0 215.6L247.3 215.4L247.9 215.2L247.9 215.2L248.3 214.9L248.6 214.4L248.7 213.8L248.6 213.3L248.0 211.6Z" fill="#e7dfe6"/>
<path d="M251.4 213.8L250.9 214.3L250.7 214.9L250.8 215.5L251.1 216.0L252.5 217.6L252.9 218.0L253.5 218.1L254.0 218.1L254.5 217.8L254.9 217.4L256.4 214.6L256.6 214.1L256.6 213.5L256.4 213.0L256.0 212.7L255.5 212.4L254.7 212.2L254.0 212.2L253.4 212.4L251.4 213.8Z" fill="#ece4eb"/>
<path d="M256.2 216.6L256.1 217.2L256.1 217.7L256.4 218.3L256.8 218.6L257.3 218.8L257.8 218.9L258.4 218.8L258.9 218.6L261.8 216.3L262.2 215.8L262.4 215.2L262.3 214.6L262.0 214.1L261.5 213.8L259.7 213.0L259.2 212.9L258.7 213.0L258.2 213.2L257.8 213.7L256.2 216.6Z" fill="#f2eaf1"/>
<path d="M264.4 213.9L264.1 214.5L264.0 215.1L264.3 215.7L264.9 216.8L265.3 217.3L265.8 217.5L266.4 217.6L270.4 217.0L270.9 216.8L271.3 216.4L271.6 215.9L271.6 215.3L271.4 214.8L269.9 212.1L269.5 211.7L269.0 211.5L268.0 211.2L267.5 211.2L267.0 211.3L266.6 211.7L264.4 213.9Z" fill="#ece4eb"/>
<path d="M202.7 217.3L202.1 217.4L201.6 217.8L201.2 218.3L201.1 218.9L201.2 222.2L201.3 222.8L201.6 223.3L202.2 223.6L202.8 223.7L203.3 223.5L203.8 223.1L206.4 219.9L206.7 219.4L206.7 218.9L206.6 218.4L206.3 217.9L205.8 217.6L205.3 217.5L202.7 217.3Z" fill="#eee6ed"/>
<path d="M209.7 221.0L209.5 220.5L209.1 220.1L208.6 219.8L208.1 219.8L207.5 220.0L207.1 220.3L205.0 223.0L204.7 223.5L204.7 224.2L204.9 224.8L205.4 225.2L207.4 226.3L207.9 226.5L208.5 226.5L209.0 226.2L209.4 225.8L210.1 224.7L210.3 224.2L210.3 223.7L209.7 221.0Z" fill="#eee6ed"/>
<path d="M216.8 217.9L216.5 217.4L216.1 217.0L215.5 216.8L214.9 216.9L211.3 218.0L210.8 218.2L210.5 218.6L210.3 219.2L210.3 219.7L210.9 222.7L211.2 223.3L211.7 223.8L212.3 223.9L214.2 223.9L214.9 223.8L215.4 223.4L217.1 221.3L217.4 220.8L217.5 220.4L217.4 219.9L216.8 217.9Z" fill="#f0e8ef"/>
<path d="M221.6 222.4L222.2 222.6L222.8 222.5L223.4 222.2L223.7 221.6L225.0 218.5L225.1 217.9L224.9 217.3L224.5 216.8L223.5 216.1L222.9 215.8L222.2 215.8L218.9 216.7L218.3 216.9L218.0 217.4L217.8 218.0L217.8 218.6L218.3 219.9L218.5 220.4L218.9 220.7L221.6 222.4Z" fill="#f0e8ef"/>
<path d="M229.7 222.2L230.3 222.1L230.7 221.7L231.0 221.3L231.1 220.7L231.0 219.1L230.8 218.5L230.3 218.0L229.7 217.6L229.2 217.3L228.7 217.3L227.0 217.6L226.5 217.8L226.1 218.1L225.8 218.5L225.0 220.5L224.9 221.1L225.1 221.7L225.4 222.2L226.0 222.5L226.6 222.6L229.7 222.2Z" fill="#e9e1e8"/>
<path d="M231.9 220.9L232.0 221.4L232.2 221.9L232.6 222.2L236.1 224.1L236.7 224.3L237.3 224.2L239.1 223.5L239.6 223.2L239.9 222.8L240.1 222.3L240.1 221.8L239.8 220.4L239.6 219.9L239.1 219.4L236.0 217.6L235.4 217.4L234.7 217.5L232.9 218.1L232.3 218.4L231.9 218.9L231.8 219.6L231.9 220.9Z" fill="#e6dee5"/>
<path d="M240.9 221.6L241.2 222.3L241.7 222.7L242.4 222.8L244.0 222.8L244.6 222.7L245.1 222.3L245.4 221.8L246.5 218.3L246.6 217.7L246.4 217.1L246.0 216.7L245.5 216.4L245.0 216.3L243.5 216.5L242.8 216.6L242.4 217.1L240.9 219.1L240.6 219.6L240.6 220.3L240.9 221.6Z" fill="#ece4eb"/>
<path d="M250.3 216.4L249.8 216.0L249.2 215.9L248.6 216.0L248.1 216.4L247.8 216.9L246.3 221.7L246.2 222.2L246.4 222.8L246.7 223.2L247.2 223.5L249.0 224.2L249.6 224.3L250.1 224.2L250.6 223.9L251.7 222.8L252.1 222.2L252.7 220.1L252.7 219.4L252.4 218.7L250.3 216.4Z" fill="#efe7ee"/>
<path d="M255.1 219.3L254.5 219.3L254.0 219.6L253.7 219.9L253.4 220.4L253.1 221.4L253.1 222.1L253.4 222.7L253.9 223.1L256.7 224.7L257.1 224.8L257.6 224.9L258.7 224.7L259.2 224.5L259.6 224.1L259.9 223.6L259.9 223.0L259.8 222.5L258.6 220.4L258.2 219.9L257.5 219.7L255.1 219.3Z" fill="#efe7ee"/>
<path d="M260.0 218.7L259.7 219.1L259.5 219.6L259.5 220.1L259.7 220.6L261.2 223.5L261.6 224.0L262.1 224.3L262.6 224.3L263.2 224.2L264.6 223.6L265.1 223.2L265.4 222.6L265.4 222.0L264.9 218.5L264.7 218.0L264.4 217.5L263.9 217.0L263.3 216.8L262.7 216.8L262.2 217.1L260.0 218.7Z" fill="#eee6ed"/>
<path d="M200.5 226.2L200.4 225.6L200.0 225.1L199.5 224.7L198.9 224.7L193.6 225.0L193.0 225.2L192.6 225.5L192.3 226.0L192.2 226.6L192.3 227.1L192.6 227.6L193.1 227.9L197.1 229.7L197.6 229.8L198.2 229.7L198.6 229.5L199.9 228.5L200.2 228.0L200.4 227.4L200.5 226.2Z" fill="#e8e0e7"/>
<path d="M203.5 225.0L202.9 224.8L202.3 224.9L201.8 225.2L201.4 225.7L201.3 226.2L201.2 227.4L201.3 228.0L201.6 228.6L204.3 231.3L204.7 231.6L205.3 231.7L205.9 231.6L206.4 231.3L207.9 229.7L208.2 229.2L208.4 228.7L208.3 228.2L208.0 227.7L207.6 227.3L203.5 225.0Z" fill="#eae2e9"/>
<path d="M212.9 230.9L213.4 231.1L213.9 231.0L214.4 230.8L216.1 229.8L216.5 229.4L216.8 228.9L216.8 228.3L216.6 227.7L215.3 225.5L215.0 225.1L214.5 224.8L214.0 224.7L211.9 224.7L211.4 224.8L210.9 225.1L210.6 225.4L209.5 227.2L209.3 227.7L209.3 228.2L209.3 228.2L209.4 228.7L209.7 229.1L210.0 229.4L212.9 230.9Z" fill="#f1e9f0"/>
<path d="M219.4 228.8L220.0 228.7L221.8 228.1L222.3 227.7L222.7 227.2L222.8 226.6L222.7 224.8L222.5 224.1L222.0 223.6L219.3 221.9L218.8 221.7L218.3 221.7L217.8 221.9L217.4 222.3L216.3 223.6L216.0 224.1L215.9 224.7L216.1 225.3L217.7 228.0L218.0 228.4L218.5 228.7L218.9 228.8L219.4 228.8Z" fill="#eee6ed"/>
<path d="M223.6 226.2L223.7 226.8L224.1 227.2L224.6 227.5L225.2 227.6L228.2 227.4L228.8 227.3L229.3 226.9L229.5 226.4L229.9 225.1L230.0 224.5L229.8 224.0L229.4 223.5L228.9 223.2L228.3 223.2L224.9 223.5L224.3 223.7L223.9 224.0L223.6 224.5L223.5 225.1L223.6 226.2Z" fill="#ece4eb"/>
<path d="M233.1 223.4L232.6 223.2L232.1 223.2L231.6 223.4L231.2 223.8L231.0 224.3L230.3 226.6L230.2 227.2L230.4 227.8L230.8 228.2L231.9 229.0L232.5 229.3L233.1 229.3L233.7 229.1L234.1 228.6L235.4 226.3L235.5 225.8L235.5 225.2L235.2 224.7L234.8 224.3L233.1 223.4Z" fill="#eae2e9"/>
<path d="M235.3 228.2L235.1 228.7L235.1 229.3L235.4 229.8L235.8 230.2L236.4 230.4L238.0 230.6L238.6 230.5L239.1 230.2L239.5 229.8L240.7 227.4L240.8 227.0L240.8 226.5L240.7 225.7L240.5 225.1L240.0 224.6L239.4 224.4L238.7 224.5L237.4 225.0L237.0 225.2L236.6 225.7L235.3 228.2Z" fill="#ede5ec"/>
<path d="M243.0 223.6L242.3 223.8L241.8 224.2L241.5 224.8L241.5 225.4L241.6 226.4L241.8 226.8L242.1 227.2L244.4 229.4L244.9 229.7L245.6 229.8L246.2 229.6L248.9 228.0L249.3 227.6L249.5 227.2L249.6 226.7L249.6 226.3L249.5 225.8L249.2 225.3L248.7 225.0L245.6 223.8L245.0 223.7L243.0 223.6Z" fill="#f1e9f0"/>
<path d="M253.4 223.8L252.8 223.6L252.2 223.7L251.6 224.0L250.9 224.8L250.5 225.3L250.4 225.9L250.4 227.2L250.5 227.6L250.7 228.0L252.3 230.2L252.7 230.6L253.2 230.8L253.8 230.8L254.4 230.5L255.4 229.7L255.8 229.3L256.0 228.8L256.4 226.6L256.4 226.0L256.1 225.4L255.7 225.0L253.4 223.8Z" fill="#e6dee5"/>
<path d="M261.6 227.0L261.6 226.4L261.3 225.9L260.9 225.5L260.4 225.3L259.9 225.3L258.4 225.5L257.9 225.7L257.4 226.2L257.2 226.8L257.1 227.5L257.1 228.1L257.4 228.7L257.9 229.1L258.5 229.3L259.7 229.3L260.2 229.2L260.7 228.9L261.1 228.5L261.4 227.9L261.6 227.3L261.6 227.0Z" fill="#e9e1e8"/>
<path d="M262.4 226.7L262.5 227.2L262.7 227.7L263.1 228.1L266.0 230.1L266.6 230.4L267.2 230.4L267.8 230.1L267.8 230.1L268.2 229.6L268.3 229.1L268.3 228.6L267.5 225.1L267.2 224.5L266.7 224.1L266.0 224.0L265.4 224.1L263.4 225.0L262.9 225.3L262.6 225.7L262.5 226.2L262.4 226.7Z" fill="#eee6ed"/>
<path d="M199.2 230.1L198.8 230.5L198.6 231.0L198.7 231.6L199.3 234.2L199.5 234.7L199.9 235.1L200.4 235.3L201.2 235.5L201.7 235.5L202.2 235.3L202.6 235.0L203.7 233.9L204.0 233.4L204.1 232.8L204.0 232.3L203.7 231.8L201.7 229.8L201.2 229.5L200.7 229.3L200.2 229.4L199.7 229.7L199.2 230.1Z" fill="#efe7ee"/>
<path d="M212.2 236.3L212.8 236.1L213.3 235.8L213.6 235.2L213.6 234.6L213.4 232.8L213.1 232.1L212.6 231.7L210.0 230.3L209.4 230.1L208.8 230.2L208.2 230.5L207.1 231.6L206.8 232.1L206.7 232.7L206.8 233.2L207.1 233.7L209.1 235.8L209.6 236.2L210.2 236.3L212.2 236.3Z" fill="#e6dee5"/>
<path d="M218.3 236.8L218.7 236.5L219.0 236.0L219.1 235.5L219.3 231.5L219.2 231.0L218.9 230.5L218.5 230.2L218.0 230.0L217.5 230.0L217.0 230.2L214.9 231.5L214.5 231.8L214.3 232.4L214.2 232.9L214.7 236.1L214.9 236.8L215.0 237.0L215.4 237.3L215.9 237.5L216.4 237.6L216.9 237.4L218.3 236.8Z" fill="#e9e1e8"/>
<path d="M220.0 233.4L220.1 234.0L220.4 234.5L220.8 234.8L221.3 235.0L221.9 234.9L222.4 234.7L223.8 233.6L224.2 233.1L224.4 232.5L224.3 231.9L223.6 229.9L223.3 229.4L222.9 229.0L222.3 228.9L221.7 228.9L221.1 229.2L220.6 229.5L220.2 229.9L220.1 230.5L220.0 233.4Z" fill="#f1e9f0"/>
<path d="M231.8 232.9L232.3 232.4L232.6 231.8L232.7 231.7L232.7 231.1L232.5 230.6L232.1 230.2L229.9 228.5L229.4 228.3L228.9 228.2L225.9 228.4L225.4 228.5L225.0 228.8L224.7 229.3L224.6 229.8L224.6 230.3L225.3 232.5L225.7 233.1L226.9 234.2L227.4 234.5L228.0 234.6L228.6 234.4L231.8 232.9Z" fill="#ebe3ea"/>
<path d="M235.1 231.0L234.5 231.1L234.0 231.3L233.6 231.7L233.4 232.3L233.4 232.8L233.6 233.3L234.4 234.5L234.8 234.9L235.2 235.1L235.7 235.2L236.2 235.1L238.3 234.2L238.8 233.9L239.1 233.5L239.2 232.9L239.1 232.4L238.9 231.9L238.4 231.5L237.9 231.3L235.1 231.0Z" fill="#e9e1e8"/>
<path d="M240.0 230.4L239.9 230.8L239.9 231.3L240.1 231.8L240.7 233.0L241.3 233.6L241.9 233.9L242.4 234.1L243.0 234.1L243.5 233.9L243.9 233.5L244.1 233.0L244.5 231.6L244.5 231.1L244.4 230.6L244.1 230.2L242.9 229.1L242.4 228.8L241.9 228.6L241.3 228.7L240.9 229.0L240.5 229.4L240.0 230.4Z" fill="#f1e9f0"/>
<path d="M244.8 233.7L244.7 234.3L244.9 234.8L245.3 235.3L245.8 235.5L247.7 236.0L248.2 236.1L248.7 235.9L251.9 234.4L252.4 234.1L252.7 233.6L252.7 233.0L252.7 232.5L252.4 231.8L250.7 229.4L250.3 229.0L249.8 228.8L249.3 228.8L248.7 229.0L246.0 230.6L245.6 231.0L245.3 231.5L244.8 233.7Z" fill="#e6dee5"/>
<path d="M255.6 230.6L255.2 231.1L255.0 231.7L255.0 232.3L255.3 232.8L255.8 233.2L256.4 233.3L259.1 233.5L259.8 233.4L260.3 233.0L260.6 232.5L260.7 231.8L260.6 231.4L260.5 230.9L260.2 230.5L259.7 230.2L259.2 230.1L256.9 230.0L256.4 230.1L256.0 230.3L255.6 230.6Z" fill="#ede5ec"/>
<path d="M263.8 229.5L263.2 229.3L262.7 229.3L262.1 229.5L261.7 229.9L261.4 230.4L261.4 230.9L261.7 233.4L261.8 233.8L262.1 234.2L262.6 234.8L263.1 235.2L263.7 235.3L264.2 235.2L264.8 234.9L265.1 234.4L265.9 232.6L266.1 231.9L265.9 231.3L265.4 230.7L263.8 229.5Z" fill="#f1e9f0"/>
<ellipse cx="230.6" cy="199.7" rx="1.03" ry="0.58" fill="#7a7090"/>
<ellipse cx="238.4" cy="209.7" rx="0.61" ry="0.83" fill="#7a7090"/>
<ellipse cx="240.1" cy="219.5" rx="0.74" ry="0.89" fill="#7a7090"/>
<ellipse cx="209.0" cy="229.2" rx="0.98" ry="0.68" fill="#7a7090"/>
<ellipse cx="222.7" cy="204.9" rx="0.62" ry="0.81" fill="#7a7090"/>
<ellipse cx="253.3" cy="219.2" rx="0.78" ry="0.73" fill="#7a7090"/>
<rect x="202.2" y="185" width="59" height="44.6" fill="url(#tg1)"/>
</g></g>
<clipPath id="clip14"><rect x="264.7" y="185.2" width="58.6" height="44.3"/></clipPath>
<g clip-path="url(#clip14)"><g filter="url(#hb)">
<rect x="264.7" y="185.2" width="58.6" height="44.3" fill="#c4bec8"/>
<path d="M288.8 178.2L289.5 177.3L289.7 176.2L289.5 175.1L287.9 170.8L287.3 169.9L286.4 169.3L285.3 169.0L284.2 169.2L283.3 169.8L278.8 173.9L278.1 174.9L277.8 176.0L278.0 177.1L278.7 178.1L279.6 178.7L284.0 180.4L285.1 180.6L286.1 180.4L287.0 179.8L288.8 178.2Z" fill="#f3e5ed"/>
<path d="M261.9 185.1L261.8 186.4L262.3 187.7L265.8 192.4L266.6 193.1L267.6 193.5L268.6 193.5L269.5 193.2L273.6 190.9L274.4 190.2L274.9 189.3L275.0 188.3L274.8 187.3L271.8 180.1L271.2 179.2L270.3 178.6L270.0 178.5L269.0 178.3L268.0 178.4L267.2 178.9L263.4 181.8L262.8 182.4L262.5 183.2L261.9 185.1Z" fill="#f3e5ed"/>
<path d="M277.0 178.3L275.9 178.1L274.8 178.3L273.9 179.0L273.3 179.9L273.1 181.0L273.3 182.1L276.0 188.5L276.6 189.4L277.4 190.0L278.4 190.4L279.5 190.7L280.7 190.5L281.6 189.9L282.3 188.9L284.2 184.3L284.5 183.2L284.2 182.1L283.6 181.1L282.6 180.5L277.0 178.3Z" fill="#eddfe7"/>
<path d="M283.1 188.4L282.9 189.5L283.2 190.7L283.8 191.6L284.8 192.2L286.4 192.8L287.4 192.9L288.4 192.7L289.2 192.2L295.8 186.2L296.6 185.1L296.7 183.7L296.6 182.5L296.2 181.3L295.3 180.4L292.5 178.6L291.3 178.1L290.1 178.2L289.0 178.9L286.5 181.2L285.8 182.2L283.1 188.4Z" fill="#efe1e9"/>
<path d="M303.7 190.1L304.8 190.6L306.1 190.6L308.6 190.1L309.5 189.7L310.3 189.0L310.7 188.0L312.3 182.1L312.4 181.1L312.2 180.2L311.6 179.4L310.7 178.8L305.8 176.5L304.8 176.3L303.8 176.4L302.9 176.8L298.4 180.1L297.7 180.9L297.3 181.8L297.2 182.8L297.4 184.0L297.7 185.1L298.4 185.9L303.7 190.1Z" fill="#f2e4ec"/>
<path d="M311.3 188.0L311.2 189.1L311.6 190.2L312.3 191.0L312.7 191.4L313.8 191.9L314.9 192.0L316.0 191.6L321.1 188.6L321.9 188.0L322.4 187.1L322.6 186.2L322.4 185.2L320.4 179.9L319.8 178.9L318.8 178.2L317.6 178.0L316.4 178.3L314.7 179.3L313.8 180.0L313.2 181.0L311.3 188.0Z" fill="#eddfe7"/>
<path d="M324.4 178.5L323.4 178.7L322.6 179.4L322.0 180.2L321.8 181.3L322.0 182.3L323.5 186.4L324.0 187.2L324.8 187.9L330.3 190.9L331.5 191.3L332.8 191.0L335.0 190.1L336.0 189.3L336.6 188.3L336.7 187.1L336.1 181.1L335.7 179.9L334.8 179.0L333.9 178.4L333.1 178.0L332.1 177.9L324.4 178.5Z" fill="#f1e3eb"/>
<path d="M250.0 199.4L251.2 199.6L263.7 198.3L264.7 198.0L265.5 197.5L266.0 196.7L266.2 196.4L266.4 195.4L266.3 194.4L265.9 193.4L262.5 189.0L261.8 188.3L260.8 187.9L259.8 187.9L258.8 188.2L248.7 194.0L247.8 194.7L247.3 195.6L247.2 196.7L247.5 197.8L248.2 198.6L249.2 199.1L250.0 199.4Z" fill="#f1e3eb"/>
<path d="M279.3 194.0L279.3 192.7L278.8 191.6L277.7 190.8L277.5 190.7L276.2 190.4L274.9 190.8L268.3 194.6L267.6 195.1L267.1 195.8L266.5 197.1L266.2 198.4L266.6 199.7L267.2 200.8L268.0 201.7L269.0 202.2L270.2 202.2L275.9 201.3L276.9 200.9L277.7 200.1L278.2 199.1L279.3 194.0Z" fill="#f3e5ed"/>
<path d="M283.6 192.4L282.4 192.3L281.2 192.6L280.3 193.4L279.8 194.5L278.5 200.3L278.5 201.2L278.7 202.1L280.7 206.4L281.5 207.4L282.6 208.0L283.9 208.0L285.9 207.6L286.8 207.2L287.5 206.6L288.0 205.8L290.1 200.2L290.3 199.0L290.0 197.8L288.4 194.9L287.7 194.0L286.8 193.5L283.6 192.4Z" fill="#f0e2ea"/>
<path d="M298.7 199.7L300.0 199.5L301.1 198.9L301.8 197.9L303.6 193.3L303.8 192.2L303.5 191.0L302.7 190.1L299.2 187.2L298.3 186.8L297.3 186.6L296.3 186.8L295.5 187.4L290.1 192.2L289.4 193.2L289.2 194.5L289.5 195.7L290.4 197.4L291.3 198.4L292.6 198.8L298.7 199.7Z" fill="#eee0e8"/>
<path d="M302.3 198.2L302.1 199.3L302.3 200.4L303.0 201.4L306.9 205.0L308.0 205.6L309.2 205.7L310.4 205.3L315.4 202.0L316.1 201.3L316.6 200.4L316.7 199.4L316.4 198.4L314.3 193.8L313.5 192.8L311.5 191.1L310.3 190.6L309.1 190.6L306.4 191.2L305.2 191.8L304.4 192.9L302.3 198.2Z" fill="#eee0e8"/>
<path d="M316.9 191.8L316.1 192.5L315.6 193.4L315.5 194.5L315.7 195.5L317.5 199.4L318.2 200.3L319.3 200.9L321.9 201.8L323.0 201.9L324.1 201.6L324.2 201.5L325.2 200.6L329.3 194.7L329.7 193.6L329.7 192.4L329.2 191.3L328.3 190.5L325.0 188.7L324.1 188.4L323.1 188.4L322.2 188.7L316.9 191.8Z" fill="#eddfe7"/>
<path d="M333.4 205.0L334.4 205.3L335.4 205.2L336.3 204.8L339.7 202.4L340.5 201.4L340.9 200.2L340.7 199.0L338.3 192.6L337.6 191.6L336.7 191.0L335.6 190.7L334.4 191.0L332.4 191.9L331.2 192.9L327.4 198.5L326.9 199.6L327.0 200.9L327.5 201.9L328.5 202.7L333.4 205.0Z" fill="#f0e2ea"/>
<path d="M261.7 212.5L262.7 212.9L263.8 212.9L264.8 212.4L266.5 211.3L267.4 210.3L267.8 208.9L267.7 203.7L267.4 202.3L266.3 200.4L265.6 199.5L264.6 199.0L263.5 198.9L256.5 199.6L255.6 199.9L254.7 200.5L254.2 201.4L254.0 202.4L254.1 203.4L254.6 204.3L261.0 211.9L261.6 212.4L261.7 212.5Z" fill="#f3e5ed"/>
<path d="M278.8 203.6L278.0 202.6L276.9 202.0L275.7 201.9L270.8 202.7L269.8 203.1L269.0 203.7L268.5 204.6L268.4 205.6L268.4 208.2L268.6 209.4L269.4 210.4L270.5 211.0L275.9 212.4L277.0 212.5L278.0 212.2L278.9 211.5L280.0 210.2L280.5 209.2L280.7 208.1L280.4 207.1L278.8 203.6Z" fill="#f3e5ed"/>
<path d="M298.6 204.0L298.9 203.0L298.7 201.9L298.2 201.0L297.4 200.3L296.4 200.0L293.4 199.6L292.1 199.7L291.0 200.3L290.3 201.4L288.7 205.6L288.5 206.7L288.8 207.8L289.4 208.8L290.5 209.7L291.4 210.3L292.4 210.5L293.7 210.5L294.8 210.3L295.7 209.7L296.3 208.9L298.6 204.0Z" fill="#f3e5ed"/>
<path d="M303.9 203.0L303.0 202.4L301.9 202.2L300.9 202.4L300.0 203.0L299.3 203.9L297.2 208.3L297.0 209.4L297.1 210.4L297.6 211.3L298.3 212.0L301.6 214.0L302.7 214.4L303.9 214.3L304.9 213.7L306.7 212.2L307.4 211.4L307.7 210.3L308.0 208.4L307.8 207.1L307.1 206.0L303.9 203.0Z" fill="#f0e2ea"/>
<path d="M309.9 206.3L309.0 207.2L308.6 208.3L308.4 209.6L308.5 210.7L309.0 211.7L309.8 212.4L314.9 215.6L315.9 215.9L316.9 215.9L317.9 215.6L318.7 214.9L322.5 210.1L323.0 209.2L323.2 208.1L322.9 204.6L322.6 203.5L321.9 202.6L320.9 202.1L319.2 201.5L317.9 201.4L316.8 201.9L309.9 206.3Z" fill="#f3e5ed"/>
<path d="M327.7 203.0L326.5 202.7L325.3 202.9L324.4 203.6L323.8 204.6L323.6 205.7L323.7 208.0L324.1 209.1L324.8 209.9L329.1 213.6L330.1 214.1L331.1 214.2L332.2 214.0L333.4 213.4L334.3 212.7L334.9 211.7L335.0 210.6L334.8 207.9L334.5 206.9L334.0 206.1L333.2 205.6L327.7 203.0Z" fill="#eee0e8"/>
<path d="M262.6 216.4L262.5 215.3L262.1 214.3L261.3 213.5L260.2 213.1L259.1 213.2L251.6 214.8L250.5 215.3L249.7 216.1L249.4 217.2L249.4 218.4L249.9 219.4L250.8 220.1L256.8 223.4L257.8 223.7L258.8 223.6L259.8 223.3L260.5 222.6L261.5 221.3L262.0 220.0L262.6 216.4Z" fill="#f1e3eb"/>
<path d="M264.6 213.3L263.8 214.2L263.4 215.3L262.9 217.9L263.0 219.0L263.4 220.0L264.2 220.7L265.1 221.2L274.6 223.3L275.9 223.3L277.0 222.8L277.7 222.3L278.4 221.5L278.8 220.5L278.8 219.4L277.9 215.2L277.5 214.2L276.8 213.5L275.8 213.0L269.4 211.3L268.2 211.2L267.0 211.7L264.6 213.3Z" fill="#f3e5ed"/>
<path d="M288.6 208.8L287.5 208.2L286.1 208.2L282.7 208.9L281.8 209.2L281.0 209.8L279.0 212.3L278.4 213.4L278.4 214.7L279.4 219.6L280.0 220.9L281.1 221.7L283.1 222.5L284.3 222.8L287.3 222.6L288.3 222.4L289.2 221.8L289.8 221.0L290.0 220.0L290.8 212.3L290.6 211.0L289.9 209.9L288.6 208.8Z" fill="#f3e5ed"/>
<path d="M296.3 211.5L294.9 211.1L294.1 211.1L293.1 211.3L292.2 211.8L291.5 212.7L291.2 213.7L290.6 220.8L290.7 221.9L291.2 222.8L292.0 223.6L293.8 224.5L294.6 224.8L295.6 224.9L296.5 224.6L300.3 222.5L301.2 221.7L301.7 220.7L302.5 217.6L302.6 216.4L302.1 215.3L301.2 214.4L296.3 211.5Z" fill="#f3e5ed"/>
<path d="M309.7 213.0L308.5 212.7L307.4 212.7L306.3 213.3L304.3 215.0L303.8 215.6L303.4 216.5L302.5 220.0L302.5 221.2L302.9 222.3L303.7 223.1L311.1 227.9L312.1 228.3L313.3 228.3L314.3 227.8L317.0 226.0L317.8 225.2L318.2 224.1L318.2 223.0L317.2 218.6L316.7 217.6L315.9 216.8L309.7 213.0Z" fill="#efe1e9"/>
<path d="M329.8 216.9L329.8 215.9L329.5 214.9L328.8 214.1L325.8 211.6L324.8 211.1L323.7 211.0L322.6 211.3L321.8 212.0L318.3 216.2L317.8 217.4L317.8 218.7L318.8 223.0L319.2 223.9L320.0 224.7L321.0 225.1L321.4 225.2L322.3 225.2L323.3 224.9L327.6 222.6L328.5 221.8L329.0 220.7L329.8 216.9Z" fill="#efe1e9"/>
<path d="M332.0 214.7L331.0 215.5L330.5 216.7L329.8 219.7L329.8 220.7L330.1 221.6L330.7 222.4L331.5 222.9L335.9 224.7L336.9 224.9L338.0 224.8L338.9 224.2L339.5 223.4L339.8 222.3L340.3 217.1L340.2 215.9L339.5 214.9L338.5 214.2L336.7 213.5L335.5 213.3L334.4 213.6L332.0 214.7Z" fill="#f0e2ea"/>
<path d="M264.1 221.5L263.0 221.5L262.0 221.9L261.2 222.6L260.0 224.3L259.5 225.1L259.4 226.0L259.4 226.6L259.6 227.8L260.4 228.8L267.7 234.9L268.6 235.4L269.7 235.5L270.8 235.2L271.7 234.6L272.2 233.6L274.5 227.2L274.7 226.0L274.3 224.8L273.5 223.9L272.5 223.4L264.1 221.5Z" fill="#f3e5ed"/>
<path d="M273.3 232.4L273.1 233.6L273.5 234.7L274.3 235.6L275.3 236.1L276.5 236.1L280.7 235.3L281.9 234.8L282.7 233.8L283.0 232.6L283.2 225.2L283.0 224.1L282.4 223.2L281.5 222.5L281.0 222.3L280.1 222.1L279.1 222.2L278.2 222.7L276.9 223.6L276.0 224.9L273.3 232.4Z" fill="#eee0e8"/>
<path d="M283.6 233.2L283.8 234.2L284.3 235.1L285.2 235.8L287.9 237.2L289.2 237.5L290.4 237.2L293.0 236.0L293.9 235.4L294.5 234.5L294.7 233.5L294.8 227.5L294.6 226.5L294.1 225.6L293.3 225.0L290.7 223.5L289.2 223.1L286.6 223.3L285.5 223.5L284.6 224.1L284.0 225.0L283.8 226.0L283.6 233.2Z" fill="#f2e4ec"/>
<path d="M298.1 237.3L299.1 237.8L300.2 237.8L301.3 237.3L309.2 232.1L310.0 231.3L310.4 230.3L310.4 229.2L310.0 228.1L309.2 227.3L303.1 223.4L302.2 223.0L301.2 222.9L300.2 223.3L296.9 225.0L296.1 225.6L295.6 226.5L295.4 227.5L295.3 233.8L295.6 235.2L296.5 236.2L298.1 237.3Z" fill="#eee0e8"/>
<path d="M314.4 228.5L313.5 229.4L313.1 230.5L313.2 231.7L314.1 234.6L314.6 235.6L315.5 236.3L316.5 236.6L323.4 237.4L324.4 237.3L325.3 236.8L326.1 236.1L326.5 235.1L326.5 234.1L326.2 233.1L322.9 227.1L322.0 226.2L320.9 225.7L320.2 225.6L319.1 225.6L318.0 226.0L314.4 228.5Z" fill="#efe1e9"/>
<path d="M330.3 223.0L329.0 222.8L327.8 223.2L325.4 224.5L324.5 225.2L324.0 226.2L323.9 227.3L324.2 228.4L327.8 234.8L328.5 235.6L329.4 236.1L330.4 236.3L332.6 236.2L333.7 236.0L334.6 235.3L335.2 234.3L337.1 228.8L337.3 227.7L337.0 226.7L336.4 225.8L335.5 225.2L330.3 223.0Z" fill="#f0e2ea"/>
<path d="M277.9 236.5L276.9 236.9L276.2 237.6L275.7 238.6L275.7 239.7L276.0 240.7L280.4 248.4L281.1 249.2L282.0 249.7L283.1 249.8L284.2 249.5L285.0 248.8L285.6 247.9L288.0 240.6L288.1 239.6L287.9 238.6L287.4 237.8L286.6 237.2L284.1 235.9L283.2 235.6L282.3 235.6L277.9 236.5Z" fill="#eee0e8"/>
<ellipse cx="301.2" cy="200.1" rx="0.82" ry="0.70" fill="#8a8096"/>
<ellipse cx="297.2" cy="185.3" rx="0.97" ry="0.81" fill="#8a8096"/>
<ellipse cx="323.1" cy="202.5" rx="0.83" ry="0.59" fill="#8a8096"/>
<ellipse cx="276.2" cy="189.7" rx="1.05" ry="0.54" fill="#8a8096"/>
<ellipse cx="290.1" cy="222.8" rx="0.92" ry="0.62" fill="#8a8096"/>
<rect x="264.7" y="185.2" width="58.6" height="44.3" fill="url(#tg1)"/>
</g></g>
<line x1="248.00" y1="167.70" x2="258.80" y2="167.70" stroke="#000" stroke-width="1.5"/>
<line x1="310.00" y1="168.00" x2="320.80" y2="168.00" stroke="#000" stroke-width="1.5"/>
<line x1="247.80" y1="227.30" x2="258.60" y2="227.30" stroke="#000" stroke-width="1.5"/>
<line x1="310.00" y1="227.00" x2="320.80" y2="227.00" stroke="#000" stroke-width="1.5"/>
<text x="355.00" y="120.00" font-size="13.6" text-anchor="start" font-weight="bold" fill="#000">F</text>
<text x="394.60" y="115.60" font-size="7.3" text-anchor="start" font-weight="bold" fill="#000" textLength="72" lengthAdjust="spacingAndGlyphs">Mean adipocyte area</text>
<line x1="384.70" y1="137.70" x2="384.70" y2="207.50" stroke="#000" stroke-width="1.2"/>
<line x1="381.50" y1="207.50" x2="384.70" y2="207.50" stroke="#000" stroke-width="1.2"/>
<text x="382.10" y="207.10" font-size="6.15" text-anchor="end" dominant-baseline="central" fill="#000">0</text>
<line x1="381.50" y1="193.54" x2="384.70" y2="193.54" stroke="#000" stroke-width="1.2"/>
<text x="382.10" y="193.14" font-size="6.15" text-anchor="end" dominant-baseline="central" fill="#000">500</text>
<line x1="381.50" y1="179.58" x2="384.70" y2="179.58" stroke="#000" stroke-width="1.2"/>
<text x="382.10" y="179.18" font-size="6.15" text-anchor="end" dominant-baseline="central" fill="#000">1000</text>
<line x1="381.50" y1="165.62" x2="384.70" y2="165.62" stroke="#000" stroke-width="1.2"/>
<text x="382.10" y="165.22" font-size="6.15" text-anchor="end" dominant-baseline="central" fill="#000">1500</text>
<line x1="381.50" y1="151.66" x2="384.70" y2="151.66" stroke="#000" stroke-width="1.2"/>
<text x="382.10" y="151.26" font-size="6.15" text-anchor="end" dominant-baseline="central" fill="#000">2000</text>
<line x1="381.50" y1="137.70" x2="384.70" y2="137.70" stroke="#000" stroke-width="1.2"/>
<text x="382.10" y="137.30" font-size="6.15" text-anchor="end" dominant-baseline="central" fill="#000">2500</text>
<line x1="384.70" y1="207.50" x2="490.40" y2="207.50" stroke="#000" stroke-width="1.2"/>
<text x="360.3" y="173" font-size="6.4" text-anchor="middle" dominant-baseline="central" transform="rotate(-90 360.3 173)">&#956;m<tspan font-size="4.4" dy="-1.6">2</tspan></text>
<line x1="397.55" y1="180.20" x2="397.55" y2="179.20" stroke="#000" stroke-width="1.0"/>
<line x1="393.05" y1="179.20" x2="402.05" y2="179.20" stroke="#000" stroke-width="1.0"/>
<rect x="388.90" y="180.70" width="17.30" height="26.80" fill="#ffffff" stroke="#000" stroke-width="1.0"/>
<line x1="424.15" y1="156.30" x2="424.15" y2="151.50" stroke="#000" stroke-width="1.0"/>
<line x1="419.65" y1="151.50" x2="428.65" y2="151.50" stroke="#000" stroke-width="1.0"/>
<rect x="415.50" y="156.80" width="17.30" height="50.70" fill="#000000" stroke="#000" stroke-width="1.0"/>
<line x1="450.45" y1="169.00" x2="450.45" y2="166.50" stroke="#000" stroke-width="1.0"/>
<line x1="445.95" y1="166.50" x2="454.95" y2="166.50" stroke="#000" stroke-width="1.0"/>
<rect x="441.80" y="169.50" width="17.30" height="38.00" fill="#cccccc" stroke="#000" stroke-width="1.0"/>
<line x1="476.45" y1="151.70" x2="476.45" y2="146.30" stroke="#000" stroke-width="1.0"/>
<line x1="471.95" y1="146.30" x2="480.95" y2="146.30" stroke="#000" stroke-width="1.0"/>
<rect x="467.80" y="152.20" width="17.30" height="55.30" fill="#7f7f7f" stroke="#000" stroke-width="1.0"/>
<path d="M420.67 148.60h1.87M421.05 147.66l1.12 1.87M422.17 147.66l-1.12 1.87" stroke="#000" stroke-width="0.84" fill="none"/>
<path d="M423.26 148.60h1.87M423.64 147.66l1.12 1.87M424.76 147.66l-1.12 1.87" stroke="#000" stroke-width="0.84" fill="none"/>
<path d="M425.86 148.60h1.87M426.23 147.66l1.12 1.87M427.35 147.66l-1.12 1.87" stroke="#000" stroke-width="0.84" fill="none"/>
<path d="M446.67 162.90h1.87M447.05 161.96l1.12 1.87M448.17 161.96l-1.12 1.87" stroke="#000" stroke-width="0.84" fill="none"/>
<path d="M449.26 162.90h1.87M449.64 161.96l1.12 1.87M450.76 161.96l-1.12 1.87" stroke="#000" stroke-width="0.84" fill="none"/>
<path d="M451.86 162.90h1.87M452.23 161.96l1.12 1.87M453.35 161.96l-1.12 1.87" stroke="#000" stroke-width="0.84" fill="none"/>
<path d="M472.97 142.40h1.87M473.35 141.46l1.12 1.87M474.47 141.46l-1.12 1.87" stroke="#000" stroke-width="0.84" fill="none"/>
<path d="M475.56 142.40h1.87M475.94 141.46l1.12 1.87M477.06 141.46l-1.12 1.87" stroke="#000" stroke-width="0.84" fill="none"/>
<path d="M478.16 142.40h1.87M478.53 141.46l1.12 1.87M479.65 141.46l-1.12 1.87" stroke="#000" stroke-width="0.84" fill="none"/>
<text x="0.00" y="248.70" font-size="13.6" text-anchor="start" font-weight="bold" fill="#000">G</text>
<text x="29.30" y="254.00" font-size="7.3" text-anchor="start" font-weight="bold" fill="#000" textLength="77.5" lengthAdjust="spacingAndGlyphs">Fasting plasma insulin</text>
<line x1="26.80" y1="264.30" x2="26.80" y2="343.40" stroke="#000" stroke-width="1.2"/>
<line x1="23.60" y1="343.40" x2="26.80" y2="343.40" stroke="#000" stroke-width="1.2"/>
<text x="23.80" y="343.00" font-size="6.15" text-anchor="end" dominant-baseline="central" fill="#000">0</text>
<line x1="23.60" y1="323.62" x2="26.80" y2="323.62" stroke="#000" stroke-width="1.2"/>
<text x="23.80" y="323.22" font-size="6.15" text-anchor="end" dominant-baseline="central" fill="#000">500</text>
<line x1="23.60" y1="303.84" x2="26.80" y2="303.84" stroke="#000" stroke-width="1.2"/>
<text x="23.80" y="303.44" font-size="6.15" text-anchor="end" dominant-baseline="central" fill="#000">1000</text>
<line x1="23.60" y1="284.06" x2="26.80" y2="284.06" stroke="#000" stroke-width="1.2"/>
<text x="23.80" y="283.66" font-size="6.15" text-anchor="end" dominant-baseline="central" fill="#000">1500</text>
<line x1="23.60" y1="264.28" x2="26.80" y2="264.28" stroke="#000" stroke-width="1.2"/>
<text x="23.80" y="263.88" font-size="6.15" text-anchor="end" dominant-baseline="central" fill="#000">2000</text>
<line x1="26.80" y1="343.40" x2="116.50" y2="343.40" stroke="#000" stroke-width="1.2"/>
<text x="3.80" y="307.60" font-size="6.4" text-anchor="middle" dominant-baseline="central" transform="rotate(-90 3.80 307.60)" fill="#000">pg/mL</text>
<line x1="38.20" y1="322.30" x2="38.20" y2="319.20" stroke="#000" stroke-width="1.0"/>
<line x1="34.20" y1="319.20" x2="42.20" y2="319.20" stroke="#000" stroke-width="1.0"/>
<rect x="31.10" y="322.80" width="14.20" height="20.60" fill="#ffffff" stroke="#000" stroke-width="1.0"/>
<line x1="59.90" y1="289.00" x2="59.90" y2="280.70" stroke="#000" stroke-width="1.0"/>
<line x1="55.90" y1="280.70" x2="63.90" y2="280.70" stroke="#000" stroke-width="1.0"/>
<rect x="52.80" y="289.50" width="14.20" height="53.90" fill="#000000" stroke="#000" stroke-width="1.0"/>
<line x1="82.00" y1="321.30" x2="82.00" y2="319.20" stroke="#000" stroke-width="1.0"/>
<line x1="78.00" y1="319.20" x2="86.00" y2="319.20" stroke="#000" stroke-width="1.0"/>
<rect x="74.90" y="321.80" width="14.20" height="21.60" fill="#cccccc" stroke="#000" stroke-width="1.0"/>
<line x1="104.10" y1="307.30" x2="104.10" y2="297.90" stroke="#000" stroke-width="1.0"/>
<line x1="100.10" y1="297.90" x2="108.10" y2="297.90" stroke="#000" stroke-width="1.0"/>
<rect x="97.00" y="307.80" width="14.20" height="35.60" fill="#7f7f7f" stroke="#000" stroke-width="1.0"/>
<path d="M56.47 276.20h1.87M56.85 275.26l1.12 1.87M57.97 275.26l-1.12 1.87" stroke="#000" stroke-width="0.84" fill="none"/>
<path d="M59.06 276.20h1.87M59.44 275.26l1.12 1.87M60.56 275.26l-1.12 1.87" stroke="#000" stroke-width="0.84" fill="none"/>
<path d="M61.66 276.20h1.87M62.03 275.26l1.12 1.87M63.15 275.26l-1.12 1.87" stroke="#000" stroke-width="0.84" fill="none"/>
<path d="M103.06 293.40h1.87M103.44 292.46l1.12 1.87M104.56 292.46l-1.12 1.87" stroke="#000" stroke-width="0.84" fill="none"/>
<text x="124.20" y="248.70" font-size="13.6" text-anchor="start" font-weight="bold" fill="#000">H</text>
<text x="148.00" y="254.00" font-size="7.3" text-anchor="start" font-weight="bold" fill="#000" textLength="74.6" lengthAdjust="spacingAndGlyphs">Fasting plasma leptin</text>
<line x1="152.50" y1="265.80" x2="152.50" y2="343.30" stroke="#000" stroke-width="1.2"/>
<line x1="149.70" y1="343.30" x2="152.50" y2="343.30" stroke="#000" stroke-width="1.2"/>
<text x="150.30" y="342.90" font-size="6.15" text-anchor="end" dominant-baseline="central" fill="#000">0</text>
<line x1="149.70" y1="323.93" x2="152.50" y2="323.93" stroke="#000" stroke-width="1.2"/>
<text x="150.30" y="323.53" font-size="6.15" text-anchor="end" dominant-baseline="central" fill="#000">10000</text>
<line x1="149.70" y1="304.56" x2="152.50" y2="304.56" stroke="#000" stroke-width="1.2"/>
<text x="150.30" y="304.16" font-size="6.15" text-anchor="end" dominant-baseline="central" fill="#000">20000</text>
<line x1="149.70" y1="285.19" x2="152.50" y2="285.19" stroke="#000" stroke-width="1.2"/>
<text x="150.30" y="284.79" font-size="6.15" text-anchor="end" dominant-baseline="central" fill="#000">30000</text>
<line x1="149.70" y1="265.82" x2="152.50" y2="265.82" stroke="#000" stroke-width="1.2"/>
<text x="150.30" y="265.42" font-size="6.15" text-anchor="end" dominant-baseline="central" fill="#000">40000</text>
<line x1="152.50" y1="343.30" x2="253.00" y2="343.30" stroke="#000" stroke-width="1.2"/>
<text x="127.70" y="303.80" font-size="6.4" text-anchor="middle" dominant-baseline="central" transform="rotate(-90 127.70 303.80)" fill="#000">ng/mL</text>
<line x1="166.10" y1="336.70" x2="166.10" y2="334.00" stroke="#000" stroke-width="1.0"/>
<line x1="161.60" y1="334.00" x2="170.60" y2="334.00" stroke="#000" stroke-width="1.0"/>
<rect x="157.80" y="337.20" width="16.60" height="6.10" fill="#ffffff" stroke="#000" stroke-width="1.0"/>
<line x1="191.50" y1="281.50" x2="191.50" y2="272.30" stroke="#000" stroke-width="1.0"/>
<line x1="187.00" y1="272.30" x2="196.00" y2="272.30" stroke="#000" stroke-width="1.0"/>
<rect x="183.20" y="282.00" width="16.60" height="61.30" fill="#000000" stroke="#000" stroke-width="1.0"/>
<line x1="217.10" y1="334.00" x2="217.10" y2="330.60" stroke="#000" stroke-width="1.0"/>
<line x1="212.60" y1="330.60" x2="221.60" y2="330.60" stroke="#000" stroke-width="1.0"/>
<rect x="208.80" y="334.50" width="16.60" height="8.80" fill="#cccccc" stroke="#000" stroke-width="1.0"/>
<line x1="242.50" y1="302.70" x2="242.50" y2="295.00" stroke="#000" stroke-width="1.0"/>
<line x1="238.00" y1="295.00" x2="247.00" y2="295.00" stroke="#000" stroke-width="1.0"/>
<rect x="234.20" y="303.20" width="16.60" height="40.10" fill="#7f7f7f" stroke="#000" stroke-width="1.0"/>
<path d="M187.97 269.60h1.87M188.35 268.66l1.12 1.87M189.47 268.66l-1.12 1.87" stroke="#000" stroke-width="0.84" fill="none"/>
<path d="M190.56 269.60h1.87M190.94 268.66l1.12 1.87M192.06 268.66l-1.12 1.87" stroke="#000" stroke-width="0.84" fill="none"/>
<path d="M193.16 269.60h1.87M193.53 268.66l1.12 1.87M194.65 268.66l-1.12 1.87" stroke="#000" stroke-width="0.84" fill="none"/>
<path d="M238.97 291.60h1.87M239.35 290.66l1.12 1.87M240.47 290.66l-1.12 1.87" stroke="#000" stroke-width="0.84" fill="none"/>
<path d="M241.56 291.60h1.87M241.94 290.66l1.12 1.87M243.06 290.66l-1.12 1.87" stroke="#000" stroke-width="0.84" fill="none"/>
<path d="M244.16 291.60h1.87M244.53 290.66l1.12 1.87M245.65 290.66l-1.12 1.87" stroke="#000" stroke-width="0.84" fill="none"/>
<text x="255.80" y="248.70" font-size="13.6" text-anchor="start" font-weight="bold" fill="#000">I</text>
<text x="277.00" y="254.00" font-size="7.3" text-anchor="start" font-weight="bold" fill="#000" textLength="80.5" lengthAdjust="spacingAndGlyphs">Fasting plasma resistin</text>
<line x1="281.90" y1="265.80" x2="281.90" y2="343.30" stroke="#000" stroke-width="1.2"/>
<line x1="279.10" y1="343.30" x2="281.90" y2="343.30" stroke="#000" stroke-width="1.2"/>
<text x="279.60" y="342.90" font-size="6.15" text-anchor="end" dominant-baseline="central" fill="#000">0</text>
<line x1="279.10" y1="323.93" x2="281.90" y2="323.93" stroke="#000" stroke-width="1.2"/>
<text x="279.60" y="323.53" font-size="6.15" text-anchor="end" dominant-baseline="central" fill="#000">1000</text>
<line x1="279.10" y1="304.56" x2="281.90" y2="304.56" stroke="#000" stroke-width="1.2"/>
<text x="279.60" y="304.16" font-size="6.15" text-anchor="end" dominant-baseline="central" fill="#000">2000</text>
<line x1="279.10" y1="285.19" x2="281.90" y2="285.19" stroke="#000" stroke-width="1.2"/>
<text x="279.60" y="284.79" font-size="6.15" text-anchor="end" dominant-baseline="central" fill="#000">3000</text>
<line x1="279.10" y1="265.82" x2="281.90" y2="265.82" stroke="#000" stroke-width="1.2"/>
<text x="279.60" y="265.42" font-size="6.15" text-anchor="end" dominant-baseline="central" fill="#000">4000</text>
<line x1="281.90" y1="343.30" x2="383.00" y2="343.30" stroke="#000" stroke-width="1.2"/>
<text x="259.20" y="302.80" font-size="6.4" text-anchor="middle" dominant-baseline="central" transform="rotate(-90 259.20 302.80)" fill="#000">ng/mL</text>
<line x1="295.50" y1="319.40" x2="295.50" y2="317.20" stroke="#000" stroke-width="1.0"/>
<line x1="291.00" y1="317.20" x2="300.00" y2="317.20" stroke="#000" stroke-width="1.0"/>
<rect x="287.20" y="319.90" width="16.60" height="23.40" fill="#ffffff" stroke="#000" stroke-width="1.0"/>
<line x1="321.10" y1="288.70" x2="321.10" y2="281.50" stroke="#000" stroke-width="1.0"/>
<line x1="316.60" y1="281.50" x2="325.60" y2="281.50" stroke="#000" stroke-width="1.0"/>
<rect x="312.80" y="289.20" width="16.60" height="54.10" fill="#000000" stroke="#000" stroke-width="1.0"/>
<line x1="346.10" y1="320.60" x2="346.10" y2="319.40" stroke="#000" stroke-width="1.0"/>
<line x1="341.60" y1="319.40" x2="350.60" y2="319.40" stroke="#000" stroke-width="1.0"/>
<rect x="337.80" y="321.10" width="16.60" height="22.20" fill="#cccccc" stroke="#000" stroke-width="1.0"/>
<line x1="371.80" y1="298.50" x2="371.80" y2="293.50" stroke="#000" stroke-width="1.0"/>
<line x1="367.30" y1="293.50" x2="376.30" y2="293.50" stroke="#000" stroke-width="1.0"/>
<rect x="363.50" y="299.00" width="16.60" height="44.30" fill="#7f7f7f" stroke="#000" stroke-width="1.0"/>
<path d="M317.57 278.20h1.87M317.95 277.26l1.12 1.87M319.07 277.26l-1.12 1.87" stroke="#000" stroke-width="0.84" fill="none"/>
<path d="M320.16 278.20h1.87M320.54 277.26l1.12 1.87M321.66 277.26l-1.12 1.87" stroke="#000" stroke-width="0.84" fill="none"/>
<path d="M322.76 278.20h1.87M323.13 277.26l1.12 1.87M324.25 277.26l-1.12 1.87" stroke="#000" stroke-width="0.84" fill="none"/>
<path d="M370.86 290.80h1.87M371.24 289.86l1.12 1.87M372.36 289.86l-1.12 1.87" stroke="#000" stroke-width="0.84" fill="none"/>
<text x="388.00" y="248.70" font-size="13.6" text-anchor="start" font-weight="bold" fill="#000">J</text>
<text x="412.00" y="254.00" font-size="7.3" text-anchor="start" font-weight="bold" fill="#000" textLength="97" lengthAdjust="spacingAndGlyphs">Fasting plasma adiponectin</text>
<line x1="418.30" y1="266.50" x2="418.30" y2="343.40" stroke="#000" stroke-width="1.2"/>
<line x1="415.70" y1="343.40" x2="418.30" y2="343.40" stroke="#000" stroke-width="1.2"/>
<text x="414.20" y="344.40" font-size="6.15" text-anchor="end" dominant-baseline="central" fill="#000">0</text>
<line x1="415.70" y1="328.02" x2="418.30" y2="328.02" stroke="#000" stroke-width="1.2"/>
<text x="414.20" y="329.02" font-size="6.15" text-anchor="end" dominant-baseline="central" fill="#000">5000</text>
<line x1="415.70" y1="312.64" x2="418.30" y2="312.64" stroke="#000" stroke-width="1.2"/>
<text x="414.20" y="313.64" font-size="6.15" text-anchor="end" dominant-baseline="central" fill="#000">10000</text>
<line x1="415.70" y1="297.26" x2="418.30" y2="297.26" stroke="#000" stroke-width="1.2"/>
<text x="414.20" y="298.26" font-size="6.15" text-anchor="end" dominant-baseline="central" fill="#000">15000</text>
<line x1="415.70" y1="281.88" x2="418.30" y2="281.88" stroke="#000" stroke-width="1.2"/>
<text x="414.20" y="282.88" font-size="6.15" text-anchor="end" dominant-baseline="central" fill="#000">20000</text>
<line x1="415.70" y1="266.50" x2="418.30" y2="266.50" stroke="#000" stroke-width="1.2"/>
<text x="414.20" y="267.50" font-size="6.15" text-anchor="end" dominant-baseline="central" fill="#000">25000</text>
<line x1="418.30" y1="343.40" x2="520.00" y2="343.40" stroke="#000" stroke-width="1.2"/>
<text x="392.70" y="304.00" font-size="6.4" text-anchor="middle" dominant-baseline="central" transform="rotate(-90 392.70 304.00)" fill="#000">pg/mL</text>
<line x1="431.00" y1="291.20" x2="431.00" y2="286.50" stroke="#000" stroke-width="1.0"/>
<line x1="426.50" y1="286.50" x2="435.50" y2="286.50" stroke="#000" stroke-width="1.0"/>
<rect x="422.80" y="291.70" width="16.40" height="51.70" fill="#ffffff" stroke="#000" stroke-width="1.0"/>
<line x1="456.40" y1="295.40" x2="456.40" y2="291.20" stroke="#000" stroke-width="1.0"/>
<line x1="451.90" y1="291.20" x2="460.90" y2="291.20" stroke="#000" stroke-width="1.0"/>
<rect x="448.20" y="295.90" width="16.40" height="47.50" fill="#000000" stroke="#000" stroke-width="1.0"/>
<line x1="481.70" y1="287.30" x2="481.70" y2="279.10" stroke="#000" stroke-width="1.0"/>
<line x1="477.20" y1="279.10" x2="486.20" y2="279.10" stroke="#000" stroke-width="1.0"/>
<rect x="473.50" y="287.80" width="16.40" height="55.60" fill="#cccccc" stroke="#000" stroke-width="1.0"/>
<line x1="507.10" y1="292.20" x2="507.10" y2="287.30" stroke="#000" stroke-width="1.0"/>
<line x1="502.60" y1="287.30" x2="511.60" y2="287.30" stroke="#000" stroke-width="1.0"/>
<rect x="498.90" y="292.70" width="16.40" height="50.70" fill="#7f7f7f" stroke="#000" stroke-width="1.0"/>
<text x="0.00" y="367.90" font-size="13.6" text-anchor="start" font-weight="bold" fill="#000">K</text>
<text x="29.40" y="363.00" font-size="7.3" text-anchor="start" font-weight="bold" fill="#000" textLength="58.6" lengthAdjust="spacingAndGlyphs">Insulin Tolerance</text>
<line x1="28.60" y1="371.50" x2="28.60" y2="449.90" stroke="#000" stroke-width="1.2"/>
<line x1="25.60" y1="449.90" x2="28.60" y2="449.90" stroke="#000" stroke-width="1.2"/>
<text x="25.20" y="449.50" font-size="6.15" text-anchor="end" dominant-baseline="central" fill="#000">0</text>
<line x1="25.60" y1="423.76" x2="28.60" y2="423.76" stroke="#000" stroke-width="1.2"/>
<text x="25.20" y="423.37" font-size="6.15" text-anchor="end" dominant-baseline="central" fill="#000">50</text>
<line x1="25.60" y1="397.63" x2="28.60" y2="397.63" stroke="#000" stroke-width="1.2"/>
<text x="25.20" y="397.23" font-size="6.15" text-anchor="end" dominant-baseline="central" fill="#000">100</text>
<line x1="25.60" y1="371.50" x2="28.60" y2="371.50" stroke="#000" stroke-width="1.2"/>
<text x="25.20" y="371.10" font-size="6.15" text-anchor="end" dominant-baseline="central" fill="#000">150</text>
<line x1="28.60" y1="449.90" x2="149.00" y2="449.90" stroke="#000" stroke-width="1.2"/>
<line x1="38.80" y1="449.90" x2="38.80" y2="452.40" stroke="#000" stroke-width="1.2"/>
<text x="38.80" y="455.90" font-size="6.15" text-anchor="middle" dominant-baseline="central" fill="#000">0</text>
<line x1="58.80" y1="449.90" x2="58.80" y2="452.40" stroke="#000" stroke-width="1.2"/>
<text x="58.80" y="455.90" font-size="6.15" text-anchor="middle" dominant-baseline="central" fill="#000">15</text>
<line x1="78.80" y1="449.90" x2="78.80" y2="452.40" stroke="#000" stroke-width="1.2"/>
<text x="78.80" y="455.90" font-size="6.15" text-anchor="middle" dominant-baseline="central" fill="#000">30</text>
<line x1="98.80" y1="449.90" x2="98.80" y2="452.40" stroke="#000" stroke-width="1.2"/>
<text x="98.80" y="455.90" font-size="6.15" text-anchor="middle" dominant-baseline="central" fill="#000">60</text>
<line x1="118.80" y1="449.90" x2="118.80" y2="452.40" stroke="#000" stroke-width="1.2"/>
<text x="118.80" y="455.90" font-size="6.15" text-anchor="middle" dominant-baseline="central" fill="#000">90</text>
<line x1="138.80" y1="449.90" x2="138.80" y2="452.40" stroke="#000" stroke-width="1.2"/>
<text x="138.80" y="455.90" font-size="6.15" text-anchor="middle" dominant-baseline="central" fill="#000">120</text>
<text x="86.80" y="465.50" font-size="6.4" text-anchor="middle" dominant-baseline="central" fill="#000">Time after insulin injection ( min)</text>
<text x="8.50" y="413.30" font-size="6.4" text-anchor="middle" dominant-baseline="central" transform="rotate(-90 8.50 413.30)" fill="#000">Glycemia  (% of basal)</text>
<polyline points="38.80,397.60 58.80,416.50 78.80,428.40 98.80,430.20 118.80,424.00 138.80,416.90" fill="none" stroke="#000" stroke-width="1.2"/>
<polyline points="38.80,397.60 58.80,416.00 78.80,428.00 98.80,418.00 118.80,416.30 138.80,404.60" fill="none" stroke="#000" stroke-width="1.2" stroke-dasharray="2,1"/>
<polyline points="38.80,397.60 58.80,398.50 78.80,403.50 98.80,418.00 118.80,410.60 138.80,404.40" fill="none" stroke="#000" stroke-width="1.2"/>
<polyline points="38.80,397.60 58.80,408.80 78.80,419.60 98.80,418.00 118.80,411.50 138.80,405.00" fill="none" stroke="#000" stroke-width="1.2" stroke-dasharray="2,1"/>
<rect x="36.85" y="395.65" width="3.90" height="3.90" fill="#fff" stroke="#000" stroke-width="0.9"/>
<line x1="58.80" y1="415.00" x2="58.80" y2="418.00" stroke="#000" stroke-width="0.8"/>
<line x1="57.50" y1="415.00" x2="60.10" y2="415.00" stroke="#000" stroke-width="0.8"/>
<line x1="57.50" y1="418.00" x2="60.10" y2="418.00" stroke="#000" stroke-width="0.8"/>
<rect x="56.85" y="414.55" width="3.90" height="3.90" fill="#fff" stroke="#000" stroke-width="0.9"/>
<line x1="78.80" y1="427.20" x2="78.80" y2="429.60" stroke="#000" stroke-width="0.8"/>
<line x1="77.50" y1="427.20" x2="80.10" y2="427.20" stroke="#000" stroke-width="0.8"/>
<line x1="77.50" y1="429.60" x2="80.10" y2="429.60" stroke="#000" stroke-width="0.8"/>
<rect x="76.85" y="426.45" width="3.90" height="3.90" fill="#fff" stroke="#000" stroke-width="0.9"/>
<line x1="98.80" y1="428.70" x2="98.80" y2="431.70" stroke="#000" stroke-width="0.8"/>
<line x1="97.50" y1="428.70" x2="100.10" y2="428.70" stroke="#000" stroke-width="0.8"/>
<line x1="97.50" y1="431.70" x2="100.10" y2="431.70" stroke="#000" stroke-width="0.8"/>
<rect x="96.85" y="428.25" width="3.90" height="3.90" fill="#fff" stroke="#000" stroke-width="0.9"/>
<line x1="118.80" y1="422.50" x2="118.80" y2="425.50" stroke="#000" stroke-width="0.8"/>
<line x1="117.50" y1="422.50" x2="120.10" y2="422.50" stroke="#000" stroke-width="0.8"/>
<line x1="117.50" y1="425.50" x2="120.10" y2="425.50" stroke="#000" stroke-width="0.8"/>
<rect x="116.85" y="422.05" width="3.90" height="3.90" fill="#fff" stroke="#000" stroke-width="0.9"/>
<line x1="138.80" y1="414.90" x2="138.80" y2="418.90" stroke="#000" stroke-width="0.8"/>
<line x1="137.50" y1="414.90" x2="140.10" y2="414.90" stroke="#000" stroke-width="0.8"/>
<line x1="137.50" y1="418.90" x2="140.10" y2="418.90" stroke="#000" stroke-width="0.8"/>
<rect x="136.85" y="414.95" width="3.90" height="3.90" fill="#fff" stroke="#000" stroke-width="0.9"/>
<circle cx="38.80" cy="397.60" r="2.05" fill="#fff" stroke="#000" stroke-width="0.9"/>
<line x1="58.80" y1="414.50" x2="58.80" y2="417.50" stroke="#000" stroke-width="0.8"/>
<line x1="57.50" y1="414.50" x2="60.10" y2="414.50" stroke="#000" stroke-width="0.8"/>
<line x1="57.50" y1="417.50" x2="60.10" y2="417.50" stroke="#000" stroke-width="0.8"/>
<circle cx="58.80" cy="416.00" r="2.05" fill="#fff" stroke="#000" stroke-width="0.9"/>
<line x1="78.80" y1="426.50" x2="78.80" y2="429.50" stroke="#000" stroke-width="0.8"/>
<line x1="77.50" y1="426.50" x2="80.10" y2="426.50" stroke="#000" stroke-width="0.8"/>
<line x1="77.50" y1="429.50" x2="80.10" y2="429.50" stroke="#000" stroke-width="0.8"/>
<circle cx="78.80" cy="428.00" r="2.05" fill="#fff" stroke="#000" stroke-width="0.9"/>
<line x1="98.80" y1="415.50" x2="98.80" y2="420.50" stroke="#000" stroke-width="0.8"/>
<line x1="97.50" y1="415.50" x2="100.10" y2="415.50" stroke="#000" stroke-width="0.8"/>
<line x1="97.50" y1="420.50" x2="100.10" y2="420.50" stroke="#000" stroke-width="0.8"/>
<circle cx="98.80" cy="418.00" r="2.05" fill="#fff" stroke="#000" stroke-width="0.9"/>
<line x1="118.80" y1="414.30" x2="118.80" y2="418.30" stroke="#000" stroke-width="0.8"/>
<line x1="117.50" y1="414.30" x2="120.10" y2="414.30" stroke="#000" stroke-width="0.8"/>
<line x1="117.50" y1="418.30" x2="120.10" y2="418.30" stroke="#000" stroke-width="0.8"/>
<circle cx="118.80" cy="416.30" r="2.05" fill="#fff" stroke="#000" stroke-width="0.9"/>
<line x1="138.80" y1="403.10" x2="138.80" y2="406.10" stroke="#000" stroke-width="0.8"/>
<line x1="137.50" y1="403.10" x2="140.10" y2="403.10" stroke="#000" stroke-width="0.8"/>
<line x1="137.50" y1="406.10" x2="140.10" y2="406.10" stroke="#000" stroke-width="0.8"/>
<circle cx="138.80" cy="404.60" r="2.05" fill="#fff" stroke="#000" stroke-width="0.9"/>
<path d="M38.80 400.05L41.25 395.65L36.35 395.65Z" fill="#555" stroke="#000" stroke-width="0.9"/>
<line x1="58.80" y1="407.30" x2="58.80" y2="410.30" stroke="#000" stroke-width="0.8"/>
<line x1="57.50" y1="407.30" x2="60.10" y2="407.30" stroke="#000" stroke-width="0.8"/>
<line x1="57.50" y1="410.30" x2="60.10" y2="410.30" stroke="#000" stroke-width="0.8"/>
<path d="M58.80 411.25L61.25 406.85L56.35 406.85Z" fill="#555" stroke="#000" stroke-width="0.9"/>
<line x1="78.80" y1="418.10" x2="78.80" y2="421.10" stroke="#000" stroke-width="0.8"/>
<line x1="77.50" y1="418.10" x2="80.10" y2="418.10" stroke="#000" stroke-width="0.8"/>
<line x1="77.50" y1="421.10" x2="80.10" y2="421.10" stroke="#000" stroke-width="0.8"/>
<path d="M78.80 422.05L81.25 417.65L76.35 417.65Z" fill="#555" stroke="#000" stroke-width="0.9"/>
<line x1="98.80" y1="416.00" x2="98.80" y2="420.00" stroke="#000" stroke-width="0.8"/>
<line x1="97.50" y1="416.00" x2="100.10" y2="416.00" stroke="#000" stroke-width="0.8"/>
<line x1="97.50" y1="420.00" x2="100.10" y2="420.00" stroke="#000" stroke-width="0.8"/>
<path d="M98.80 420.45L101.25 416.05L96.35 416.05Z" fill="#555" stroke="#000" stroke-width="0.9"/>
<line x1="118.80" y1="409.50" x2="118.80" y2="413.50" stroke="#000" stroke-width="0.8"/>
<line x1="117.50" y1="409.50" x2="120.10" y2="409.50" stroke="#000" stroke-width="0.8"/>
<line x1="117.50" y1="413.50" x2="120.10" y2="413.50" stroke="#000" stroke-width="0.8"/>
<path d="M118.80 413.95L121.25 409.55L116.35 409.55Z" fill="#555" stroke="#000" stroke-width="0.9"/>
<line x1="138.80" y1="403.00" x2="138.80" y2="407.00" stroke="#000" stroke-width="0.8"/>
<line x1="137.50" y1="403.00" x2="140.10" y2="403.00" stroke="#000" stroke-width="0.8"/>
<line x1="137.50" y1="407.00" x2="140.10" y2="407.00" stroke="#000" stroke-width="0.8"/>
<path d="M138.80 407.45L141.25 403.05L136.35 403.05Z" fill="#555" stroke="#000" stroke-width="0.9"/>
<path d="M38.80 395.15L41.25 399.55L36.35 399.55Z" fill="#000" stroke="#000" stroke-width="0.54"/>
<line x1="58.80" y1="392.50" x2="58.80" y2="404.50" stroke="#000" stroke-width="0.8"/>
<line x1="57.50" y1="392.50" x2="60.10" y2="392.50" stroke="#000" stroke-width="0.8"/>
<line x1="57.50" y1="404.50" x2="60.10" y2="404.50" stroke="#000" stroke-width="0.8"/>
<path d="M58.80 396.05L61.25 400.45L56.35 400.45Z" fill="#000" stroke="#000" stroke-width="0.54"/>
<line x1="78.80" y1="399.00" x2="78.80" y2="408.00" stroke="#000" stroke-width="0.8"/>
<line x1="77.50" y1="399.00" x2="80.10" y2="399.00" stroke="#000" stroke-width="0.8"/>
<line x1="77.50" y1="408.00" x2="80.10" y2="408.00" stroke="#000" stroke-width="0.8"/>
<path d="M78.80 401.05L81.25 405.45L76.35 405.45Z" fill="#000" stroke="#000" stroke-width="0.54"/>
<line x1="98.80" y1="414.50" x2="98.80" y2="421.50" stroke="#000" stroke-width="0.8"/>
<line x1="97.50" y1="414.50" x2="100.10" y2="414.50" stroke="#000" stroke-width="0.8"/>
<line x1="97.50" y1="421.50" x2="100.10" y2="421.50" stroke="#000" stroke-width="0.8"/>
<path d="M98.80 415.55L101.25 419.95L96.35 419.95Z" fill="#000" stroke="#000" stroke-width="0.54"/>
<line x1="118.80" y1="408.10" x2="118.80" y2="413.10" stroke="#000" stroke-width="0.8"/>
<line x1="117.50" y1="408.10" x2="120.10" y2="408.10" stroke="#000" stroke-width="0.8"/>
<line x1="117.50" y1="413.10" x2="120.10" y2="413.10" stroke="#000" stroke-width="0.8"/>
<path d="M118.80 408.15L121.25 412.55L116.35 412.55Z" fill="#000" stroke="#000" stroke-width="0.54"/>
<line x1="138.80" y1="402.40" x2="138.80" y2="406.40" stroke="#000" stroke-width="0.8"/>
<line x1="137.50" y1="402.40" x2="140.10" y2="402.40" stroke="#000" stroke-width="0.8"/>
<line x1="137.50" y1="406.40" x2="140.10" y2="406.40" stroke="#000" stroke-width="0.8"/>
<path d="M138.80 401.95L141.25 406.35L136.35 406.35Z" fill="#000" stroke="#000" stroke-width="0.54"/>
<path d="M57.97 388.00h1.66M58.30 387.17l1.00 1.66M59.30 387.17l-1.00 1.66" stroke="#000" stroke-width="0.75" fill="none"/>
<path d="M61.47 405.80h1.66M61.80 404.97l1.00 1.66M62.80 404.97l-1.00 1.66" stroke="#000" stroke-width="0.75" fill="none"/>
<path d="M76.82 394.50h1.66M77.15 393.67l1.00 1.66M78.15 393.67l-1.00 1.66" stroke="#000" stroke-width="0.75" fill="none"/>
<path d="M79.12 394.50h1.66M79.45 393.67l1.00 1.66M80.45 393.67l-1.00 1.66" stroke="#000" stroke-width="0.75" fill="none"/>
<path d="M77.97 413.00h1.66M78.30 412.17l1.00 1.66M79.30 412.17l-1.00 1.66" stroke="#000" stroke-width="0.75" fill="none"/>
<path d="M97.97 406.50h1.66M98.30 405.67l1.00 1.66M99.30 405.67l-1.00 1.66" stroke="#000" stroke-width="0.75" fill="none"/>
<path d="M97.97 410.00h1.66M98.30 409.17l1.00 1.66M99.30 409.17l-1.00 1.66" stroke="#000" stroke-width="0.75" fill="none"/>
<line x1="130.30" y1="361.10" x2="130.30" y2="389.60" stroke="#000" stroke-width="1.2"/>
<line x1="126.00" y1="361.10" x2="130.30" y2="361.10" stroke="#000" stroke-width="1.2"/>
<line x1="126.00" y1="375.50" x2="130.30" y2="375.50" stroke="#000" stroke-width="1.2"/>
<line x1="126.00" y1="389.60" x2="161.00" y2="389.60" stroke="#000" stroke-width="1.2"/>
<text x="123.6" y="362.5" font-size="5.4" text-anchor="end" dominant-baseline="central" textLength="11.1" lengthAdjust="spacingAndGlyphs">600</text>
<text x="123.6" y="376.8" font-size="5.4" text-anchor="end" dominant-baseline="central" textLength="11.1" lengthAdjust="spacingAndGlyphs">300</text>
<text x="123.6" y="389.2" font-size="5.4" text-anchor="end" dominant-baseline="central">0</text>
<text x="105.9" y="374.5" font-size="6.6" text-anchor="middle" dominant-baseline="central" textLength="10.7" lengthAdjust="spacingAndGlyphs" transform="rotate(-90 105.9 374.5)">U.A.</text>
<rect x="132.10" y="372.00" width="4.00" height="17.60" fill="#ffffff" stroke="#000" stroke-width="1.0"/>
<line x1="141.80" y1="365.00" x2="141.80" y2="363.00" stroke="#000" stroke-width="1.0"/>
<line x1="140.30" y1="363.00" x2="143.30" y2="363.00" stroke="#000" stroke-width="1.0"/>
<rect x="139.80" y="365.50" width="4.00" height="24.10" fill="#000000" stroke="#000" stroke-width="1.0"/>
<rect x="148.30" y="370.70" width="4.00" height="18.90" fill="#cccccc" stroke="#000" stroke-width="1.0"/>
<line x1="157.70" y1="367.20" x2="157.70" y2="365.80" stroke="#000" stroke-width="1.0"/>
<line x1="156.20" y1="365.80" x2="159.20" y2="365.80" stroke="#000" stroke-width="1.0"/>
<rect x="155.70" y="367.70" width="4.00" height="21.90" fill="#7f7f7f" stroke="#000" stroke-width="1.0"/>
<path d="M138.66 361.00h1.66M139.00 360.17l1.00 1.66M140.00 360.17l-1.00 1.66" stroke="#000" stroke-width="0.75" fill="none"/>
<path d="M140.97 361.00h1.66M141.30 360.17l1.00 1.66M142.30 360.17l-1.00 1.66" stroke="#000" stroke-width="0.75" fill="none"/>
<path d="M143.27 361.00h1.66M143.60 360.17l1.00 1.66M144.60 360.17l-1.00 1.66" stroke="#000" stroke-width="0.75" fill="none"/>
<path d="M154.56 364.00h1.66M154.90 363.17l1.00 1.66M155.90 363.17l-1.00 1.66" stroke="#000" stroke-width="0.75" fill="none"/>
<path d="M156.87 364.00h1.66M157.20 363.17l1.00 1.66M158.20 363.17l-1.00 1.66" stroke="#000" stroke-width="0.75" fill="none"/>
<path d="M159.17 364.00h1.66M159.50 363.17l1.00 1.66M160.50 363.17l-1.00 1.66" stroke="#000" stroke-width="0.75" fill="none"/>
<text x="197.00" y="367.20" font-size="13.6" text-anchor="start" font-weight="bold" fill="#000">L</text>
<text x="228.10" y="363.00" font-size="7.3" text-anchor="start" font-weight="bold" fill="#000" textLength="62" lengthAdjust="spacingAndGlyphs">Glucose tolerance</text>
<line x1="218.40" y1="371.50" x2="218.40" y2="450.40" stroke="#000" stroke-width="1.2"/>
<line x1="215.60" y1="450.40" x2="218.40" y2="450.40" stroke="#000" stroke-width="1.2"/>
<text x="215.20" y="450.00" font-size="6.15" text-anchor="end" dominant-baseline="central" fill="#000">50</text>
<line x1="215.60" y1="440.55" x2="218.40" y2="440.55" stroke="#000" stroke-width="1.2"/>
<text x="215.20" y="440.15" font-size="6.15" text-anchor="end" dominant-baseline="central" fill="#000">100</text>
<line x1="215.60" y1="430.70" x2="218.40" y2="430.70" stroke="#000" stroke-width="1.2"/>
<text x="215.20" y="430.30" font-size="6.15" text-anchor="end" dominant-baseline="central" fill="#000">150</text>
<line x1="215.60" y1="420.85" x2="218.40" y2="420.85" stroke="#000" stroke-width="1.2"/>
<text x="215.20" y="420.45" font-size="6.15" text-anchor="end" dominant-baseline="central" fill="#000">200</text>
<line x1="215.60" y1="411.00" x2="218.40" y2="411.00" stroke="#000" stroke-width="1.2"/>
<text x="215.20" y="410.60" font-size="6.15" text-anchor="end" dominant-baseline="central" fill="#000">250</text>
<line x1="215.60" y1="401.15" x2="218.40" y2="401.15" stroke="#000" stroke-width="1.2"/>
<text x="215.20" y="400.75" font-size="6.15" text-anchor="end" dominant-baseline="central" fill="#000">300</text>
<line x1="215.60" y1="391.30" x2="218.40" y2="391.30" stroke="#000" stroke-width="1.2"/>
<text x="215.20" y="390.90" font-size="6.15" text-anchor="end" dominant-baseline="central" fill="#000">350</text>
<line x1="215.60" y1="381.45" x2="218.40" y2="381.45" stroke="#000" stroke-width="1.2"/>
<text x="215.20" y="381.05" font-size="6.15" text-anchor="end" dominant-baseline="central" fill="#000">400</text>
<line x1="215.60" y1="371.60" x2="218.40" y2="371.60" stroke="#000" stroke-width="1.2"/>
<text x="215.20" y="371.20" font-size="6.15" text-anchor="end" dominant-baseline="central" fill="#000">450</text>
<line x1="218.40" y1="450.40" x2="336.00" y2="450.40" stroke="#000" stroke-width="1.2"/>
<line x1="231.80" y1="450.40" x2="231.80" y2="452.90" stroke="#000" stroke-width="1.2"/>
<text x="231.80" y="456.00" font-size="6.15" text-anchor="middle" dominant-baseline="central" fill="#000">-30</text>
<line x1="255.48" y1="450.40" x2="255.48" y2="452.90" stroke="#000" stroke-width="1.2"/>
<text x="255.48" y="456.00" font-size="6.15" text-anchor="middle" dominant-baseline="central" fill="#000">0</text>
<line x1="279.16" y1="450.40" x2="279.16" y2="452.90" stroke="#000" stroke-width="1.2"/>
<text x="279.16" y="456.00" font-size="6.15" text-anchor="middle" dominant-baseline="central" fill="#000">30</text>
<line x1="302.84" y1="450.40" x2="302.84" y2="452.90" stroke="#000" stroke-width="1.2"/>
<text x="302.84" y="456.00" font-size="6.15" text-anchor="middle" dominant-baseline="central" fill="#000">60</text>
<line x1="326.52" y1="450.40" x2="326.52" y2="452.90" stroke="#000" stroke-width="1.2"/>
<text x="326.52" y="456.00" font-size="6.15" text-anchor="middle" dominant-baseline="central" fill="#000">90</text>
<text x="280.00" y="465.50" font-size="6.4" text-anchor="middle" dominant-baseline="central" fill="#000">Time after glucose injection ( min)</text>
<text x="199.10" y="410.20" font-size="6.4" text-anchor="middle" dominant-baseline="central" transform="rotate(-90 199.10 410.20)" fill="#000">Glycemia (mg/dL)</text>
<polyline points="231.80,445.20 255.48,440.60 279.16,412.30 302.84,426.30 326.52,433.30" fill="none" stroke="#000" stroke-width="1.2"/>
<polyline points="231.80,442.50 255.48,440.60 279.16,412.80 302.84,431.20 326.52,437.30" fill="none" stroke="#000" stroke-width="1.2" stroke-dasharray="2,1"/>
<polyline points="231.80,439.20 255.48,437.90 279.16,384.00 302.84,394.80 326.52,406.90" fill="none" stroke="#000" stroke-width="1.2"/>
<polyline points="231.80,430.60 255.48,427.10 279.16,384.50 302.84,402.90 326.52,411.80" fill="none" stroke="#000" stroke-width="1.2" stroke-dasharray="2,1"/>
<line x1="231.80" y1="443.70" x2="231.80" y2="446.70" stroke="#000" stroke-width="0.8"/>
<line x1="230.50" y1="443.70" x2="233.10" y2="443.70" stroke="#000" stroke-width="0.8"/>
<line x1="230.50" y1="446.70" x2="233.10" y2="446.70" stroke="#000" stroke-width="0.8"/>
<rect x="229.85" y="443.25" width="3.90" height="3.90" fill="#fff" stroke="#000" stroke-width="0.9"/>
<line x1="255.48" y1="439.40" x2="255.48" y2="441.80" stroke="#000" stroke-width="0.8"/>
<line x1="254.18" y1="439.40" x2="256.78" y2="439.40" stroke="#000" stroke-width="0.8"/>
<line x1="254.18" y1="441.80" x2="256.78" y2="441.80" stroke="#000" stroke-width="0.8"/>
<rect x="253.53" y="438.65" width="3.90" height="3.90" fill="#fff" stroke="#000" stroke-width="0.9"/>
<line x1="279.16" y1="409.30" x2="279.16" y2="415.30" stroke="#000" stroke-width="0.8"/>
<line x1="277.86" y1="409.30" x2="280.46" y2="409.30" stroke="#000" stroke-width="0.8"/>
<line x1="277.86" y1="415.30" x2="280.46" y2="415.30" stroke="#000" stroke-width="0.8"/>
<rect x="277.21" y="410.35" width="3.90" height="3.90" fill="#fff" stroke="#000" stroke-width="0.9"/>
<line x1="302.84" y1="424.80" x2="302.84" y2="427.80" stroke="#000" stroke-width="0.8"/>
<line x1="301.54" y1="424.80" x2="304.14" y2="424.80" stroke="#000" stroke-width="0.8"/>
<line x1="301.54" y1="427.80" x2="304.14" y2="427.80" stroke="#000" stroke-width="0.8"/>
<rect x="300.89" y="424.35" width="3.90" height="3.90" fill="#fff" stroke="#000" stroke-width="0.9"/>
<line x1="326.52" y1="431.80" x2="326.52" y2="434.80" stroke="#000" stroke-width="0.8"/>
<line x1="325.22" y1="431.80" x2="327.82" y2="431.80" stroke="#000" stroke-width="0.8"/>
<line x1="325.22" y1="434.80" x2="327.82" y2="434.80" stroke="#000" stroke-width="0.8"/>
<rect x="324.57" y="431.35" width="3.90" height="3.90" fill="#fff" stroke="#000" stroke-width="0.9"/>
<line x1="231.80" y1="441.00" x2="231.80" y2="444.00" stroke="#000" stroke-width="0.8"/>
<line x1="230.50" y1="441.00" x2="233.10" y2="441.00" stroke="#000" stroke-width="0.8"/>
<line x1="230.50" y1="444.00" x2="233.10" y2="444.00" stroke="#000" stroke-width="0.8"/>
<circle cx="231.80" cy="442.50" r="2.05" fill="#fff" stroke="#000" stroke-width="0.9"/>
<line x1="255.48" y1="439.40" x2="255.48" y2="441.80" stroke="#000" stroke-width="0.8"/>
<line x1="254.18" y1="439.40" x2="256.78" y2="439.40" stroke="#000" stroke-width="0.8"/>
<line x1="254.18" y1="441.80" x2="256.78" y2="441.80" stroke="#000" stroke-width="0.8"/>
<circle cx="255.48" cy="440.60" r="2.05" fill="#fff" stroke="#000" stroke-width="0.9"/>
<line x1="279.16" y1="410.80" x2="279.16" y2="414.80" stroke="#000" stroke-width="0.8"/>
<line x1="277.86" y1="410.80" x2="280.46" y2="410.80" stroke="#000" stroke-width="0.8"/>
<line x1="277.86" y1="414.80" x2="280.46" y2="414.80" stroke="#000" stroke-width="0.8"/>
<circle cx="279.16" cy="412.80" r="2.05" fill="#fff" stroke="#000" stroke-width="0.9"/>
<line x1="302.84" y1="429.70" x2="302.84" y2="432.70" stroke="#000" stroke-width="0.8"/>
<line x1="301.54" y1="429.70" x2="304.14" y2="429.70" stroke="#000" stroke-width="0.8"/>
<line x1="301.54" y1="432.70" x2="304.14" y2="432.70" stroke="#000" stroke-width="0.8"/>
<circle cx="302.84" cy="431.20" r="2.05" fill="#fff" stroke="#000" stroke-width="0.9"/>
<line x1="326.52" y1="435.80" x2="326.52" y2="438.80" stroke="#000" stroke-width="0.8"/>
<line x1="325.22" y1="435.80" x2="327.82" y2="435.80" stroke="#000" stroke-width="0.8"/>
<line x1="325.22" y1="438.80" x2="327.82" y2="438.80" stroke="#000" stroke-width="0.8"/>
<circle cx="326.52" cy="437.30" r="2.05" fill="#fff" stroke="#000" stroke-width="0.9"/>
<line x1="231.80" y1="428.60" x2="231.80" y2="432.60" stroke="#000" stroke-width="0.8"/>
<line x1="230.50" y1="428.60" x2="233.10" y2="428.60" stroke="#000" stroke-width="0.8"/>
<line x1="230.50" y1="432.60" x2="233.10" y2="432.60" stroke="#000" stroke-width="0.8"/>
<path d="M231.80 433.05L234.25 428.65L229.35 428.65Z" fill="#555" stroke="#000" stroke-width="0.9"/>
<line x1="255.48" y1="425.10" x2="255.48" y2="429.10" stroke="#000" stroke-width="0.8"/>
<line x1="254.18" y1="425.10" x2="256.78" y2="425.10" stroke="#000" stroke-width="0.8"/>
<line x1="254.18" y1="429.10" x2="256.78" y2="429.10" stroke="#000" stroke-width="0.8"/>
<path d="M255.48 429.55L257.93 425.15L253.03 425.15Z" fill="#555" stroke="#000" stroke-width="0.9"/>
<line x1="279.16" y1="382.50" x2="279.16" y2="386.50" stroke="#000" stroke-width="0.8"/>
<line x1="277.86" y1="382.50" x2="280.46" y2="382.50" stroke="#000" stroke-width="0.8"/>
<line x1="277.86" y1="386.50" x2="280.46" y2="386.50" stroke="#000" stroke-width="0.8"/>
<path d="M279.16 386.95L281.61 382.55L276.71 382.55Z" fill="#555" stroke="#000" stroke-width="0.9"/>
<line x1="302.84" y1="399.90" x2="302.84" y2="405.90" stroke="#000" stroke-width="0.8"/>
<line x1="301.54" y1="399.90" x2="304.14" y2="399.90" stroke="#000" stroke-width="0.8"/>
<line x1="301.54" y1="405.90" x2="304.14" y2="405.90" stroke="#000" stroke-width="0.8"/>
<path d="M302.84 405.35L305.29 400.95L300.39 400.95Z" fill="#555" stroke="#000" stroke-width="0.9"/>
<line x1="326.52" y1="408.80" x2="326.52" y2="414.80" stroke="#000" stroke-width="0.8"/>
<line x1="325.22" y1="408.80" x2="327.82" y2="408.80" stroke="#000" stroke-width="0.8"/>
<line x1="325.22" y1="414.80" x2="327.82" y2="414.80" stroke="#000" stroke-width="0.8"/>
<path d="M326.52 414.25L328.97 409.85L324.07 409.85Z" fill="#555" stroke="#000" stroke-width="0.9"/>
<line x1="231.80" y1="437.70" x2="231.80" y2="440.70" stroke="#000" stroke-width="0.8"/>
<line x1="230.50" y1="437.70" x2="233.10" y2="437.70" stroke="#000" stroke-width="0.8"/>
<line x1="230.50" y1="440.70" x2="233.10" y2="440.70" stroke="#000" stroke-width="0.8"/>
<path d="M231.80 436.75L234.25 441.15L229.35 441.15Z" fill="#000" stroke="#000" stroke-width="0.54"/>
<line x1="255.48" y1="436.40" x2="255.48" y2="439.40" stroke="#000" stroke-width="0.8"/>
<line x1="254.18" y1="436.40" x2="256.78" y2="436.40" stroke="#000" stroke-width="0.8"/>
<line x1="254.18" y1="439.40" x2="256.78" y2="439.40" stroke="#000" stroke-width="0.8"/>
<path d="M255.48 435.45L257.93 439.85L253.03 439.85Z" fill="#000" stroke="#000" stroke-width="0.54"/>
<line x1="279.16" y1="382.00" x2="279.16" y2="386.00" stroke="#000" stroke-width="0.8"/>
<line x1="277.86" y1="382.00" x2="280.46" y2="382.00" stroke="#000" stroke-width="0.8"/>
<line x1="277.86" y1="386.00" x2="280.46" y2="386.00" stroke="#000" stroke-width="0.8"/>
<path d="M279.16 381.55L281.61 385.95L276.71 385.95Z" fill="#000" stroke="#000" stroke-width="0.54"/>
<line x1="302.84" y1="392.80" x2="302.84" y2="396.80" stroke="#000" stroke-width="0.8"/>
<line x1="301.54" y1="392.80" x2="304.14" y2="392.80" stroke="#000" stroke-width="0.8"/>
<line x1="301.54" y1="396.80" x2="304.14" y2="396.80" stroke="#000" stroke-width="0.8"/>
<path d="M302.84 392.35L305.29 396.75L300.39 396.75Z" fill="#000" stroke="#000" stroke-width="0.54"/>
<line x1="326.52" y1="404.90" x2="326.52" y2="408.90" stroke="#000" stroke-width="0.8"/>
<line x1="325.22" y1="404.90" x2="327.82" y2="404.90" stroke="#000" stroke-width="0.8"/>
<line x1="325.22" y1="408.90" x2="327.82" y2="408.90" stroke="#000" stroke-width="0.8"/>
<path d="M326.52 404.45L328.97 408.85L324.07 408.85Z" fill="#000" stroke="#000" stroke-width="0.54"/>
<path d="M228.66 423.00h1.66M229.00 422.17l1.00 1.66M230.00 422.17l-1.00 1.66" stroke="#000" stroke-width="0.75" fill="none"/>
<path d="M230.97 423.00h1.66M231.30 422.17l1.00 1.66M232.30 422.17l-1.00 1.66" stroke="#000" stroke-width="0.75" fill="none"/>
<path d="M233.27 423.00h1.66M233.60 422.17l1.00 1.66M234.60 422.17l-1.00 1.66" stroke="#000" stroke-width="0.75" fill="none"/>
<path d="M252.34 419.80h1.66M252.68 418.97l1.00 1.66M253.68 418.97l-1.00 1.66" stroke="#000" stroke-width="0.75" fill="none"/>
<path d="M254.65 419.80h1.66M254.98 418.97l1.00 1.66M255.98 418.97l-1.00 1.66" stroke="#000" stroke-width="0.75" fill="none"/>
<path d="M256.95 419.80h1.66M257.28 418.97l1.00 1.66M258.28 418.97l-1.00 1.66" stroke="#000" stroke-width="0.75" fill="none"/>
<path d="M276.02 373.50h1.66M276.36 372.67l1.00 1.66M277.36 372.67l-1.00 1.66" stroke="#000" stroke-width="0.75" fill="none"/>
<path d="M278.33 373.50h1.66M278.66 372.67l1.00 1.66M279.66 372.67l-1.00 1.66" stroke="#000" stroke-width="0.75" fill="none"/>
<path d="M280.63 373.50h1.66M280.96 372.67l1.00 1.66M281.96 372.67l-1.00 1.66" stroke="#000" stroke-width="0.75" fill="none"/>
<path d="M276.02 378.00h1.66M276.36 377.17l1.00 1.66M277.36 377.17l-1.00 1.66" stroke="#000" stroke-width="0.75" fill="none"/>
<path d="M278.33 378.00h1.66M278.66 377.17l1.00 1.66M279.66 377.17l-1.00 1.66" stroke="#000" stroke-width="0.75" fill="none"/>
<path d="M280.63 378.00h1.66M280.96 377.17l1.00 1.66M281.96 377.17l-1.00 1.66" stroke="#000" stroke-width="0.75" fill="none"/>
<path d="M299.70 385.00h1.66M300.04 384.17l1.00 1.66M301.04 384.17l-1.00 1.66" stroke="#000" stroke-width="0.75" fill="none"/>
<path d="M302.01 385.00h1.66M302.34 384.17l1.00 1.66M303.34 384.17l-1.00 1.66" stroke="#000" stroke-width="0.75" fill="none"/>
<path d="M304.31 385.00h1.66M304.64 384.17l1.00 1.66M305.64 384.17l-1.00 1.66" stroke="#000" stroke-width="0.75" fill="none"/>
<path d="M299.70 390.00h1.66M300.04 389.17l1.00 1.66M301.04 389.17l-1.00 1.66" stroke="#000" stroke-width="0.75" fill="none"/>
<path d="M302.01 390.00h1.66M302.34 389.17l1.00 1.66M303.34 389.17l-1.00 1.66" stroke="#000" stroke-width="0.75" fill="none"/>
<path d="M304.31 390.00h1.66M304.64 389.17l1.00 1.66M305.64 389.17l-1.00 1.66" stroke="#000" stroke-width="0.75" fill="none"/>
<path d="M323.38 394.80h1.66M323.72 393.97l1.00 1.66M324.72 393.97l-1.00 1.66" stroke="#000" stroke-width="0.75" fill="none"/>
<path d="M325.69 394.80h1.66M326.02 393.97l1.00 1.66M327.02 393.97l-1.00 1.66" stroke="#000" stroke-width="0.75" fill="none"/>
<path d="M327.99 394.80h1.66M328.32 393.97l1.00 1.66M329.32 393.97l-1.00 1.66" stroke="#000" stroke-width="0.75" fill="none"/>
<path d="M323.38 400.20h1.66M323.72 399.37l1.00 1.66M324.72 399.37l-1.00 1.66" stroke="#000" stroke-width="0.75" fill="none"/>
<path d="M325.69 400.20h1.66M326.02 399.37l1.00 1.66M327.02 399.37l-1.00 1.66" stroke="#000" stroke-width="0.75" fill="none"/>
<path d="M327.99 400.20h1.66M328.32 399.37l1.00 1.66M329.32 399.37l-1.00 1.66" stroke="#000" stroke-width="0.75" fill="none"/>
<line x1="334.90" y1="361.00" x2="334.90" y2="389.40" stroke="#000" stroke-width="1.2"/>
<line x1="330.60" y1="361.00" x2="334.90" y2="361.00" stroke="#000" stroke-width="1.2"/>
<line x1="330.60" y1="375.50" x2="334.90" y2="375.50" stroke="#000" stroke-width="1.2"/>
<line x1="330.60" y1="389.40" x2="370.00" y2="389.40" stroke="#000" stroke-width="1.2"/>
<text x="328.8" y="362.3" font-size="5.3" text-anchor="end" dominant-baseline="central">1500</text>
<text x="328.8" y="375.5" font-size="5.3" text-anchor="end" dominant-baseline="central">750</text>
<text x="328.8" y="388.5" font-size="5.3" text-anchor="end" dominant-baseline="central">0</text>
<text x="313.8" y="371.7" font-size="6.6" text-anchor="middle" dominant-baseline="central" textLength="11.1" lengthAdjust="spacingAndGlyphs" transform="rotate(-90 313.8 371.7)">U.A.</text>
<rect x="336.30" y="377.80" width="4.70" height="11.60" fill="#ffffff" stroke="#000" stroke-width="1.0"/>
<rect x="344.70" y="369.70" width="4.70" height="19.70" fill="#000000" stroke="#000" stroke-width="1.0"/>
<rect x="353.70" y="378.80" width="4.70" height="10.60" fill="#cccccc" stroke="#000" stroke-width="1.0"/>
<rect x="362.40" y="369.70" width="4.70" height="19.70" fill="#7f7f7f" stroke="#000" stroke-width="1.0"/>
<path d="M343.86 366.00h1.66M344.20 365.17l1.00 1.66M345.20 365.17l-1.00 1.66" stroke="#000" stroke-width="0.75" fill="none"/>
<path d="M346.17 366.00h1.66M346.50 365.17l1.00 1.66M347.50 365.17l-1.00 1.66" stroke="#000" stroke-width="0.75" fill="none"/>
<path d="M348.47 366.00h1.66M348.80 365.17l1.00 1.66M349.80 365.17l-1.00 1.66" stroke="#000" stroke-width="0.75" fill="none"/>
<path d="M361.66 364.50h1.66M362.00 363.67l1.00 1.66M363.00 363.67l-1.00 1.66" stroke="#000" stroke-width="0.75" fill="none"/>
<path d="M363.97 364.50h1.66M364.30 363.67l1.00 1.66M365.30 363.67l-1.00 1.66" stroke="#000" stroke-width="0.75" fill="none"/>
<path d="M366.27 364.50h1.66M366.60 363.67l1.00 1.66M367.60 363.67l-1.00 1.66" stroke="#000" stroke-width="0.75" fill="none"/>
<rect x="393.20" y="393.00" width="92.20" height="53.30" fill="none" stroke="#000" stroke-width="1.0"/>
<rect x="413.00" y="398.90" width="9.20" height="4.80" fill="#ffffff" stroke="#000" stroke-width="0.9"/>
<text x="440.8" y="401.30" font-size="6.6" text-anchor="middle" font-weight="bold" dominant-baseline="central">wt</text>
<line x1="457.00" y1="401.30" x2="469.30" y2="401.30" stroke="#000" stroke-width="1.0"/>
<rect x="413.00" y="411.40" width="9.20" height="4.80" fill="#000000" stroke="#000" stroke-width="0.9"/>
<text x="440.8" y="413.80" font-size="6.6" text-anchor="middle" font-weight="bold" dominant-baseline="central">ER&#945;<tspan font-size="4.6" dy="-2.2">-/-</tspan></text>
<line x1="457.00" y1="413.80" x2="469.30" y2="413.80" stroke="#000" stroke-width="1.0"/>
<rect x="413.00" y="423.40" width="9.20" height="4.80" fill="#cccccc" stroke="#000" stroke-width="0.9"/>
<text x="440.8" y="425.80" font-size="6.6" text-anchor="middle" font-weight="bold" dominant-baseline="central">AF-1<tspan font-size="4.6" dy="-2.2">0</tspan></text>
<line x1="457.00" y1="425.80" x2="469.30" y2="425.80" stroke="#000" stroke-width="1.0"/>
<rect x="413.00" y="434.10" width="9.20" height="4.80" fill="#7f7f7f" stroke="#000" stroke-width="0.9"/>
<text x="440.8" y="436.50" font-size="6.6" text-anchor="middle" font-weight="bold" dominant-baseline="central">AF-2<tspan font-size="4.6" dy="-2.2">0</tspan></text>
<line x1="457.00" y1="436.50" x2="469.30" y2="436.50" stroke="#000" stroke-width="1.0"/>
<rect x="460.4" y="398.7" width="5.4" height="5.2" fill="#fff" stroke="#000" stroke-width="1"/>
<path d="M463.1 410.3L467.4 416.7L458.8 416.7Z" fill="#000"/>
<circle cx="463.1" cy="425.8" r="3.0" fill="#ccc" stroke="#000" stroke-width="1"/>
<path d="M463.1 439.6L467.2 433.6L459.0 433.6Z" fill="#888" stroke="#000" stroke-width="0.9"/>
</g></svg>
</body></html>
